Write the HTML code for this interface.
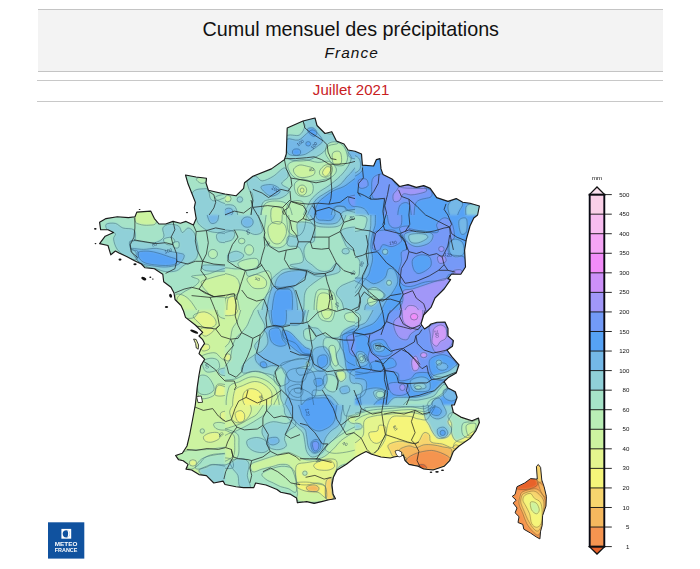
<!DOCTYPE html>
<html><head><meta charset="utf-8">
<style>
html,body{margin:0;padding:0;background:#fff;}
body{width:700px;height:569px;position:relative;overflow:hidden;font-family:"Liberation Sans",sans-serif;}
.hdr{position:absolute;left:37.5px;top:9px;width:625.5px;height:63px;background:#f3f3f3;border-top:1px solid #c4c4c4;border-bottom:1px solid #c4c4c4;box-sizing:border-box;}
.t1{position:absolute;left:0.8px;width:700px;top:17.2px;text-align:center;font-size:19.75px;line-height:24px;color:#111;}
.t2{position:absolute;left:1.7px;width:700px;top:43.1px;text-align:center;letter-spacing:1.05px;font-size:15.4px;line-height:20px;color:#111;font-style:italic;}
.ln{position:absolute;left:37px;width:626px;height:1px;background:#c8c8c8;}
.t3{position:absolute;left:1.1px;width:700px;top:79.8px;text-align:center;letter-spacing:0.05px;font-size:15px;line-height:20px;color:#c8201e;}
svg{position:absolute;left:0;top:0;}
</style></head><body>
<div class="hdr"></div>
<div class="t1">Cumul mensuel des précipitations</div>
<div class="t2">France</div>
<div class="ln" style="top:80px"></div>
<div class="ln" style="top:101px"></div>
<div class="t3">Juillet 2021</div>
<svg width="700" height="569" viewBox="0 0 700 569">
<defs>
<path id="fr" d="M303,121 L315,118 L317,125.5 L325,133.5 L331.8,131.7 L336.4,141 L344,144 L348,150 L355,151.2 L361.5,154 L362.4,165.1 L373.6,166 L376.4,159.6 L380,158.6 L381,168.9 L383,174.4 L392,179 L399.6,186.5 L408,184.6 L416.3,187.4 L423.7,185.6 L430.2,188.4 L436.7,197.6 L448,201.4 L456.2,198.6 L462.7,202.3 L470,203.2 L479.4,206 L477.6,215 L473.8,218 L470,226 L466.4,239 L464.6,250.3 L465.5,267 L460.8,274.2 L451.6,274 L447.9,278.6 L450.6,279.6 L444.1,289 L435,298 L431,307.4 L423.7,315 L421,324 L424.5,329 L429,326 L431,324 L437,322.3 L445,322 L448,328.6 L448,336 L453.4,340.6 L452.5,346.2 L447,350 L451.6,356.4 L459,364.8 L456.2,373.1 L448,377.8 L444.1,381.5 L448,388 L455.3,391.7 L457.1,397.3 L454.3,405 L451.6,405 L453.4,412.4 L460.8,417.1 L472,420.8 L478.5,418 L479.4,422.6 L475.7,431 L470.1,438.4 L459,446 L453.4,451.4 L449.7,460.7 L444.1,466.3 L433,470 L423.7,469 L418.1,466.3 L409,464.4 L405.1,460.7 L403.3,455.1 L394,457 L390.3,458 L381,457 L371.7,454.2 L366.1,451.4 L360.6,454.2 L355,457.5 L346.4,464.3 L337.1,469.9 L333.4,477.3 L332,485 L333,494 L335.5,498.8 L329,499.7 L321.6,501.6 L314.1,503.4 L306.7,501.6 L297.4,502.8 L296.5,497.9 L290,494.1 L280.7,492.3 L277,489.5 L266,485 L255.6,483 L253.8,487.6 L243.6,487.6 L236,486.7 L225,484.5 L223.1,481.1 L213.8,483 L206.4,475.6 L199,474.6 L191.6,470 L186,469.1 L188,464.4 L183.2,460.7 L178.6,459.8 L175.6,455.5 L182.3,453.3 L187,446 L189.7,434.7 L192.5,420 L195.3,405 L196.2,397.3 L197.1,388 L199,375 L200.8,365.7 L204.6,359.2 L199,353.6 L200.8,349 L204.6,343.4 L202.7,339.7 L199,336 L202.7,332.3 L195.3,325 L185.5,317.4 L183.5,311 L181,305.5 L175,299.5 L174,293 L171,287.3 L163.7,281.7 L162.8,274.3 L154.4,268.7 L145,267.8 L141.4,264 L134,260.4 L126.6,256.6 L119,253 L115.4,251 L110.8,254.8 L108,245.5 L99.6,243.6 L105.2,236.2 L113.6,232.5 L108,229.7 L100.6,229.7 L99.6,222.3 L106,218.6 L117.3,216.7 L128.4,217.6 L135,216.7 L136.8,212.1 L150.7,211.1 L154.4,218.6 L159,224 L165.6,224 L173,221.4 L180.4,223.2 L186,221.4 L193.4,225 L196.2,218.6 L194.3,207.4 L195.4,202.4 L191.7,193 L188,183.8 L185.5,175 L196,177 L206.5,178.2 L206,183 L208.4,190.3 L215.8,192 L225,194 L236,195.8 L243.6,188.4 L244.5,182.8 L252.9,176.3 L271.4,168.9 L284.4,159.6 L286.3,154 L287.2,128 Z"/>
<path id="co" d="M538.3,464.5 L536.4,466.4 L537.3,479 L535.4,479 L530.6,478.6 L524.8,482.9 L517,486.7 L515.1,494.4 L512.2,496.4 L516.1,500.2 L513.2,503.1 L517,508 L515.1,512.8 L519,516.7 L518,522.5 L522.8,524.4 L523.8,529.2 L530.6,533.1 L536.4,537 L539.9,538.9 L540.6,531.2 L542.2,525.4 L542.6,515.7 L546,506 L546.4,496.4 L544.1,486.7 L541.8,480 L540.6,467.4 Z"/>
<clipPath id="cfr"><path d="M303,121 L315,118 L317,125.5 L325,133.5 L331.8,131.7 L336.4,141 L344,144 L348,150 L355,151.2 L361.5,154 L362.4,165.1 L373.6,166 L376.4,159.6 L380,158.6 L381,168.9 L383,174.4 L392,179 L399.6,186.5 L408,184.6 L416.3,187.4 L423.7,185.6 L430.2,188.4 L436.7,197.6 L448,201.4 L456.2,198.6 L462.7,202.3 L470,203.2 L479.4,206 L477.6,215 L473.8,218 L470,226 L466.4,239 L464.6,250.3 L465.5,267 L460.8,274.2 L451.6,274 L447.9,278.6 L450.6,279.6 L444.1,289 L435,298 L431,307.4 L423.7,315 L421,324 L424.5,329 L429,326 L431,324 L437,322.3 L445,322 L448,328.6 L448,336 L453.4,340.6 L452.5,346.2 L447,350 L451.6,356.4 L459,364.8 L456.2,373.1 L448,377.8 L444.1,381.5 L448,388 L455.3,391.7 L457.1,397.3 L454.3,405 L451.6,405 L453.4,412.4 L460.8,417.1 L472,420.8 L478.5,418 L479.4,422.6 L475.7,431 L470.1,438.4 L459,446 L453.4,451.4 L449.7,460.7 L444.1,466.3 L433,470 L423.7,469 L418.1,466.3 L409,464.4 L405.1,460.7 L403.3,455.1 L394,457 L390.3,458 L381,457 L371.7,454.2 L366.1,451.4 L360.6,454.2 L355,457.5 L346.4,464.3 L337.1,469.9 L333.4,477.3 L332,485 L333,494 L335.5,498.8 L329,499.7 L321.6,501.6 L314.1,503.4 L306.7,501.6 L297.4,502.8 L296.5,497.9 L290,494.1 L280.7,492.3 L277,489.5 L266,485 L255.6,483 L253.8,487.6 L243.6,487.6 L236,486.7 L225,484.5 L223.1,481.1 L213.8,483 L206.4,475.6 L199,474.6 L191.6,470 L186,469.1 L188,464.4 L183.2,460.7 L178.6,459.8 L175.6,455.5 L182.3,453.3 L187,446 L189.7,434.7 L192.5,420 L195.3,405 L196.2,397.3 L197.1,388 L199,375 L200.8,365.7 L204.6,359.2 L199,353.6 L200.8,349 L204.6,343.4 L202.7,339.7 L199,336 L202.7,332.3 L195.3,325 L185.5,317.4 L183.5,311 L181,305.5 L175,299.5 L174,293 L171,287.3 L163.7,281.7 L162.8,274.3 L154.4,268.7 L145,267.8 L141.4,264 L134,260.4 L126.6,256.6 L119,253 L115.4,251 L110.8,254.8 L108,245.5 L99.6,243.6 L105.2,236.2 L113.6,232.5 L108,229.7 L100.6,229.7 L99.6,222.3 L106,218.6 L117.3,216.7 L128.4,217.6 L135,216.7 L136.8,212.1 L150.7,211.1 L154.4,218.6 L159,224 L165.6,224 L173,221.4 L180.4,223.2 L186,221.4 L193.4,225 L196.2,218.6 L194.3,207.4 L195.4,202.4 L191.7,193 L188,183.8 L185.5,175 L196,177 L206.5,178.2 L206,183 L208.4,190.3 L215.8,192 L225,194 L236,195.8 L243.6,188.4 L244.5,182.8 L252.9,176.3 L271.4,168.9 L284.4,159.6 L286.3,154 L287.2,128 Z"/></clipPath>
<clipPath id="cco"><path d="M538.3,464.5 L536.4,466.4 L537.3,479 L535.4,479 L530.6,478.6 L524.8,482.9 L517,486.7 L515.1,494.4 L512.2,496.4 L516.1,500.2 L513.2,503.1 L517,508 L515.1,512.8 L519,516.7 L518,522.5 L522.8,524.4 L523.8,529.2 L530.6,533.1 L536.4,537 L539.9,538.9 L540.6,531.2 L542.2,525.4 L542.6,515.7 L546,506 L546.4,496.4 L544.1,486.7 L541.8,480 L540.6,467.4 Z"/></clipPath>
<filter id="bl" x="-5%" y="-5%" width="110%" height="110%"><feGaussianBlur stdDeviation="1.1"/></filter>
</defs>
<!-- MAP -->
<g clip-path="url(#cfr)">
<g id="field" filter="url(#bl)">
<rect x="90" y="110" width="400" height="400" fill="#a6e3c8"/>
<clipPath id="t0"><rect x="95" y="115" width="130" height="100"/></clipPath>
<g clip-path="url(#t0)"><rect x="95" y="115" width="130" height="100" fill="#a6e3c8"/>
<path d="M196.2,179.1 C196.3,178.0 200.1,177.0 201.8,176.8 C203.5,176.6 205.7,177.2 206.4,178.1 C207.1,178.9 207.0,181.0 206.1,181.9 C205.2,182.8 202.6,183.8 200.9,183.3 C199.2,182.8 196.0,180.2 196.2,179.1Z" fill="#b9eeb5"/>
<path d="M191.9,193.9 C193.7,188.1 202.1,189.1 204.9,188.7 C207.7,188.3 207.8,189.8 208.7,191.5 C209.6,193.2 209.3,197.0 210.5,198.6 C211.7,200.2 211.9,201.0 215.7,200.8 C219.5,200.6 230.4,193.8 233.4,197.6 C236.4,201.4 239.9,219.1 233.4,223.4 C226.9,227.7 201.3,228.3 194.4,223.4 C187.5,218.5 190.2,199.7 191.9,193.9Z" fill="#90d0d8"/>
<path d="M215.7,196.7 C217.7,195.3 230.4,192.7 233.4,193.9 C236.4,195.1 235.4,202.7 233.4,204.1 C231.4,205.5 224.2,203.5 221.3,202.3 C218.4,201.1 213.7,198.1 215.7,196.7Z" fill="#a6e3c8"/>
<path d="M134.0,211.6 C137.4,209.4 151.0,208.1 154.4,210.1 C157.8,212.1 157.8,221.2 154.4,223.4 C151.0,225.6 137.4,225.4 134.0,223.4 C130.6,221.4 130.6,213.8 134.0,211.6Z" fill="#ccf3a0"/>
</g>
<clipPath id="t1"><rect x="225" y="115" width="130" height="100"/></clipPath>
<g clip-path="url(#t1)"><rect x="225" y="115" width="130" height="100" fill="#a6e3c8"/>
<path d="M286.3,136.4 C288.6,133.1 296.2,136.8 299.3,135.1 C302.4,133.4 304.3,128.7 304.9,126.1 C305.5,123.5 301.0,121.1 303.0,119.6 C305.0,118.1 314.3,115.8 316.9,116.9 C319.5,118.0 317.1,123.3 318.8,126.1 C320.5,128.9 324.2,132.2 327.1,133.6 C330.0,135.0 334.5,132.9 336.4,134.5 C338.3,136.1 339.5,141.1 338.3,142.9 C337.1,144.8 331.5,144.1 329.0,145.6 C326.5,147.1 325.6,150.2 323.4,152.1 C321.2,154.0 318.8,155.4 316.0,156.8 C313.2,158.2 310.4,159.9 306.7,160.5 C303.0,161.1 297.2,161.4 293.7,160.5 C290.1,159.6 286.6,158.9 285.4,154.9 C284.2,150.9 284.0,139.7 286.3,136.4Z" fill="#90d0d8"/>
<path d="M287.2,139.1 C289.2,137.7 295.1,141.0 298.4,140.1 C301.6,139.2 304.4,135.3 306.7,133.6 C309.0,131.9 310.4,129.9 312.3,129.9 C314.2,129.9 316.2,131.8 317.9,133.6 C319.6,135.4 322.7,138.8 322.5,141.0 C322.3,143.2 318.9,144.9 316.9,146.6 C314.9,148.3 312.7,149.8 310.4,151.2 C308.1,152.6 306.4,154.3 303.0,154.9 C299.6,155.5 292.8,156.0 290.0,154.9 C287.2,153.8 286.8,151.0 286.3,148.4 C285.8,145.8 285.2,140.5 287.2,139.1Z" fill="#74b8e7"/>
<ellipse cx="296.5" cy="152.1" rx="4.1" ry="3.2" transform="rotate(0.0 296.5 152.1)" fill="#56a2f5"/>
<ellipse cx="308.2" cy="143.8" rx="2.4" ry="2.2" transform="rotate(0.0 308.2 143.8)" fill="#56a2f5"/>
<path d="M307.6,128.9 C308.2,128.0 311.6,127.4 313.2,128.0 C314.8,128.6 316.8,131.2 316.9,132.6 C317.0,134.0 315.3,136.2 314.1,136.4 C312.9,136.6 310.6,134.8 309.5,133.6 C308.4,132.3 307.0,129.8 307.6,128.9Z" fill="#56a2f5"/>
<path d="M247.3,179.1 C248.4,176.9 253.1,176.0 255.6,176.3 C258.1,176.6 259.2,180.9 262.1,180.9 C265.1,180.9 269.6,178.5 273.3,176.3 C277.0,174.1 281.9,167.9 284.4,167.9 C286.9,167.9 288.6,173.7 288.1,176.3 C287.6,178.9 281.4,181.5 281.6,183.7 C281.8,185.9 288.3,187.4 289.1,189.3 C289.9,191.2 288.0,193.4 286.3,194.9 C284.6,196.4 281.7,197.8 278.9,198.6 C276.1,199.4 272.4,198.6 269.6,199.5 C266.8,200.4 263.7,200.1 262.1,204.1 C260.6,208.1 262.2,220.2 260.3,223.4 C258.4,226.6 252.2,227.9 251.0,223.4 C249.8,218.9 253.2,202.4 252.9,196.7 C252.6,191.0 250.0,192.2 249.1,189.3 C248.2,186.4 246.2,181.3 247.3,179.1Z" fill="#90d0d8"/>
<path d="M261.2,186.5 C262.3,185.2 268.4,184.3 271.4,184.6 C274.4,184.9 277.9,187.0 279.2,188.4 C280.5,189.8 280.5,191.7 279.2,193.0 C277.9,194.3 273.8,196.3 271.4,196.2 C269.0,196.1 266.6,194.0 264.9,192.4 C263.2,190.8 260.1,187.8 261.2,186.5Z" fill="#74b8e7"/>
<path d="M289.1,163.3 C291.4,161.5 298.2,159.8 303.0,159.6 C307.8,159.4 313.6,162.1 317.9,162.4 C322.2,162.7 325.9,160.3 329.0,161.4 C332.1,162.5 335.8,166.4 336.4,168.9 C337.0,171.4 335.2,174.5 332.7,176.3 C330.2,178.2 325.6,179.2 321.6,180.0 C317.6,180.8 312.9,181.2 308.6,180.9 C304.3,180.6 298.9,179.8 295.6,178.1 C292.4,176.4 290.2,173.2 289.1,170.7 C288.0,168.2 286.8,165.2 289.1,163.3Z" fill="#b9eeb5"/>
<path d="M293.7,168.9 C294.5,167.5 297.1,165.6 299.3,165.1 C301.5,164.6 304.2,165.5 306.7,166.1 C309.2,166.7 312.9,167.5 314.1,168.9 C315.3,170.3 315.3,173.0 314.1,174.4 C312.9,175.8 309.2,176.7 306.7,177.2 C304.2,177.7 301.3,177.8 299.3,177.2 C297.3,176.6 295.5,174.9 294.6,173.5 C293.7,172.1 292.9,170.3 293.7,168.9Z" fill="#ccf3a0"/>
<path d="M319.7,170.7 C320.5,169.0 323.3,165.9 325.3,165.1 C327.3,164.3 330.7,164.8 331.8,166.1 C332.9,167.3 332.7,170.8 331.8,172.6 C330.9,174.4 328.1,176.7 326.2,177.2 C324.3,177.7 321.7,176.5 320.6,175.4 C319.5,174.3 318.9,172.4 319.7,170.7Z" fill="#ccf3a0"/>
<path d="M322.5,172.6 C322.6,171.0 324.8,167.8 326.2,167.0 C327.6,166.2 330.4,166.8 330.9,167.9 C331.4,169.0 329.9,172.1 329.0,173.5 C328.1,174.9 326.4,176.5 325.3,176.3 C324.2,176.2 322.4,174.2 322.5,172.6Z" fill="#e4f58e"/>
<path d="M328.1,143.8 C330.0,142.1 333.8,141.4 336.4,141.9 C339.0,142.4 342.0,144.0 343.9,146.6 C345.8,149.2 347.6,154.6 347.6,157.7 C347.6,160.8 346.1,163.9 343.9,165.1 C341.7,166.3 337.1,166.0 334.6,165.1 C332.1,164.2 330.6,161.8 329.0,159.6 C327.4,157.4 325.4,154.7 325.3,152.1 C325.2,149.5 326.2,145.5 328.1,143.8Z" fill="#b9eeb5"/>
<path d="M332.7,153.1 C333.8,151.1 338.7,150.4 340.1,152.1 C341.5,153.8 342.2,161.3 341.1,163.3 C340.0,165.3 335.0,165.9 333.6,164.2 C332.2,162.5 331.6,155.1 332.7,153.1Z" fill="#ccf3a0"/>
<path d="M294.6,183.7 C295.7,181.2 300.1,179.1 303.0,179.1 C305.9,179.1 310.8,181.4 312.3,183.7 C313.9,186.0 313.5,190.8 312.3,193.0 C311.1,195.2 307.5,196.5 304.9,196.7 C302.3,196.8 298.2,196.1 296.5,193.9 C294.8,191.7 293.5,186.2 294.6,183.7Z" fill="#b9eeb5"/>
<ellipse cx="302.1" cy="190.2" rx="4.6" ry="5.2" transform="rotate(0.0 302.1 190.2)" fill="#ccf3a0"/>
<ellipse cx="302.1" cy="190.2" rx="1.9" ry="2.2" transform="rotate(0.0 302.1 190.2)" fill="#e4f58e"/>
<path d="M347.6,149.4 C349.6,148.2 360.8,138.0 363.4,150.3 C366.0,162.6 372.8,211.2 363.4,223.4 C353.9,235.6 315.8,226.6 306.7,223.4 C297.6,220.2 306.7,209.2 308.6,204.1 C310.5,199.0 314.5,196.1 317.9,193.0 C321.3,189.9 325.3,188.4 329.0,185.6 C332.7,182.8 337.0,179.4 340.1,176.3 C343.2,173.2 345.7,170.1 347.6,167.0 C349.5,163.9 351.3,160.6 351.3,157.7 C351.3,154.8 345.6,150.6 347.6,149.4Z" fill="#90d0d8"/>
<path d="M363.4,165.1 C365.7,173.3 372.2,213.7 363.4,223.4 C354.6,233.1 318.6,226.9 310.4,223.4 C302.2,219.9 311.3,207.5 314.1,202.3 C316.9,197.1 322.8,195.1 327.1,192.1 C331.4,189.1 336.4,187.5 340.1,184.6 C343.8,181.7 345.5,177.7 349.4,174.4 C353.3,171.2 361.1,156.9 363.4,165.1Z" fill="#74b8e7"/>
<path d="M363.4,176.3 C360.1,172.4 348.6,184.2 343.9,186.5 C339.1,188.8 337.7,188.6 334.9,190.0 C332.1,191.4 330.0,192.5 327.0,195.0 C324.0,197.5 318.8,200.4 316.9,205.1 C315.0,209.8 312.7,220.3 315.6,223.4 C318.6,226.5 331.4,226.0 334.6,223.4 C337.8,220.8 333.3,210.7 334.9,207.9 C336.4,205.2 341.8,206.5 343.9,206.9 C346.0,207.3 344.4,210.1 347.6,210.6 C350.9,211.1 360.8,215.4 363.4,209.7 C366.0,204.0 366.6,180.2 363.4,176.3Z" fill="#56a2f5"/>
<path d="M333.6,207.9 C335.3,205.1 341.4,206.0 343.9,206.4 C346.4,206.8 345.2,209.6 348.5,210.1 C351.8,210.6 360.9,207.1 363.4,209.3 C365.9,211.5 368.4,221.1 363.4,223.4 C358.4,225.8 338.6,226.0 333.6,223.4 C328.6,220.8 331.9,210.7 333.6,207.9Z" fill="#74b8e7"/>
<path d="M342.9,211.9 C346.5,209.8 360.0,208.7 363.4,210.6 C366.8,212.5 367.0,221.3 363.4,223.4 C359.8,225.5 345.4,225.3 342.0,223.4 C338.6,221.5 339.3,214.0 342.9,211.9Z" fill="#90d0d8"/>
<path d="M349.4,196.7 C351.4,195.1 361.1,194.2 363.4,195.8 C365.7,197.4 365.4,204.4 363.4,206.0 C361.4,207.6 353.6,207.2 351.3,205.6 C349.0,204.0 347.4,198.3 349.4,196.7Z" fill="#7699f7"/>
<path d="M349.4,151.2 C351.6,150.1 361.1,150.0 363.4,151.2 C365.7,152.4 365.6,157.5 363.4,158.6 C361.2,159.7 352.7,158.9 350.4,157.7 C348.1,156.5 347.2,152.3 349.4,151.2Z" fill="#74b8e7"/>
<path d="M264.9,204.1 C268.0,200.4 276.5,200.8 280.7,201.4 C284.9,202.0 288.4,204.2 290.0,207.9 C291.6,211.6 294.6,220.8 290.0,223.4 C285.4,226.0 266.3,226.6 262.1,223.4 C257.9,220.2 261.8,207.8 264.9,204.1Z" fill="#b9eeb5"/>
<path d="M271.4,208.8 C272.5,206.1 277.0,206.4 278.9,206.9 C280.8,207.4 282.3,208.8 282.6,211.6 C282.9,214.3 282.4,221.4 280.7,223.4 C279.0,225.4 273.9,225.8 272.4,223.4 C270.8,221.0 270.3,211.6 271.4,208.8Z" fill="#ccf3a0"/>
<ellipse cx="227.8" cy="198.6" rx="3.3" ry="3.3" transform="rotate(0.0 227.8 198.6)" fill="#ccf3a0"/>
<ellipse cx="239.9" cy="199.5" rx="2.8" ry="2.8" transform="rotate(0.0 239.9 199.5)" fill="#90d0d8"/>
<path d="M216.6,207.9 C219.6,205.0 231.1,203.4 234.3,206.0 C237.6,208.6 239.1,220.5 236.1,223.4 C233.1,226.3 219.8,226.0 216.6,223.4 C213.3,220.8 213.6,210.8 216.6,207.9Z" fill="#90d0d8"/>
<ellipse cx="228.7" cy="211.9" rx="4.1" ry="3.7" transform="rotate(0.0 228.7 211.9)" fill="#74b8e7"/>
<path d="M288.1,204.1 C290.6,200.6 300.2,199.1 303.0,202.3 C305.8,205.5 307.4,219.9 304.9,223.4 C302.4,226.9 290.9,226.6 288.1,223.4 C285.3,220.2 285.6,207.6 288.1,204.1Z" fill="#b9eeb5"/>
</g>
<clipPath id="t2"><rect x="355" y="115" width="130" height="100"/></clipPath>
<g clip-path="url(#t2)"><rect x="355" y="115" width="130" height="100" fill="#56a2f5"/>
<path d="M373.6,177.2 C376.2,174.7 383.3,172.5 387.5,174.1 C391.7,175.7 393.8,184.1 398.6,186.5 C403.4,188.9 411.2,187.9 416.3,188.4 C421.4,188.9 426.8,187.9 429.3,189.3 C431.8,190.7 433.3,194.5 431.1,196.7 C428.9,198.9 419.7,197.9 416.3,202.3 C412.9,206.8 416.0,219.9 410.7,223.4 C405.4,226.9 389.0,227.2 384.7,223.4 C380.4,219.6 386.5,204.5 384.7,200.4 C382.9,196.3 375.8,200.4 373.6,198.6 C371.4,196.8 371.7,192.9 371.7,189.3 C371.7,185.7 371.0,179.7 373.6,177.2Z" fill="#7699f7"/>
<path d="M399.6,206.0 C401.3,202.8 407.0,201.2 408.9,204.1 C410.8,207.0 412.4,220.2 410.7,223.4 C409.0,226.6 400.5,226.3 398.6,223.4 C396.8,220.5 397.9,209.2 399.6,206.0Z" fill="#56a2f5"/>
<path d="M399.6,186.5 C401.6,185.7 406.1,185.0 408.9,185.2 C411.7,185.4 413.8,187.6 416.3,187.8 C418.8,188.0 422.0,185.9 423.7,186.5 C425.4,187.1 427.4,189.9 426.5,191.1 C425.6,192.3 420.7,193.3 418.1,193.9 C415.5,194.5 413.2,194.9 410.7,194.9 C408.2,194.9 405.1,193.0 403.3,193.9 C401.5,194.8 401.2,199.2 399.6,200.4 C398.1,201.7 395.1,202.3 394.0,201.4 C392.9,200.5 392.6,196.8 393.1,194.9 C393.6,193.0 395.7,191.6 396.8,190.2 C397.9,188.8 397.6,187.3 399.6,186.5Z" fill="#a197f8"/>
<path d="M358.7,180.0 C359.9,178.8 364.6,178.2 366.1,179.1 C367.7,180.0 368.6,184.0 368.0,185.6 C367.4,187.2 363.9,188.2 362.4,188.4 C360.8,188.6 359.3,187.9 358.7,186.5 C358.1,185.1 357.5,181.2 358.7,180.0Z" fill="#7699f7"/>
<path d="M346.6,149.4 C348.9,145.3 357.9,149.8 360.6,152.1 C363.3,154.4 362.8,159.9 362.8,163.3 C362.8,166.7 363.3,170.4 360.6,172.6 C357.9,174.8 348.9,180.6 346.6,176.7 C344.3,172.8 344.3,153.5 346.6,149.4Z" fill="#74b8e7"/>
<path d="M346.6,154.9 C348.6,152.2 356.6,155.6 358.7,158.1 C360.8,160.6 361.5,167.1 359.5,169.8 C357.5,172.5 348.8,176.6 346.6,174.1 C344.5,171.6 344.6,157.6 346.6,154.9Z" fill="#90d0d8"/>
<path d="M346.6,207.9 C349.6,205.5 360.6,206.2 364.3,208.8 C368.0,211.4 371.8,221.0 368.9,223.4 C365.9,225.8 350.3,226.0 346.6,223.4 C342.9,220.8 343.7,210.3 346.6,207.9Z" fill="#74b8e7"/>
<path d="M451.6,200.4 C453.5,198.8 457.1,198.0 459.0,198.6 C460.9,199.2 462.7,201.9 462.7,204.1 C462.7,206.3 460.6,208.4 459.0,211.6 C457.4,214.8 455.2,224.0 453.4,223.4 C451.5,222.8 448.2,211.7 447.9,207.9 C447.6,204.1 449.8,202.0 451.6,200.4Z" fill="#74b8e7"/>
<path d="M466.4,206.0 C468.2,203.1 477.5,203.1 479.4,206.0 C481.3,208.9 479.5,220.5 477.6,223.4 C475.8,226.3 470.2,226.3 468.3,223.4 C466.4,220.5 464.5,208.9 466.4,206.0Z" fill="#90d0d8"/>
</g>
<clipPath id="t3"><rect x="95" y="215" width="130" height="95"/></clipPath>
<g clip-path="url(#t3)"><rect x="95" y="215" width="130" height="95" fill="#a6e3c8"/>
<path d="M134.9,206.6 C138.2,204.3 150.8,204.0 154.4,206.6 C158.0,209.2 157.2,219.3 156.3,222.4 C155.4,225.5 151.7,224.9 148.9,225.2 C146.1,225.5 141.9,225.1 139.6,224.3 C137.3,223.5 135.7,223.6 134.9,220.6 C134.1,217.6 131.7,208.9 134.9,206.6Z" fill="#ccf3a0"/>
<path d="M106.1,224.3 C107.3,223.1 112.6,222.8 115.4,223.4 C118.2,224.0 119.8,226.9 122.9,228.0 C126.0,229.1 132.0,227.9 134.0,229.9 C136.0,231.9 135.5,238.1 134.9,240.1 C134.3,242.1 130.9,240.3 130.3,241.9 C129.7,243.5 130.0,247.9 131.2,249.4 C132.4,250.9 136.8,249.5 137.7,251.2 C138.6,252.9 138.7,258.7 136.8,259.6 C135.0,260.5 129.8,258.5 126.6,256.8 C123.3,255.1 119.5,252.4 117.3,249.4 C115.1,246.4 113.9,241.7 113.6,239.1 C113.3,236.5 116.3,235.0 115.4,233.6 C114.5,232.2 109.5,232.4 108.0,230.8 C106.5,229.2 104.9,225.5 106.1,224.3Z" fill="#90d0d8"/>
<path d="M130.3,241.0 C132.3,239.6 139.3,241.6 143.3,241.9 C147.3,242.2 151.0,243.7 154.4,242.9 C157.8,242.1 162.3,239.8 163.7,237.3 C165.1,234.8 161.9,230.2 162.8,228.0 C163.7,225.8 166.7,224.6 169.3,224.3 C171.9,224.0 176.4,224.7 178.6,226.1 C180.8,227.5 180.8,232.3 182.3,232.6 C183.9,232.9 186.1,228.2 187.9,228.0 C189.8,227.8 192.0,229.8 193.4,231.7 C194.8,233.5 195.4,236.0 196.2,239.1 C197.0,242.2 198.2,246.9 198.1,250.3 C197.9,253.7 197.6,257.1 195.3,259.6 C193.0,262.1 187.2,263.2 184.1,265.1 C181.0,267.0 179.8,269.6 176.7,270.7 C173.6,271.8 169.0,271.9 165.6,271.6 C162.2,271.3 159.7,269.8 156.3,268.9 C152.9,268.0 148.2,267.5 145.1,266.1 C142.0,264.7 140.0,263.1 137.7,260.5 C135.4,257.9 132.4,253.6 131.2,250.3 C130.0,247.1 128.3,242.4 130.3,241.0Z" fill="#90d0d8"/>
<path d="M163.7,239.1 C164.6,238.0 169.2,237.0 171.1,237.3 C173.0,237.6 174.9,239.8 174.9,241.0 C174.9,242.2 172.7,244.2 171.1,244.7 C169.5,245.2 166.8,244.7 165.6,243.8 C164.4,242.9 162.8,240.2 163.7,239.1Z" fill="#a6e3c8"/>
<path d="M173.0,242.9 C173.8,242.0 177.7,241.1 178.6,241.9 C179.5,242.7 179.4,246.6 178.6,247.5 C177.8,248.4 174.8,248.3 173.9,247.5 C173.0,246.7 172.2,243.8 173.0,242.9Z" fill="#a6e3c8"/>
<path d="M131.2,248.4 C132.4,248.0 139.1,249.4 143.3,249.4 C147.5,249.4 152.0,248.1 156.3,248.4 C160.6,248.7 165.6,250.4 169.3,251.2 C173.0,252.0 176.1,252.5 178.6,253.1 C181.1,253.7 183.5,253.7 184.1,254.9 C184.7,256.1 183.5,258.8 182.3,260.5 C181.1,262.2 179.5,264.0 176.7,265.1 C173.9,266.2 169.3,266.8 165.6,267.0 C161.9,267.2 158.1,266.6 154.4,266.1 C150.7,265.6 146.2,265.3 143.3,264.2 C140.4,263.1 138.0,261.6 136.8,259.6 C135.6,257.6 136.8,254.0 135.9,252.1 C135.0,250.2 130.0,248.8 131.2,248.4Z" fill="#74b8e7"/>
<path d="M138.6,252.1 C140.2,250.9 145.7,251.0 148.9,251.2 C152.2,251.4 154.7,252.2 158.1,253.1 C161.5,254.0 166.2,255.7 169.3,256.8 C172.4,257.9 175.8,258.4 176.7,259.6 C177.6,260.8 176.8,263.2 174.9,264.2 C173.1,265.2 169.0,265.4 165.6,265.5 C162.2,265.6 157.8,265.2 154.4,264.8 C151.0,264.4 147.6,263.9 145.1,262.9 C142.6,261.9 140.7,260.4 139.6,258.6 C138.5,256.8 137.0,253.3 138.6,252.1Z" fill="#56a2f5"/>
<path d="M195.3,206.6 C201.4,204.3 227.1,202.4 233.4,206.6 C239.8,210.8 236.0,227.4 233.4,231.7 C230.8,236.0 221.8,232.8 217.6,232.6 C213.4,232.4 211.1,231.9 208.3,230.8 C205.5,229.7 202.8,227.8 200.9,226.1 C199.0,224.4 198.0,223.8 197.1,220.6 C196.2,217.3 189.2,208.9 195.3,206.6Z" fill="#90d0d8"/>
<path d="M206.4,206.6 C207.7,204.0 215.7,204.3 217.6,206.6 C219.5,208.9 218.8,218.0 217.6,220.6 C216.3,223.2 212.0,224.7 210.1,222.4 C208.2,220.1 205.2,209.2 206.4,206.6Z" fill="#74b8e7"/>
<path d="M217.6,233.6 C219.9,231.9 230.8,230.5 233.4,231.7 C236.0,232.9 235.7,239.3 233.4,241.0 C231.1,242.7 222.0,243.1 219.4,241.9 C216.8,240.7 215.3,235.3 217.6,233.6Z" fill="#90d0d8"/>
<ellipse cx="212.9" cy="254.0" rx="4.6" ry="4.6" transform="rotate(0.0 212.9 254.0)" fill="#b9eeb5"/>
<path d="M191.6,276.3 C192.8,275.4 199.4,275.3 206.4,274.4 C213.4,273.5 228.9,263.4 233.4,270.7 C237.9,278.0 242.5,310.4 233.4,318.4 C224.3,326.3 188.1,321.4 178.6,318.4 C169.1,315.4 176.1,304.6 176.7,300.4 C177.3,296.2 179.2,295.5 182.3,293.0 C185.4,290.5 192.5,287.8 195.3,285.6 C198.1,283.4 199.6,281.6 199.0,280.0 C198.4,278.4 190.4,277.2 191.6,276.3Z" fill="#b9eeb5"/>
<path d="M204.6,280.0 C209.9,278.3 228.6,271.9 233.4,274.4 C238.2,276.9 236.7,291.2 233.4,294.9 C230.2,298.6 218.4,297.3 213.9,296.7 C209.4,296.1 208.4,293.1 206.4,291.1 C204.4,289.1 202.1,286.5 201.8,284.6 C201.5,282.8 199.3,281.7 204.6,280.0Z" fill="#ccf3a0"/>
<path d="M174.9,296.7 C175.2,292.8 179.5,294.0 182.3,294.9 C185.1,295.8 188.8,298.4 191.6,302.3 C194.4,306.2 200.9,315.7 199.0,318.4 C197.1,321.1 184.4,322.0 180.4,318.4 C176.4,314.8 174.6,300.6 174.9,296.7Z" fill="#ccf3a0"/>
<path d="M204.6,265.1 C209.1,264.5 228.6,266.1 233.4,267.0 C238.2,267.9 237.9,270.1 233.4,270.7 C228.9,271.3 211.2,271.6 206.4,270.7 C201.6,269.8 200.1,265.7 204.6,265.1Z" fill="#90d0d8"/>
</g>
<clipPath id="t4"><rect x="225" y="215" width="130" height="95"/></clipPath>
<g clip-path="url(#t4)"><rect x="225" y="215" width="130" height="95" fill="#a6e3c8"/>
<path d="M216.6,206.6 C220.8,202.4 235.3,206.6 241.7,206.6 C248.0,206.6 251.6,204.0 254.7,206.6 C257.8,209.2 259.1,218.2 260.3,222.4 C261.5,226.6 263.0,229.7 262.1,231.7 C261.2,233.7 257.5,234.7 254.7,234.5 C251.9,234.3 248.5,231.6 245.4,230.8 C242.3,230.0 240.9,229.8 236.1,229.9 C231.3,230.1 219.8,235.6 216.6,231.7 C213.3,227.8 212.4,210.8 216.6,206.6Z" fill="#90d0d8"/>
<ellipse cx="247.3" cy="222.1" rx="5.9" ry="5.2" transform="rotate(0.0 247.3 222.1)" fill="#74b8e7"/>
<path d="M264.9,224.3 C265.7,219.2 266.0,209.6 269.6,206.6 C273.2,203.6 283.1,201.8 286.3,206.6 C289.6,211.4 289.7,228.7 289.1,235.4 C288.5,242.1 285.6,244.7 282.6,246.6 C279.7,248.5 274.3,248.1 271.4,246.6 C268.4,245.1 266.0,241.0 264.9,237.3 C263.8,233.6 264.1,229.4 264.9,224.3Z" fill="#b9eeb5"/>
<path d="M271.4,206.6 C272.9,204.3 279.0,204.0 280.7,206.6 C282.4,209.2 282.5,219.6 281.6,222.4 C280.7,225.2 276.8,223.7 275.1,223.4 C273.4,223.1 272.0,223.4 271.4,220.6 C270.8,217.8 269.8,208.9 271.4,206.6Z" fill="#ccf3a0"/>
<path d="M288.1,206.6 C291.1,203.6 302.1,203.3 304.9,206.6 C307.7,209.8 305.8,221.3 304.9,226.1 C304.0,230.9 301.8,234.2 299.3,235.4 C296.8,236.7 292.0,235.4 290.0,233.6 C288.0,231.8 287.5,228.8 287.2,224.3 C286.9,219.8 285.2,209.6 288.1,206.6Z" fill="#b9eeb5"/>
<path d="M268.6,226.1 C269.9,223.8 273.5,221.8 276.1,221.5 C278.7,221.2 282.7,222.3 284.4,224.3 C286.1,226.3 286.9,230.5 286.3,233.6 C285.7,236.7 282.9,241.3 280.7,242.9 C278.5,244.5 275.3,244.2 273.3,242.9 C271.3,241.7 269.4,238.2 268.6,235.4 C267.8,232.6 267.4,228.4 268.6,226.1Z" fill="#ccf3a0"/>
<path d="M288.1,236.4 C289.7,234.9 295.8,238.6 297.4,236.4 C298.9,234.2 295.8,225.7 297.4,223.4 C298.9,221.1 303.9,222.0 306.7,222.4 C309.5,222.8 312.9,223.0 314.1,226.1 C315.3,229.2 315.2,238.2 314.1,241.0 C313.0,243.8 309.3,241.3 307.6,242.9 C305.9,244.5 304.2,247.5 303.9,250.3 C303.6,253.1 304.4,257.1 305.8,259.6 C307.2,262.1 310.0,263.2 312.3,265.1 C314.6,267.0 316.9,269.8 319.7,270.7 C322.5,271.6 326.2,271.9 329.0,270.7 C331.8,269.5 334.5,263.3 336.4,263.3 C338.2,263.3 340.7,268.9 340.1,270.7 C339.5,272.5 336.4,273.5 332.7,274.4 C329.0,275.3 321.9,276.6 317.9,276.3 C313.9,276.0 311.7,273.8 308.6,272.6 C305.5,271.4 302.4,270.1 299.3,268.9 C296.2,267.6 289.4,266.4 290.0,265.1 C290.6,263.9 301.4,264.3 303.0,261.4 C304.6,258.5 301.8,250.1 299.3,247.5 C296.8,244.9 290.0,247.4 288.1,245.6 C286.2,243.8 286.6,237.9 288.1,236.4Z" fill="#90d0d8"/>
<path d="M271.4,280.0 C272.6,277.2 276.4,274.5 278.9,272.6 C281.4,270.8 281.7,269.4 286.3,268.9 C290.9,268.4 302.1,269.2 306.7,269.8 C311.3,270.4 311.0,271.8 314.1,272.6 C317.2,273.4 324.7,273.2 325.3,274.4 C325.9,275.6 320.4,278.1 317.9,280.0 C315.4,281.9 312.6,283.4 310.4,285.6 C308.2,287.8 306.8,287.5 304.9,293.0 C303.0,298.5 306.1,314.2 299.3,318.4 C292.5,322.6 269.6,322.0 264.0,318.4 C258.4,314.8 264.7,301.5 265.9,296.7 C267.1,291.9 270.5,292.1 271.4,289.3 C272.3,286.5 270.1,282.8 271.4,280.0Z" fill="#90d0d8"/>
<path d="M278.9,276.3 C281.1,274.0 284.1,272.5 288.1,271.6 C292.1,270.7 299.9,270.2 303.0,270.7 C306.1,271.2 307.3,272.5 306.7,274.4 C306.1,276.3 301.8,279.7 299.3,281.9 C296.8,284.1 295.0,286.3 291.9,287.4 C288.8,288.5 283.5,288.7 280.7,288.4 C277.9,288.1 275.4,287.6 275.1,285.6 C274.8,283.6 276.7,278.6 278.9,276.3Z" fill="#74b8e7"/>
<path d="M271.4,289.3 C273.4,284.1 277.0,287.4 280.7,287.4 C284.4,287.4 291.2,284.1 293.7,289.3 C296.2,294.5 299.8,313.5 295.6,318.4 C291.4,323.2 272.6,323.2 268.6,318.4 C264.6,313.5 269.4,294.5 271.4,289.3Z" fill="#74b8e7"/>
<path d="M275.1,293.0 C277.0,288.1 281.6,289.3 284.4,289.3 C287.2,289.3 291.0,288.1 291.9,293.0 C292.8,297.9 293.1,314.2 290.0,318.4 C286.9,322.6 275.8,322.6 273.3,318.4 C270.8,314.2 273.2,297.9 275.1,293.0Z" fill="#56a2f5"/>
<path d="M306.7,206.6 C312.0,203.8 338.2,203.6 343.9,206.6 C349.6,209.6 344.2,220.9 341.1,224.3 C338.0,227.7 330.1,227.2 325.3,227.1 C320.5,226.9 315.4,226.8 312.3,223.4 C309.2,220.0 301.4,209.4 306.7,206.6Z" fill="#90d0d8"/>
<path d="M310.4,206.6 C314.9,204.3 336.5,204.1 341.1,206.6 C345.8,209.1 340.9,218.6 338.3,221.5 C335.7,224.4 329.3,224.1 325.3,223.9 C321.3,223.8 316.6,223.5 314.1,220.6 C311.6,217.7 305.9,208.9 310.4,206.6Z" fill="#74b8e7"/>
<path d="M316.0,206.6 C318.9,204.6 331.8,204.5 334.6,206.6 C337.4,208.7 334.6,216.8 332.7,219.1 C330.8,221.4 326.0,220.3 323.4,220.2 C320.8,220.1 318.1,220.6 316.9,218.3 C315.7,216.0 313.1,208.6 316.0,206.6Z" fill="#56a2f5"/>
<path d="M342.0,229.9 C345.1,227.6 359.8,225.3 363.4,228.9 C367.0,232.5 365.7,248.2 363.4,251.4 C361.1,254.7 352.5,249.8 349.4,248.4 C346.3,247.0 346.0,246.0 344.8,242.9 C343.6,239.8 338.9,232.2 342.0,229.9Z" fill="#90d0d8"/>
<ellipse cx="345.7" cy="251.2" rx="3.7" ry="2.8" transform="rotate(0.0 345.7 251.2)" fill="#90d0d8"/>
<path d="M336.4,293.0 C336.7,290.1 339.4,286.4 343.9,284.6 C348.4,282.8 360.1,276.6 363.4,282.2 C366.6,287.8 366.0,312.4 363.4,318.4 C360.8,324.4 351.2,321.1 347.6,318.4 C344.0,315.7 343.9,306.5 342.0,302.3 C340.1,298.1 336.1,295.9 336.4,293.0Z" fill="#90d0d8"/>
<path d="M216.6,272.6 C219.8,264.4 231.3,269.2 236.1,268.9 C240.9,268.6 243.2,269.5 245.4,270.7 C247.6,271.9 245.4,276.3 249.1,276.3 C252.8,276.3 264.0,270.1 267.7,270.7 C271.4,271.3 271.4,276.3 271.4,280.0 C271.4,283.7 269.2,289.6 267.7,293.0 C266.1,296.4 266.1,296.2 262.1,300.4 C258.1,304.6 251.2,315.4 243.6,318.4 C236.0,321.4 221.1,326.0 216.6,318.4 C212.1,310.8 213.3,280.9 216.6,272.6Z" fill="#b9eeb5"/>
<path d="M247.3,278.1 C248.6,276.6 253.5,274.1 256.6,274.4 C259.7,274.7 264.5,277.8 265.9,280.0 C267.3,282.2 266.8,286.0 264.9,287.4 C263.0,288.8 257.3,289.0 254.7,288.4 C252.1,287.8 250.3,285.4 249.1,283.7 C247.9,282.0 246.1,279.7 247.3,278.1Z" fill="#ccf3a0"/>
<path d="M216.6,274.8 C219.6,271.3 230.5,274.5 234.3,276.3 C238.2,278.1 239.4,282.5 239.7,285.6 C240.0,288.7 239.9,293.0 236.1,294.9 C232.2,296.8 219.8,300.5 216.6,297.1 C213.3,293.8 213.6,278.3 216.6,274.8Z" fill="#ccf3a0"/>
<path d="M225.9,297.6 C227.6,293.8 233.9,292.3 236.1,295.8 C238.3,299.3 240.6,314.6 238.9,318.4 C237.2,322.2 228.1,321.9 225.9,318.4 C223.7,314.9 224.2,301.4 225.9,297.6Z" fill="#ccf3a0"/>
<path d="M227.8,299.5 C229.0,296.0 233.2,294.5 234.7,297.6 C236.1,300.8 237.7,314.9 236.5,318.4 C235.3,321.9 229.2,321.5 227.8,318.4 C226.4,315.2 226.7,303.0 227.8,299.5Z" fill="#e4f58e"/>
<path d="M316.0,293.0 C317.6,288.1 322.2,289.0 325.3,289.3 C328.4,289.6 332.8,290.0 334.6,294.9 C336.5,299.8 339.5,314.5 336.4,318.4 C333.3,322.3 319.4,322.6 316.0,318.4 C312.6,314.2 314.4,297.9 316.0,293.0Z" fill="#b9eeb5"/>
<path d="M317.9,296.7 C319.1,292.5 323.1,292.7 325.3,293.0 C327.5,293.3 330.0,294.4 330.9,298.6 C331.8,302.8 333.1,315.1 330.9,318.4 C328.7,321.7 320.1,322.0 317.9,318.4 C315.7,314.8 316.7,300.9 317.9,296.7Z" fill="#ccf3a0"/>
<ellipse cx="241.7" cy="241.0" rx="3.3" ry="2.8" transform="rotate(0.0 241.7 241.0)" fill="#b9eeb5"/>
<ellipse cx="249.1" cy="249.9" rx="4.6" ry="5.2" transform="rotate(0.0 249.1 249.9)" fill="#b9eeb5"/>
<path d="M238.0,263.3 C238.6,261.8 242.3,260.4 245.4,259.6 C248.5,258.8 254.4,257.7 256.6,258.6 C258.8,259.5 259.3,263.2 258.4,265.1 C257.5,267.0 253.8,269.2 251.0,269.8 C248.2,270.4 243.9,270.0 241.7,268.9 C239.5,267.8 237.4,264.9 238.0,263.3Z" fill="#b9eeb5"/>
<path d="M227.8,254.9 C228.7,253.2 233.5,251.2 236.1,251.2 C238.7,251.2 243.0,253.5 243.6,254.9 C244.2,256.3 242.1,258.5 239.9,259.6 C237.7,260.7 232.6,262.2 230.6,261.4 C228.6,260.6 226.9,256.6 227.8,254.9Z" fill="#90d0d8"/>
<path d="M216.6,231.3 C219.4,229.6 230.9,229.8 233.4,231.3 C235.9,232.8 234.3,238.4 231.5,240.1 C228.7,241.8 219.1,242.9 216.6,241.4 C214.1,239.9 213.8,233.0 216.6,231.3Z" fill="#90d0d8"/>
</g>
<clipPath id="t5"><rect x="355" y="215" width="130" height="95"/></clipPath>
<g clip-path="url(#t5)"><rect x="355" y="215" width="130" height="95" fill="#56a2f5"/>
<path d="M375.4,231.7 C378.5,230.2 388.4,229.6 392.1,229.9 C395.8,230.2 396.1,231.8 397.7,233.6 C399.2,235.4 402.3,238.8 401.4,241.0 C400.5,243.2 395.2,246.0 392.1,246.6 C389.0,247.2 385.1,244.1 382.9,244.7 C380.7,245.3 380.8,249.7 379.1,250.3 C377.4,250.9 373.5,250.3 372.6,248.4 C371.7,246.5 373.1,241.9 373.6,239.1 C374.1,236.3 372.3,233.2 375.4,231.7Z" fill="#7699f7"/>
<path d="M388.4,206.6 C390.3,204.0 397.4,203.6 399.6,206.6 C401.8,209.6 402.3,220.7 401.4,224.3 C400.5,227.9 396.2,228.3 394.0,228.0 C391.8,227.7 389.3,226.0 388.4,222.4 C387.5,218.8 386.5,209.2 388.4,206.6Z" fill="#7699f7"/>
<path d="M399.6,228.0 C400.5,226.1 407.0,225.9 408.9,226.1 C410.8,226.2 406.1,227.8 410.7,228.9 C415.3,230.0 432.4,233.4 436.7,232.6 C441.0,231.8 435.5,226.8 436.7,224.3 C437.9,221.8 441.6,218.1 444.1,217.8 C446.6,217.5 449.9,219.2 451.6,222.4 C453.3,225.7 454.9,233.9 454.4,237.3 C453.9,240.7 449.6,240.1 448.8,242.9 C448.0,245.7 447.1,251.5 449.7,254.0 C452.3,256.5 462.0,254.3 464.6,257.7 C467.2,261.1 468.0,271.6 465.5,274.4 C463.0,277.2 453.3,273.5 449.7,274.4 C446.1,275.3 448.1,278.8 444.1,280.0 C440.1,281.2 431.2,280.8 425.6,281.9 C420.0,283.0 414.7,286.2 410.7,286.5 C406.7,286.8 403.4,286.0 401.4,283.7 C399.4,281.4 398.6,276.3 398.6,272.6 C398.6,268.9 400.9,264.8 401.4,261.4 C401.9,258.0 400.5,254.3 401.4,252.1 C402.3,249.9 406.7,250.9 407.0,248.4 C407.3,245.9 404.5,240.7 403.3,237.3 C402.1,233.9 398.7,229.9 399.6,228.0Z" fill="#7699f7"/>
<path d="M405.1,233.6 C407.0,232.2 412.6,231.1 416.3,230.8 C420.0,230.5 424.6,230.9 427.4,231.7 C430.2,232.5 432.7,233.5 433.0,235.4 C433.3,237.3 431.8,241.0 429.3,242.9 C426.8,244.8 421.2,246.3 418.1,246.6 C415.0,246.9 412.9,245.9 410.7,244.7 C408.5,243.4 406.0,240.9 405.1,239.1 C404.2,237.2 403.2,235.0 405.1,233.6Z" fill="#74b8e7"/>
<path d="M408.9,235.4 C409.8,234.0 413.5,233.8 416.3,233.6 C419.1,233.4 423.8,233.7 425.6,234.5 C427.5,235.3 428.6,236.8 427.4,238.2 C426.1,239.6 420.9,242.3 418.1,242.9 C415.3,243.5 412.2,243.2 410.7,241.9 C409.2,240.7 408.0,236.8 408.9,235.4Z" fill="#90d0d8"/>
<path d="M412.6,259.6 C413.7,257.3 417.2,255.4 420.0,254.9 C422.8,254.4 427.4,255.1 429.3,256.8 C431.2,258.5 431.7,262.8 431.1,265.1 C430.5,267.4 427.8,269.3 425.6,270.7 C423.4,272.1 420.1,273.8 418.1,273.5 C416.1,273.2 414.4,271.2 413.5,268.9 C412.6,266.6 411.5,261.9 412.6,259.6Z" fill="#56a2f5"/>
<path d="M449.7,242.9 C450.6,240.7 453.1,239.1 455.3,239.1 C457.5,239.1 461.3,240.4 462.7,242.9 C464.1,245.4 464.8,251.7 463.6,254.0 C462.4,256.3 457.6,257.1 455.3,256.8 C453.0,256.5 450.6,254.4 449.7,252.1 C448.8,249.8 448.8,245.1 449.7,242.9Z" fill="#74b8e7"/>
<path d="M459.0,220.6 C459.9,218.1 465.2,216.8 466.4,218.7 C467.6,220.5 467.3,229.2 466.4,231.7 C465.5,234.2 462.1,235.4 460.9,233.6 C459.7,231.8 458.1,223.1 459.0,220.6Z" fill="#74b8e7"/>
<path d="M403.3,290.8 C404.9,288.9 408.3,290.1 412.6,288.9 C416.9,287.6 424.1,285.0 429.3,283.3 C434.6,281.6 440.6,279.4 444.1,278.7 C447.7,278.0 450.9,277.1 450.6,279.1 C450.3,281.1 444.9,287.3 442.3,290.8 C439.7,294.3 436.8,295.5 434.9,300.1 C433.0,304.7 437.8,315.3 431.1,318.4 C424.4,321.4 400.1,319.9 394.9,318.4 C389.6,316.9 398.3,312.4 399.6,309.3 C400.9,306.2 402.3,303.2 402.9,300.1 C403.5,297.0 401.7,292.7 403.3,290.8Z" fill="#a197f8"/>
<path d="M403.7,318.4 C401.4,316.6 404.9,310.1 406.1,307.9 C407.3,305.7 408.9,305.4 410.7,305.4 C412.5,305.4 415.6,305.7 417.2,307.9 C418.8,310.1 422.2,316.6 420.0,318.4 C417.8,320.1 406.0,320.1 403.7,318.4Z" fill="#d09cf8"/>
<ellipse cx="441.4" cy="249.0" rx="2.8" ry="2.6" transform="rotate(0.0 441.4 249.0)" fill="#a197f8"/>
<path d="M437.6,256.8 C438.4,255.6 442.7,255.1 444.1,255.9 C445.5,256.7 446.8,260.2 446.0,261.4 C445.2,262.6 440.9,264.1 439.5,263.3 C438.1,262.5 436.8,258.0 437.6,256.8Z" fill="#a197f8"/>
<path d="M453.4,270.7 C454.5,269.9 459.5,269.2 460.9,269.8 C462.3,270.4 462.9,273.6 461.8,274.4 C460.7,275.2 455.8,275.4 454.4,274.8 C453.0,274.2 452.3,271.5 453.4,270.7Z" fill="#a197f8"/>
<path d="M346.6,206.6 C350.8,192.2 366.9,204.0 371.7,206.6 C376.5,209.2 375.2,217.9 375.4,222.4 C375.5,226.9 373.4,229.6 372.6,233.6 C371.8,237.6 370.8,242.6 370.8,246.6 C370.8,250.6 372.6,254.3 372.6,257.7 C372.6,261.1 371.9,263.6 370.8,267.0 C369.7,270.4 370.1,273.8 366.1,278.1 C362.1,282.4 349.9,304.9 346.6,293.0 C343.4,281.1 342.4,221.0 346.6,206.6Z" fill="#74b8e7"/>
<path d="M346.6,206.6 C350.2,192.8 364.0,204.0 368.0,206.6 C372.0,209.2 370.6,217.9 370.8,222.4 C371.1,226.9 370.0,229.9 369.5,233.6 C369.0,237.3 368.2,241.0 368.0,244.7 C367.8,248.4 368.7,251.9 368.4,255.9 C368.1,259.9 367.4,264.9 366.1,268.9 C364.8,272.9 363.9,276.6 360.6,280.0 C357.4,283.4 348.9,301.5 346.6,289.3 C344.3,277.1 343.0,220.4 346.6,206.6Z" fill="#90d0d8"/>
<path d="M346.6,215.9 C349.7,213.5 361.9,215.1 365.2,216.5 C368.4,217.9 366.6,222.1 366.1,224.3 C365.6,226.5 365.6,228.8 362.4,229.9 C359.1,231.0 349.2,233.1 346.6,230.8 C344.0,228.5 343.5,218.3 346.6,215.9Z" fill="#a6e3c8"/>
<path d="M346.6,251.4 C348.7,248.2 356.8,256.5 358.9,259.4 C361.0,262.3 359.7,265.8 359.5,268.7 C359.3,271.6 359.9,275.1 357.8,276.7 C355.7,278.3 348.5,282.5 346.6,278.3 C344.7,274.1 344.6,254.6 346.6,251.4Z" fill="#a6e3c8"/>
<path d="M346.6,283.7 C349.2,277.0 357.9,278.1 362.4,278.1 C366.9,278.1 369.9,283.7 373.6,283.7 C377.3,283.7 382.2,280.6 384.7,278.1 C387.2,275.6 386.7,270.1 388.4,268.9 C390.1,267.7 393.3,268.5 394.9,270.7 C396.4,272.9 398.2,278.2 397.7,281.9 C397.2,285.6 394.0,289.9 392.1,293.0 C390.2,296.1 389.7,296.2 386.6,300.4 C383.5,304.6 380.3,315.4 373.6,318.4 C366.9,321.4 351.1,324.2 346.6,318.4 C342.1,312.6 344.0,290.4 346.6,283.7Z" fill="#74b8e7"/>
<path d="M346.6,282.2 C348.5,276.2 354.2,281.0 357.8,282.2 C361.4,283.4 364.4,287.8 368.0,289.1 C371.6,290.4 376.4,289.2 379.3,290.2 C382.2,291.2 384.7,293.3 385.1,294.9 C385.5,296.4 383.6,298.4 381.7,299.5 C379.8,300.6 376.4,300.8 373.8,301.7 C371.2,302.6 367.7,302.3 365.8,305.1 C363.9,307.9 365.6,316.2 362.4,318.4 C359.2,320.6 349.2,324.4 346.6,318.4 C344.0,312.4 344.7,288.2 346.6,282.2Z" fill="#90d0d8"/>
<path d="M368.0,290.2 C368.6,288.6 372.6,287.2 374.9,287.4 C377.2,287.6 380.2,289.9 381.7,291.3 C383.2,292.7 384.4,294.6 384.0,296.0 C383.6,297.4 381.4,299.3 379.3,299.5 C377.2,299.7 373.2,298.7 371.3,297.1 C369.4,295.6 367.4,291.8 368.0,290.2Z" fill="#a6e3c8"/>
<path d="M368.0,298.6 C368.9,297.4 372.1,296.2 373.6,296.7 C375.2,297.2 377.6,299.8 377.3,301.4 C377.0,302.9 373.2,305.6 371.7,306.0 C370.1,306.4 368.6,305.3 368.0,304.1 C367.4,302.9 367.1,299.8 368.0,298.6Z" fill="#b9eeb5"/>
<ellipse cx="389.0" cy="282.8" rx="2.6" ry="2.6" transform="rotate(0.0 389.0 282.8)" fill="#a6e3c8"/>
<ellipse cx="385.1" cy="251.8" rx="2.8" ry="2.8" transform="rotate(0.0 385.1 251.8)" fill="#90d0d8"/>
</g>
<clipPath id="t6"><rect x="95" y="310" width="130" height="95"/></clipPath>
<g clip-path="url(#t6)"><rect x="95" y="310" width="130" height="95" fill="#ccf3a0"/>
<path d="M193.4,315.6 C194.3,313.8 201.2,311.6 204.6,311.9 C208.0,312.2 212.1,315.2 213.9,317.4 C215.8,319.6 216.9,323.0 215.7,324.9 C214.4,326.8 209.2,328.9 206.4,328.6 C203.6,328.3 201.2,325.2 199.0,323.0 C196.8,320.8 192.5,317.5 193.4,315.6Z" fill="#e4f58e"/>
<path d="M179.5,301.6 C182.3,299.4 196.2,299.3 199.0,301.6 C201.8,303.9 198.0,312.8 196.2,315.6 C194.3,318.4 190.2,318.6 187.9,318.4 C185.6,318.2 183.7,317.4 182.3,314.6 C180.9,311.8 176.7,303.8 179.5,301.6Z" fill="#b9eeb5"/>
<path d="M217.6,301.6 C219.9,299.1 230.8,299.0 233.4,301.6 C236.0,304.2 235.7,314.9 233.4,317.4 C231.1,319.9 222.0,319.1 219.4,316.5 C216.8,313.9 215.3,304.1 217.6,301.6Z" fill="#b9eeb5"/>
<path d="M200.9,328.6 C202.3,327.5 207.9,327.3 210.1,327.6 C212.3,327.9 214.5,329.0 213.9,330.4 C213.3,331.8 208.4,335.4 206.4,336.0 C204.4,336.6 202.7,335.3 201.8,334.1 C200.9,332.9 199.5,329.7 200.9,328.6Z" fill="#e4f58e"/>
<path d="M200.9,345.3 C201.8,344.2 206.9,343.8 208.3,344.4 C209.7,345.0 210.1,347.9 209.2,349.0 C208.3,350.1 204.1,351.5 202.7,350.9 C201.3,350.3 200.0,346.4 200.9,345.3Z" fill="#e4f58e"/>
<path d="M199.0,358.3 C201.6,354.6 210.2,352.7 213.9,352.7 C217.6,352.7 218.1,355.8 221.3,358.3 C224.6,360.8 231.4,363.3 233.4,367.6 C235.4,371.9 236.0,381.5 233.4,384.3 C230.8,387.1 220.8,382.5 217.6,384.3 C214.3,386.1 217.0,393.2 213.9,395.4 C210.8,397.6 201.6,400.7 199.0,397.3 C196.4,393.9 198.1,381.5 198.1,375.0 C198.1,368.5 196.4,362.0 199.0,358.3Z" fill="#b9eeb5"/>
<path d="M202.7,362.0 C203.5,359.8 207.6,358.6 210.1,358.3 C212.6,358.0 216.0,358.6 217.6,360.1 C219.2,361.7 220.0,365.7 219.4,367.6 C218.8,369.5 216.2,370.7 213.9,371.3 C211.6,371.9 207.4,372.9 205.5,371.3 C203.6,369.8 201.9,364.2 202.7,362.0Z" fill="#a6e3c8"/>
<path d="M199.0,376.9 C200.4,374.3 204.2,375.0 206.4,375.9 C208.6,376.8 210.8,380.1 212.0,382.4 C213.2,384.7 214.8,387.9 213.9,389.9 C213.0,391.9 209.0,394.2 206.4,394.5 C203.8,394.8 199.3,394.6 198.1,391.7 C196.9,388.8 197.6,379.5 199.0,376.9Z" fill="#a6e3c8"/>
<path d="M214.8,391.7 C215.4,390.0 216.3,385.2 219.4,385.2 C222.5,385.2 232.8,389.9 233.4,391.7 C234.0,393.5 226.1,395.2 223.1,395.8 C220.1,396.4 217.1,396.1 215.7,395.4 C214.3,394.7 214.2,393.4 214.8,391.7Z" fill="#e4f58e"/>
<path d="M219.4,369.4 C221.4,368.2 231.1,366.7 233.4,367.6 C235.7,368.5 235.4,373.8 233.4,375.0 C231.4,376.2 223.6,375.9 221.3,375.0 C219.0,374.1 217.4,370.6 219.4,369.4Z" fill="#90d0d8"/>
</g>
<clipPath id="t7"><rect x="225" y="310" width="130" height="95"/></clipPath>
<g clip-path="url(#t7)"><rect x="225" y="310" width="130" height="95" fill="#a6e3c8"/>
<path d="M216.6,301.6 C222.7,290.9 247.5,298.4 252.9,301.6 C258.3,304.9 250.7,316.3 249.1,321.1 C247.5,325.9 245.8,327.6 243.6,330.4 C241.4,333.2 238.0,335.1 236.1,337.9 C234.2,340.7 233.6,343.1 232.4,347.1 C231.2,351.1 231.3,358.9 228.7,362.0 C226.1,365.1 218.6,375.8 216.6,365.7 C214.6,355.6 210.5,312.3 216.6,301.6Z" fill="#b9eeb5"/>
<path d="M216.6,301.6 C220.5,294.0 236.3,298.7 239.9,301.6 C243.5,304.6 239.2,314.8 238.0,319.3 C236.8,323.8 234.0,324.6 232.4,328.6 C230.8,332.6 231.3,340.3 228.7,343.4 C226.1,346.5 218.6,354.1 216.6,347.1 C214.6,340.1 212.7,309.2 216.6,301.6Z" fill="#ccf3a0"/>
<path d="M216.6,301.6 C219.8,299.6 233.0,299.5 236.1,301.6 C239.2,303.8 238.4,312.5 235.2,314.5 C231.9,316.5 219.7,315.8 216.6,313.7 C213.5,311.6 213.3,303.6 216.6,301.6Z" fill="#e4f58e"/>
<ellipse cx="227.8" cy="357.4" rx="3.3" ry="3.7" transform="rotate(0.0 227.8 357.4)" fill="#e4f58e"/>
<path d="M264.9,301.6 C281.3,297.4 347.0,283.0 363.4,301.6 C379.8,320.2 377.5,394.8 363.4,413.4 C349.3,432.0 292.7,417.3 278.9,413.4 C265.1,409.5 281.3,396.0 280.7,389.9 C280.1,383.8 277.9,379.7 275.1,376.9 C272.3,374.1 267.7,374.0 264.0,373.1 C260.3,372.2 256.3,371.3 252.9,371.3 C249.5,371.3 245.5,373.7 243.6,373.1 C241.7,372.5 241.1,369.8 241.7,367.6 C242.3,365.4 244.8,362.6 247.3,360.1 C249.8,357.6 255.4,355.2 256.6,352.7 C257.8,350.2 253.8,348.1 254.7,345.3 C255.6,342.5 260.4,339.1 262.1,336.0 C263.8,332.9 264.4,332.4 264.9,326.7 C265.4,321.0 248.5,305.8 264.9,301.6Z" fill="#90d0d8"/>
<path d="M306.7,317.4 C307.9,313.2 308.4,304.2 317.9,301.6 C327.3,299.0 355.8,297.4 363.4,301.6 C371.0,305.8 366.6,321.3 363.4,326.7 C360.1,332.1 348.4,332.2 343.9,334.1 C339.4,336.0 339.5,337.6 336.4,337.9 C333.3,338.2 328.4,337.6 325.3,336.0 C322.2,334.4 320.4,330.2 317.9,328.6 C315.4,327.1 312.3,328.6 310.4,326.7 C308.5,324.8 305.4,321.6 306.7,317.4Z" fill="#a6e3c8"/>
<path d="M317.9,301.6 C320.5,299.1 332.1,298.7 334.6,301.6 C337.1,304.6 334.2,316.1 332.7,319.3 C331.1,322.6 327.6,321.6 325.3,321.1 C323.0,320.6 320.0,319.8 318.8,316.5 C317.6,313.2 315.3,304.1 317.9,301.6Z" fill="#b9eeb5"/>
<path d="M345.7,313.7 C348.3,312.2 360.4,310.7 363.4,311.9 C366.3,313.1 366.0,319.6 363.4,321.1 C360.8,322.6 350.6,322.3 347.6,321.1 C344.7,319.9 343.1,315.2 345.7,313.7Z" fill="#b9eeb5"/>
<path d="M321.6,310.9 C322.8,309.6 330.4,309.8 331.8,310.9 C333.2,312.0 331.1,316.1 329.9,317.4 C328.7,318.6 325.8,319.5 324.4,318.4 C323.0,317.3 320.4,312.1 321.6,310.9Z" fill="#ccf3a0"/>
<path d="M303.9,330.4 C304.8,328.7 308.4,327.7 310.4,328.6 C312.4,329.5 315.7,334.0 316.0,336.0 C316.3,338.0 314.2,340.1 312.3,340.6 C310.4,341.1 306.3,340.5 304.9,338.8 C303.5,337.1 303.0,332.1 303.9,330.4Z" fill="#a6e3c8"/>
<path d="M325.3,337.9 C327.5,336.7 333.9,338.2 336.4,339.7 C338.9,341.2 340.1,344.6 340.1,347.1 C340.1,349.6 336.7,351.8 336.4,354.6 C336.1,357.4 337.1,361.4 338.3,363.9 C339.6,366.4 344.2,368.2 343.9,369.4 C343.6,370.6 338.6,371.9 336.4,371.3 C334.2,370.7 332.1,368.2 330.9,365.7 C329.7,363.2 330.2,359.5 329.0,356.4 C327.8,353.3 324.0,350.2 323.4,347.1 C322.8,344.0 323.1,339.1 325.3,337.9Z" fill="#a6e3c8"/>
<path d="M329.0,347.1 C329.6,345.1 333.4,344.6 334.6,346.2 C335.8,347.8 335.8,353.4 336.4,356.4 C337.0,359.3 338.6,362.3 338.3,363.9 C338.0,365.4 335.8,366.6 334.6,365.7 C333.4,364.8 331.8,361.4 330.9,358.3 C330.0,355.2 328.4,349.1 329.0,347.1Z" fill="#b9eeb5"/>
<path d="M336.4,372.2 C337.0,370.5 342.3,370.4 343.9,371.3 C345.4,372.2 346.3,376.1 345.7,377.8 C345.1,379.5 341.7,382.4 340.1,381.5 C338.6,380.6 335.8,373.9 336.4,372.2Z" fill="#ccf3a0"/>
<path d="M325.3,375.0 C327.2,373.9 332.4,374.3 334.6,375.9 C336.8,377.4 338.3,381.7 338.3,384.3 C338.3,386.9 336.5,390.8 334.6,391.7 C332.7,392.6 329.0,391.4 327.1,389.9 C325.2,388.3 323.7,384.9 323.4,382.4 C323.1,379.9 323.4,376.1 325.3,375.0Z" fill="#a6e3c8"/>
<path d="M271.4,301.6 C276.7,297.9 298.1,298.0 303.0,301.6 C307.9,305.2 303.9,319.1 301.1,323.0 C298.3,326.9 289.7,324.4 286.3,324.9 C282.9,325.4 283.2,326.0 280.7,325.8 C278.2,325.6 272.9,327.9 271.4,323.9 C269.8,319.9 266.1,305.3 271.4,301.6Z" fill="#74b8e7"/>
<path d="M264.9,328.6 C267.2,327.4 277.4,325.1 280.7,326.7 C283.9,328.2 281.9,335.1 284.4,337.9 C286.9,340.7 292.5,340.9 295.6,343.4 C298.7,345.9 300.2,350.8 303.0,352.7 C305.8,354.6 311.1,353.4 312.3,354.6 C313.5,355.8 312.6,359.5 310.4,360.1 C308.2,360.7 303.0,358.0 299.3,358.3 C295.6,358.6 291.2,360.8 288.1,362.0 C285.0,363.2 283.5,365.1 280.7,365.7 C277.9,366.3 274.2,365.4 271.4,365.7 C268.6,366.0 266.5,368.2 264.0,367.6 C261.5,367.0 258.0,364.2 256.6,362.0 C255.2,359.8 254.7,356.5 255.6,354.6 C256.5,352.8 260.1,352.8 262.1,350.9 C264.1,349.0 266.9,346.2 267.7,343.4 C268.5,340.6 267.3,336.6 266.8,334.1 C266.3,331.6 262.6,329.8 264.9,328.6Z" fill="#74b8e7"/>
<path d="M280.7,364.8 C281.1,363.1 284.4,362.1 288.1,361.1 C291.8,360.1 299.0,359.5 303.0,358.7 C307.0,357.9 310.8,355.2 312.3,356.4 C313.9,357.6 313.1,362.9 312.3,365.7 C311.5,368.5 309.2,370.5 307.6,373.1 C306.1,375.7 305.9,380.3 303.0,381.5 C300.1,382.7 292.9,381.9 290.0,380.2 C287.1,378.5 286.9,373.9 285.4,371.3 C283.8,368.7 280.2,366.5 280.7,364.8Z" fill="#74b8e7"/>
<path d="M296.5,369.1 C297.7,367.7 305.0,365.9 306.7,366.6 C308.4,367.3 307.9,371.7 306.7,373.1 C305.5,374.5 301.0,375.7 299.3,375.0 C297.6,374.3 295.3,370.5 296.5,369.1Z" fill="#a6e3c8"/>
<ellipse cx="308.0" cy="363.9" rx="1.9" ry="2.8" transform="rotate(0.0 308.0 363.9)" fill="#a6e3c8"/>
<path d="M274.2,374.1 C275.1,371.6 279.0,367.8 280.7,367.6 C282.4,367.4 283.0,370.8 284.4,373.1 C285.8,375.4 289.7,379.3 289.1,381.5 C288.5,383.7 283.0,386.0 280.7,386.1 C278.4,386.2 276.2,384.4 275.1,382.4 C274.0,380.4 273.3,376.6 274.2,374.1Z" fill="#a6e3c8"/>
<path d="M314.1,349.0 C316.3,347.1 322.5,345.9 325.3,347.1 C328.1,348.3 330.3,353.3 330.9,356.4 C331.5,359.5 330.6,363.2 329.0,365.7 C327.4,368.2 324.1,371.0 321.6,371.3 C319.1,371.6 315.7,369.8 314.1,367.6 C312.6,365.4 312.3,361.4 312.3,358.3 C312.3,355.2 311.9,350.9 314.1,349.0Z" fill="#74b8e7"/>
<path d="M318.8,356.4 C320.2,355.0 324.8,354.2 326.2,355.5 C327.6,356.8 327.9,361.9 327.1,363.9 C326.3,365.9 323.1,367.6 321.6,367.6 C320.1,367.6 318.4,365.8 317.9,363.9 C317.4,362.0 317.4,357.8 318.8,356.4Z" fill="#56a2f5"/>
<path d="M343.9,330.4 C347.8,327.6 360.1,321.1 363.4,326.7 C366.6,332.3 366.0,358.0 363.4,363.9 C360.8,369.8 350.9,363.9 347.6,362.0 C344.4,360.1 345.1,355.8 343.9,352.7 C342.6,349.6 340.1,347.1 340.1,343.4 C340.1,339.7 340.0,333.2 343.9,330.4Z" fill="#74b8e7"/>
<path d="M343.9,334.1 C347.3,331.7 360.1,324.1 363.4,330.8 C366.6,337.5 365.9,367.2 363.4,374.1 C360.9,381.0 351.6,374.8 348.5,372.2 C345.4,369.6 345.7,362.8 344.8,358.3 C343.9,353.8 343.0,349.3 342.9,345.3 C342.8,341.3 340.5,336.5 343.9,334.1Z" fill="#56a2f5"/>
<path d="M347.6,336.0 C350.1,334.2 360.8,331.1 363.4,334.5 C366.0,337.9 365.4,353.0 363.4,356.4 C361.4,359.8 353.8,356.5 351.3,354.6 C348.8,352.8 349.1,348.4 348.5,345.3 C347.9,342.2 345.1,337.8 347.6,336.0Z" fill="#7699f7"/>
<path d="M304.9,375.0 C308.6,371.9 319.7,370.4 323.4,371.3 C327.1,372.2 327.4,377.5 327.1,380.6 C326.8,383.7 324.1,388.0 321.6,389.9 C319.1,391.8 313.6,387.8 312.3,391.7 C311.1,395.6 315.7,409.8 314.1,413.4 C312.6,417.0 305.2,417.3 303.0,413.4 C300.8,409.5 300.8,396.3 301.1,389.9 C301.4,383.5 301.2,378.1 304.9,375.0Z" fill="#74b8e7"/>
<path d="M314.1,379.6 C315.0,378.4 320.2,377.9 321.6,378.7 C323.0,379.5 323.4,383.1 322.5,384.3 C321.6,385.5 317.4,386.9 316.0,386.1 C314.6,385.3 313.2,380.8 314.1,379.6Z" fill="#56a2f5"/>
<path d="M288.1,388.0 C289.3,386.1 296.8,383.7 299.3,384.3 C301.8,384.9 303.0,389.5 303.0,391.7 C303.0,393.9 301.2,396.7 299.3,397.3 C297.4,397.9 293.8,396.9 291.9,395.4 C290.0,393.8 286.9,389.9 288.1,388.0Z" fill="#74b8e7"/>
<path d="M294.6,388.9 C295.5,388.1 300.0,387.4 301.1,388.0 C302.2,388.6 302.0,391.8 301.1,392.6 C300.2,393.4 296.7,393.2 295.6,392.6 C294.5,392.0 293.7,389.7 294.6,388.9Z" fill="#56a2f5"/>
<path d="M288.1,371.3 C292.1,367.0 308.0,367.0 312.3,371.3 C316.6,375.6 318.1,393.0 314.1,397.3 C310.1,401.6 292.4,401.6 288.1,397.3 C283.8,393.0 284.1,375.6 288.1,371.3Z" fill="#74b8e7"/>
<path d="M288.1,413.4 C280.2,409.8 288.1,396.3 290.0,392.1 C291.9,387.9 296.2,388.4 299.3,388.4 C302.4,388.4 306.1,390.9 308.6,392.1 C311.1,393.3 310.4,395.1 314.1,395.8 C317.8,396.5 327.0,393.5 330.9,396.4 C334.8,399.3 344.5,410.6 337.4,413.4 C330.3,416.2 296.0,416.9 288.1,413.4Z" fill="#74b8e7"/>
<path d="M300.2,413.4 C295.5,411.1 303.8,402.1 306.7,399.5 C309.6,396.9 314.2,398.0 317.9,398.0 C321.6,398.0 326.2,396.9 329.0,399.5 C331.8,402.1 339.4,411.1 334.6,413.4 C329.8,415.7 304.9,415.7 300.2,413.4Z" fill="#56a2f5"/>
<path d="M340.1,388.0 C341.0,386.8 346.1,385.5 347.6,386.1 C349.2,386.7 350.3,390.4 349.4,391.7 C348.5,392.9 343.6,394.2 342.0,393.6 C340.4,393.0 339.2,389.2 340.1,388.0Z" fill="#74b8e7"/>
<path d="M351.3,371.3 C353.3,369.5 361.4,369.5 363.4,371.3 C365.4,373.1 365.4,380.5 363.4,382.4 C361.4,384.2 353.3,384.2 351.3,382.4 C349.3,380.5 349.3,373.1 351.3,371.3Z" fill="#74b8e7"/>
<path d="M272.4,301.6 C274.2,297.7 282.2,297.9 284.4,301.6 C286.6,305.3 287.2,320.0 285.4,323.9 C283.5,327.8 275.5,328.6 273.3,324.9 C271.1,321.2 270.5,305.5 272.4,301.6Z" fill="#56a2f5"/>
<path d="M269.6,330.4 C270.9,328.2 276.7,327.1 278.9,328.6 C281.1,330.2 281.4,337.1 282.6,339.7 C283.8,342.3 286.9,343.3 286.3,344.4 C285.7,345.5 281.4,346.7 278.9,346.2 C276.4,345.7 272.9,344.2 271.4,341.6 C269.8,339.0 268.4,332.6 269.6,330.4Z" fill="#56a2f5"/>
<path d="M282.6,330.4 C283.7,329.5 287.5,330.8 290.0,332.3 C292.5,333.9 294.9,337.2 297.4,339.7 C299.9,342.2 302.7,345.4 304.9,347.1 C307.1,348.8 309.5,348.5 310.4,349.9 C311.3,351.3 311.6,354.7 310.4,355.5 C309.2,356.3 305.5,355.5 303.0,354.6 C300.5,353.7 298.1,351.8 295.6,349.9 C293.1,348.0 290.1,345.4 288.1,343.4 C286.1,341.4 284.4,340.1 283.5,337.9 C282.6,335.7 281.5,331.3 282.6,330.4Z" fill="#56a2f5"/>
<path d="M260.3,362.9 C260.8,362.0 263.8,361.4 264.9,362.0 C266.0,362.6 267.3,365.7 266.8,366.6 C266.3,367.5 263.2,368.2 262.1,367.6 C261.0,367.0 259.8,363.8 260.3,362.9Z" fill="#56a2f5"/>
<path d="M216.6,384.3 C219.8,378.5 231.0,380.6 236.1,378.7 C241.2,376.8 243.6,374.3 247.3,373.1 C251.0,371.9 254.7,370.7 258.4,371.3 C262.1,371.9 266.2,374.4 269.6,376.9 C273.0,379.4 277.0,382.7 278.9,386.1 C280.8,389.5 280.7,392.8 280.7,397.3 C280.7,401.9 289.6,410.7 278.9,413.4 C268.2,416.1 227.0,418.2 216.6,413.4 C206.2,408.5 213.3,390.1 216.6,384.3Z" fill="#b9eeb5"/>
<path d="M228.7,388.0 C230.2,382.7 236.2,383.4 239.9,381.5 C243.6,379.6 247.3,377.4 251.0,376.9 C254.7,376.4 258.7,377.5 262.1,378.7 C265.5,379.9 268.9,381.8 271.4,384.3 C273.9,386.8 276.4,388.8 277.0,393.6 C277.6,398.5 282.8,410.1 275.1,413.4 C267.4,416.7 238.3,417.6 230.6,413.4 C222.9,409.2 227.1,393.3 228.7,388.0Z" fill="#ccf3a0"/>
<path d="M234.3,391.7 C235.6,387.0 240.2,386.9 243.6,385.2 C247.0,383.5 251.3,381.6 254.7,381.5 C258.1,381.4 261.2,382.6 264.0,384.3 C266.8,386.0 270.2,388.9 271.4,391.7 C272.6,394.5 272.0,397.4 271.4,401.0 C270.8,404.6 273.6,411.3 267.7,413.4 C261.8,415.5 241.7,417.0 236.1,413.4 C230.5,409.8 233.1,396.4 234.3,391.7Z" fill="#e4f58e"/>
<path d="M243.6,393.6 C244.5,391.3 246.9,389.5 249.1,388.9 C251.3,388.3 254.4,388.8 256.6,389.9 C258.8,391.0 261.5,393.2 262.1,395.4 C262.7,397.6 261.8,399.9 260.3,402.9 C258.8,405.9 255.7,413.4 252.9,413.4 C250.1,413.4 245.2,406.2 243.6,402.9 C242.0,399.6 242.7,395.9 243.6,393.6Z" fill="#f5f57a"/>
</g>
<clipPath id="t8"><rect x="355" y="310" width="130" height="95"/></clipPath>
<g clip-path="url(#t8)"><rect x="355" y="310" width="130" height="95" fill="#729af7"/>
<path d="M346.6,301.6 C353.6,296.2 381.7,298.7 388.4,301.6 C395.1,304.6 387.8,314.8 386.6,319.3 C385.4,323.8 384.4,326.1 381.0,328.6 C377.6,331.1 371.8,333.2 366.1,334.1 C360.4,335.0 349.9,339.5 346.6,334.1 C343.4,328.7 339.6,307.0 346.6,301.6Z" fill="#56a2f5"/>
<path d="M346.6,301.6 C352.7,296.8 377.8,298.7 382.9,301.6 C388.0,304.6 380.1,315.1 377.3,319.3 C374.5,323.5 371.2,324.9 366.1,326.7 C361.0,328.5 349.9,334.6 346.6,330.4 C343.4,326.2 340.6,306.4 346.6,301.6Z" fill="#74b8e7"/>
<path d="M346.6,301.6 C351.1,297.4 370.0,298.7 373.6,301.6 C377.2,304.6 370.2,315.4 368.0,319.3 C365.8,323.2 364.2,323.7 360.6,324.9 C357.0,326.1 348.9,330.6 346.6,326.7 C344.3,322.8 342.1,305.8 346.6,301.6Z" fill="#90d0d8"/>
<path d="M346.6,311.9 C348.6,310.0 356.5,312.2 358.7,313.7 C360.9,315.2 361.6,319.2 359.6,321.1 C357.6,323.0 348.8,326.4 346.6,324.9 C344.4,323.4 344.6,313.8 346.6,311.9Z" fill="#a6e3c8"/>
<path d="M394.0,321.1 C395.1,318.3 400.5,316.9 401.4,313.7 C402.3,310.4 395.6,303.6 399.6,301.6 C403.6,299.6 421.6,298.4 425.6,301.6 C429.6,304.9 424.9,316.6 423.7,321.1 C422.4,325.6 420.3,326.4 418.1,328.6 C415.9,330.8 412.6,332.2 410.7,334.1 C408.8,336.0 408.9,339.1 407.0,339.7 C405.1,340.3 401.6,339.4 399.6,337.9 C397.6,336.3 395.8,333.2 394.9,330.4 C394.0,327.6 392.9,323.9 394.0,321.1Z" fill="#a197f8"/>
<path d="M403.7,301.6 C406.6,299.1 416.8,299.4 420.0,301.6 C423.2,303.8 422.8,311.1 422.8,314.8 C422.8,318.6 421.7,321.9 420.0,324.1 C418.3,326.3 415.1,327.8 412.6,327.8 C410.1,327.8 406.8,326.0 405.1,324.1 C403.4,322.2 402.6,320.4 402.4,316.7 C402.2,312.9 400.8,304.1 403.7,301.6Z" fill="#d09cf8"/>
<ellipse cx="414.1" cy="316.7" rx="3.7" ry="3.3" transform="rotate(0.0 414.1 316.7)" fill="#f28cf8"/>
<path d="M429.3,326.7 C430.4,324.8 434.1,323.6 436.7,323.0 C439.3,322.4 443.2,321.1 445.1,323.0 C447.0,324.9 446.7,331.2 447.9,334.1 C449.1,337.0 452.2,338.4 452.5,340.6 C452.8,342.8 451.4,345.1 449.7,347.1 C448.0,349.1 444.8,351.9 442.3,352.7 C439.8,353.5 436.8,353.4 434.9,351.8 C433.0,350.2 431.9,346.3 431.1,343.4 C430.3,340.4 430.5,336.9 430.2,334.1 C429.9,331.3 428.2,328.6 429.3,326.7Z" fill="#a197f8"/>
<path d="M433.9,328.6 C435.1,327.1 438.4,324.9 440.4,324.9 C442.4,324.9 445.1,326.4 446.0,328.6 C446.9,330.8 446.9,335.7 446.0,337.9 C445.1,340.1 441.9,340.2 440.4,341.6 C438.8,343.0 438.1,346.1 436.7,346.2 C435.3,346.3 432.7,344.5 432.1,342.5 C431.5,340.5 432.7,336.4 433.0,334.1 C433.3,331.8 432.7,330.1 433.9,328.6Z" fill="#d09cf8"/>
<path d="M412.6,358.3 C413.4,357.1 415.2,355.5 416.3,356.4 C417.4,357.3 418.8,361.7 419.1,363.9 C419.4,366.1 419.0,368.3 418.1,369.4 C417.2,370.5 414.6,371.3 413.5,370.4 C412.4,369.5 411.8,365.9 411.6,363.9 C411.5,361.9 411.8,359.6 412.6,358.3Z" fill="#d09cf8"/>
<ellipse cx="423.7" cy="355.1" rx="3.3" ry="2.6" transform="rotate(0.0 423.7 355.1)" fill="#d09cf8"/>
<path d="M431.1,358.3 C433.3,356.5 438.9,354.6 442.3,354.6 C445.7,354.6 449.1,356.5 451.6,358.3 C454.1,360.1 456.5,363.2 457.1,365.7 C457.7,368.2 457.5,371.2 455.3,373.1 C453.1,375.0 447.8,376.6 444.1,376.9 C440.4,377.2 435.5,376.9 433.0,375.0 C430.5,373.1 429.6,368.5 429.3,365.7 C429.0,362.9 428.9,360.1 431.1,358.3Z" fill="#56a2f5"/>
<ellipse cx="442.3" cy="366.6" rx="5.6" ry="3.7" transform="rotate(0.0 442.3 366.6)" fill="#74b8e7"/>
<ellipse cx="438.9" cy="362.6" rx="2.8" ry="2.6" transform="rotate(0.0 438.9 362.6)" fill="#90d0d8"/>
<path d="M447.9,371.3 C452.2,369.3 457.1,363.6 459.0,363.9 C460.9,364.2 460.9,370.6 459.0,373.1 C457.1,375.6 451.6,377.6 447.9,378.7 C444.2,379.8 439.2,380.1 436.7,379.6 C434.2,379.1 431.1,377.3 433.0,375.9 C434.9,374.5 443.6,373.3 447.9,371.3Z" fill="#90d0d8"/>
<path d="M346.6,336.0 C349.9,330.1 362.2,334.1 366.1,336.0 C370.0,337.9 369.6,343.4 369.9,347.1 C370.2,350.8 367.7,354.9 368.0,358.3 C368.3,361.7 372.0,365.1 371.7,367.6 C371.4,370.1 370.3,372.5 366.1,373.1 C361.9,373.7 349.9,377.5 346.6,371.3 C343.4,365.1 343.4,341.9 346.6,336.0Z" fill="#56a2f5"/>
<path d="M356.5,353.1 C357.4,350.9 360.6,351.2 362.4,351.8 C364.2,352.4 366.4,354.9 367.3,356.8 C368.2,358.8 368.8,361.9 368.0,363.5 C367.2,365.1 364.2,366.2 362.4,366.5 C360.5,366.8 357.9,367.2 356.9,365.0 C355.9,362.8 355.6,355.3 356.5,353.1Z" fill="#74b8e7"/>
<path d="M358.3,354.9 C358.9,353.7 361.2,353.6 362.4,354.2 C363.6,354.8 365.1,357.3 365.4,358.7 C365.6,360.1 364.9,361.9 363.9,362.4 C362.8,362.9 360.0,362.9 359.1,361.6 C358.2,360.4 357.8,356.1 358.3,354.9Z" fill="#90d0d8"/>
<ellipse cx="361.5" cy="358.7" rx="1.9" ry="2.2" transform="rotate(0.0 361.5 358.7)" fill="#a6e3c8"/>
<path d="M371.7,341.6 C373.6,340.1 380.1,338.8 382.9,339.7 C385.7,340.6 386.9,344.9 388.4,347.1 C389.9,349.3 392.7,351.1 392.1,352.7 C391.5,354.2 387.5,356.1 384.7,356.4 C381.9,356.7 377.6,355.8 375.4,354.6 C373.2,353.4 372.3,351.2 371.7,349.0 C371.1,346.8 369.8,343.2 371.7,341.6Z" fill="#56a2f5"/>
<path d="M373.6,344.4 C374.7,343.3 379.1,342.6 381.0,343.4 C382.9,344.2 385.0,347.6 384.7,349.0 C384.4,350.4 380.8,351.7 379.1,351.8 C377.4,351.9 375.4,351.1 374.5,349.9 C373.6,348.7 372.5,345.5 373.6,344.4Z" fill="#74b8e7"/>
<ellipse cx="378.2" cy="347.1" rx="2.8" ry="2.2" transform="rotate(0.0 378.2 347.1)" fill="#90d0d8"/>
<path d="M369.9,363.9 C370.8,362.0 375.4,361.0 379.1,360.1 C382.8,359.2 389.3,357.4 392.1,358.3 C394.9,359.2 397.1,363.9 395.9,365.7 C394.7,367.5 388.4,368.5 384.7,369.4 C381.0,370.3 376.1,372.2 373.6,371.3 C371.1,370.4 369.0,365.8 369.9,363.9Z" fill="#56a2f5"/>
<path d="M346.6,375.0 C349.9,368.3 359.8,373.7 366.1,373.1 C372.5,372.5 379.4,371.3 384.7,371.3 C390.0,371.3 395.2,371.6 397.7,373.1 C400.2,374.7 397.4,379.7 399.6,380.6 C401.8,381.5 407.9,379.9 410.7,378.7 C413.5,377.4 413.2,374.0 416.3,373.1 C419.4,372.2 426.5,372.2 429.3,373.1 C432.1,374.0 430.5,377.3 433.0,378.7 C435.5,380.1 441.0,379.6 444.1,381.5 C447.2,383.4 449.4,387.3 451.6,389.9 C453.8,392.5 456.5,393.4 457.1,397.3 C457.7,401.2 473.7,410.7 455.3,413.4 C436.9,416.1 364.7,419.8 346.6,413.4 C328.5,407.0 343.4,381.7 346.6,375.0Z" fill="#56a2f5"/>
<path d="M388.4,384.3 C389.3,382.4 394.6,382.4 397.7,382.4 C400.8,382.4 405.1,382.8 407.0,384.3 C408.9,385.9 409.8,389.9 408.9,391.7 C408.0,393.5 404.2,395.1 401.4,395.4 C398.6,395.7 394.3,395.5 392.1,393.6 C389.9,391.8 387.5,386.2 388.4,384.3Z" fill="#7699f7"/>
<ellipse cx="402.4" cy="387.4" rx="2.8" ry="3.2" transform="rotate(0.0 402.4 387.4)" fill="#a197f8"/>
<path d="M346.6,380.6 C349.6,377.4 361.1,378.1 364.3,379.6 C367.6,381.2 366.7,386.9 366.1,389.9 C365.5,392.8 363.9,395.8 360.6,397.3 C357.4,398.8 348.9,401.9 346.6,399.1 C344.3,396.3 343.7,383.9 346.6,380.6Z" fill="#74b8e7"/>
<path d="M346.6,384.3 C348.9,382.5 358.3,382.8 360.6,384.3 C362.9,385.9 362.9,391.8 360.6,393.6 C358.3,395.5 348.9,396.9 346.6,395.4 C344.3,393.8 344.3,386.1 346.6,384.3Z" fill="#90d0d8"/>
<path d="M362.4,391.7 C364.6,389.5 369.9,388.3 373.6,388.0 C377.3,387.7 382.5,388.3 384.7,389.9 C386.9,391.4 387.8,395.4 386.6,397.3 C385.4,399.2 380.7,398.3 377.3,401.0 C373.9,403.7 368.9,413.4 366.1,413.4 C363.3,413.4 361.2,404.6 360.6,401.0 C360.0,397.4 360.2,393.9 362.4,391.7Z" fill="#74b8e7"/>
<path d="M373.6,391.7 C374.5,390.2 381.0,389.3 382.9,389.9 C384.8,390.5 385.6,393.9 384.7,395.4 C383.8,396.9 379.1,399.7 377.3,399.1 C375.5,398.5 372.7,393.2 373.6,391.7Z" fill="#90d0d8"/>
<ellipse cx="380.1" cy="394.5" rx="4.1" ry="3.2" transform="rotate(0.0 380.1 394.5)" fill="#a6e3c8"/>
<path d="M410.7,380.6 C412.2,378.4 418.8,376.9 421.9,376.9 C425.0,376.9 428.1,378.4 429.3,380.6 C430.5,382.8 430.9,388.0 429.3,389.9 C427.8,391.8 422.8,391.7 420.0,391.7 C417.2,391.7 414.2,391.8 412.6,389.9 C411.1,388.0 409.1,382.8 410.7,380.6Z" fill="#74b8e7"/>
<path d="M414.4,384.3 C415.6,383.4 421.8,382.8 423.7,383.4 C425.6,384.0 426.8,387.1 425.6,388.0 C424.4,388.9 418.2,389.5 416.3,388.9 C414.4,388.3 413.2,385.2 414.4,384.3Z" fill="#90d0d8"/>
<ellipse cx="418.1" cy="387.6" rx="3.3" ry="1.9" transform="rotate(0.0 418.1 387.6)" fill="#a6e3c8"/>
<path d="M386.6,413.4 C382.0,411.0 389.3,401.8 392.1,399.1 C394.9,396.4 399.3,397.6 403.3,397.3 C407.3,397.0 412.0,397.9 416.3,397.3 C420.6,396.7 425.9,395.2 429.3,393.6 C432.7,392.1 434.5,389.9 436.7,388.0 C438.9,386.1 440.4,383.0 442.3,382.4 C444.2,381.8 447.6,382.8 447.9,384.3 C448.2,385.9 446.0,389.5 444.1,391.7 C442.2,393.9 439.2,395.8 436.7,397.3 C434.2,398.9 432.1,398.3 429.3,401.0 C426.5,403.7 427.1,411.3 420.0,413.4 C412.9,415.5 391.2,415.8 386.6,413.4Z" fill="#90d0d8"/>
<path d="M401.4,413.4 C398.3,411.3 404.2,403.2 407.0,401.0 C409.8,398.8 413.8,400.9 418.1,400.1 C422.4,399.3 429.6,398.1 433.0,396.4 C436.4,394.7 436.8,391.9 438.6,389.9 C440.5,387.9 442.6,384.6 444.1,384.3 C445.7,384.0 448.2,386.1 447.9,388.0 C447.6,389.9 444.8,393.2 442.3,395.4 C439.8,397.6 435.8,398.0 433.0,401.0 C430.2,404.0 430.9,411.3 425.6,413.4 C420.3,415.5 404.5,415.5 401.4,413.4Z" fill="#a6e3c8"/>
<path d="M444.1,389.9 C445.7,388.7 451.2,388.7 453.4,389.9 C455.6,391.1 457.4,395.4 457.1,397.3 C456.8,399.2 453.8,401.0 451.6,401.0 C449.4,401.0 445.4,399.2 444.1,397.3 C442.9,395.4 442.6,391.1 444.1,389.9Z" fill="#74b8e7"/>
<path d="M433.0,401.0 C434.2,398.6 438.5,397.0 440.4,399.1 C442.2,401.2 445.3,411.0 444.1,413.4 C442.9,415.8 434.9,415.5 433.0,413.4 C431.1,411.3 431.8,403.4 433.0,401.0Z" fill="#74b8e7"/>
</g>
<clipPath id="t9"><rect x="95" y="405" width="130" height="100"/></clipPath>
<g clip-path="url(#t9)"><rect x="95" y="405" width="130" height="100" fill="#ccf3a0"/>
<path d="M203.6,436.6 C204.4,435.2 207.6,433.5 210.1,432.9 C212.6,432.3 216.9,432.0 218.5,432.9 C220.1,433.8 220.5,436.9 219.4,438.4 C218.3,439.9 214.3,441.6 212.0,442.1 C209.7,442.6 206.9,442.1 205.5,441.2 C204.1,440.3 202.8,438.0 203.6,436.6Z" fill="#e4f58e"/>
<path d="M213.9,423.6 C214.8,422.7 218.1,422.0 221.3,422.6 C224.6,423.2 233.1,426.1 233.4,427.3 C233.7,428.6 226.1,430.0 223.1,430.1 C220.1,430.2 217.2,429.3 215.7,428.2 C214.2,427.1 213.0,424.5 213.9,423.6Z" fill="#b9eeb5"/>
<ellipse cx="202.3" cy="431.0" rx="2.2" ry="2.2" transform="rotate(0.0 202.3 431.0)" fill="#b9eeb5"/>
<path d="M176.7,456.1 C177.6,454.4 182.9,451.6 187.9,450.5 C192.9,449.4 198.8,450.2 206.4,449.6 C214.0,449.0 228.9,446.2 233.4,446.8 C237.9,447.4 236.7,452.1 233.4,453.3 C230.2,454.5 218.7,453.4 213.9,454.2 C209.1,455.0 207.1,456.2 204.6,457.9 C202.1,459.6 201.2,462.5 199.0,464.4 C196.8,466.3 193.8,468.8 191.6,469.1 C189.4,469.4 187.6,467.7 186.0,466.3 C184.4,464.9 183.9,462.4 182.3,460.7 C180.8,459.0 175.8,457.8 176.7,456.1Z" fill="#b9eeb5"/>
<path d="M201.8,458.9 C204.9,456.9 208.6,456.0 213.9,455.1 C219.2,454.2 230.2,451.8 233.4,453.7 C236.7,455.6 236.7,464.5 233.4,466.3 C230.2,468.1 218.4,464.4 213.9,464.4 C209.4,464.4 208.9,465.5 206.4,466.3 C203.9,467.1 200.8,469.0 199.0,469.1 C197.2,469.2 194.8,468.9 195.3,467.2 C195.8,465.5 198.7,460.9 201.8,458.9Z" fill="#a6e3c8"/>
<path d="M199.0,470.0 C199.8,468.8 203.9,468.1 206.4,467.2 C208.9,466.3 209.4,464.8 213.9,464.8 C218.4,464.8 230.2,464.2 233.4,467.2 C236.7,470.2 236.7,480.4 233.4,483.0 C230.2,485.6 218.4,484.1 213.9,483.0 C209.4,481.9 208.4,477.9 206.4,476.5 C204.4,475.1 203.0,475.7 201.8,474.6 C200.6,473.5 198.2,471.2 199.0,470.0Z" fill="#90d0d8"/>
<ellipse cx="192.9" cy="462.9" rx="3.7" ry="3.2" transform="rotate(0.0 192.9 462.9)" fill="#e4f58e"/>
<path d="M221.3,412.4 C223.2,411.0 231.4,410.1 233.4,411.5 C235.4,412.9 235.3,419.4 233.4,420.8 C231.5,422.2 224.2,421.3 222.2,419.9 C220.2,418.5 219.4,413.8 221.3,412.4Z" fill="#e4f58e"/>
</g>
<clipPath id="t10"><rect x="225" y="405" width="130" height="100"/></clipPath>
<g clip-path="url(#t10)"><rect x="225" y="405" width="130" height="100" fill="#a6e3c8"/>
<path d="M216.6,396.6 C225.4,390.2 261.4,394.0 269.6,396.6 C277.8,399.2 268.1,408.5 265.9,412.4 C263.7,416.3 260.3,417.4 256.6,419.9 C252.9,422.4 247.9,425.1 243.6,427.3 C239.3,429.5 235.1,431.7 230.6,432.9 C226.1,434.1 218.9,440.8 216.6,434.7 C214.3,428.6 207.8,403.0 216.6,396.6Z" fill="#b9eeb5"/>
<path d="M216.6,396.6 C224.2,391.5 255.1,394.0 262.1,396.6 C269.1,399.2 260.6,408.7 258.4,412.4 C256.2,416.1 252.8,416.7 249.1,418.9 C245.4,421.1 241.5,424.0 236.1,425.4 C230.7,426.8 219.8,432.1 216.6,427.3 C213.3,422.5 209.0,401.7 216.6,396.6Z" fill="#ccf3a0"/>
<path d="M230.6,408.7 C232.4,405.4 238.3,396.9 241.7,396.6 C245.1,396.3 249.8,403.6 251.0,406.9 C252.2,410.1 250.7,413.5 249.1,416.1 C247.5,418.7 244.2,421.7 241.7,422.6 C239.2,423.5 236.2,422.8 234.3,421.7 C232.5,420.6 231.2,418.3 230.6,416.1 C230.0,413.9 228.8,411.9 230.6,408.7Z" fill="#e4f58e"/>
<path d="M235.2,413.4 C235.7,411.5 239.2,410.5 240.8,410.6 C242.4,410.8 244.0,412.6 244.5,414.3 C245.0,416.0 244.7,419.6 243.6,420.8 C242.5,422.0 239.4,422.9 238.0,421.7 C236.6,420.5 234.7,415.2 235.2,413.4Z" fill="#f5f57a"/>
<path d="M264.0,425.4 C265.9,423.5 269.6,422.0 273.3,421.7 C277.0,421.4 282.9,423.9 286.3,423.6 C289.7,423.3 292.1,419.6 293.7,419.9 C295.2,420.2 296.5,423.5 295.6,425.4 C294.7,427.2 290.0,428.8 288.1,431.0 C286.2,433.2 284.7,435.9 284.4,438.4 C284.1,440.9 287.2,444.0 286.3,445.9 C285.4,447.8 281.7,449.3 278.9,449.6 C276.1,449.9 271.8,449.2 269.6,447.7 C267.4,446.1 267.1,442.8 265.9,440.3 C264.6,437.8 262.4,435.4 262.1,432.9 C261.8,430.4 262.1,427.3 264.0,425.4Z" fill="#90d0d8"/>
<path d="M268.6,438.4 C270.0,437.5 275.3,436.9 277.0,437.5 C278.7,438.1 279.5,440.9 278.9,442.1 C278.3,443.3 275.0,444.7 273.3,444.9 C271.6,445.1 269.4,444.2 268.6,443.1 C267.8,442.0 267.2,439.3 268.6,438.4Z" fill="#74b8e7"/>
<path d="M247.3,440.3 C248.7,438.8 253.7,437.5 256.6,437.5 C259.5,437.5 262.7,438.6 264.9,440.3 C267.1,442.0 269.8,445.7 269.6,447.7 C269.5,449.7 266.5,451.8 264.0,452.4 C261.5,453.0 257.3,452.3 254.7,451.4 C252.1,450.5 249.4,448.6 248.2,446.8 C247.0,445.0 245.9,441.9 247.3,440.3Z" fill="#90d0d8"/>
<path d="M286.3,416.1 C284.1,413.0 284.4,411.9 284.4,408.7 C284.4,405.4 276.1,398.6 286.3,396.6 C296.5,394.6 335.6,393.4 345.7,396.6 C355.8,399.9 346.9,411.0 346.6,416.1 C346.3,421.2 345.6,423.9 343.9,427.3 C342.2,430.7 339.2,433.5 336.4,436.6 C333.6,439.7 329.6,443.1 327.1,445.9 C324.6,448.7 324.1,451.4 321.6,453.3 C319.1,455.2 314.8,457.3 312.3,457.0 C309.8,456.7 307.9,453.9 306.7,451.4 C305.5,448.9 305.5,445.2 304.9,442.1 C304.3,439.0 304.2,435.4 303.0,432.9 C301.8,430.4 300.2,430.1 297.4,427.3 C294.6,424.5 288.5,419.2 286.3,416.1Z" fill="#90d0d8"/>
<path d="M297.4,423.6 C294.9,420.8 291.6,416.9 290.0,412.4 C288.4,407.9 280.1,399.2 288.1,396.6 C296.2,394.0 329.5,393.4 338.3,396.6 C347.1,399.9 341.1,411.3 341.1,416.1 C341.1,420.9 340.0,422.9 338.3,425.4 C336.6,427.9 333.1,428.8 330.9,431.0 C328.7,433.2 326.9,435.3 325.3,438.4 C323.8,441.5 323.5,447.1 321.6,449.6 C319.7,452.1 316.3,453.6 314.1,453.3 C311.9,453.0 309.8,450.5 308.6,447.7 C307.4,444.9 307.3,439.7 306.7,436.6 C306.1,433.5 306.4,431.3 304.9,429.1 C303.3,426.9 299.9,426.4 297.4,423.6Z" fill="#74b8e7"/>
<path d="M300.2,396.6 C305.6,394.0 327.7,393.7 333.6,396.6 C339.5,399.6 335.6,409.8 335.5,414.3 C335.4,418.8 334.4,421.1 332.7,423.6 C331.0,426.1 327.8,427.9 325.3,429.1 C322.8,430.3 320.4,431.3 317.9,431.0 C315.4,430.7 312.6,429.2 310.4,427.3 C308.2,425.4 306.4,422.4 304.9,419.9 C303.3,417.4 301.9,416.3 301.1,412.4 C300.3,408.5 294.8,399.2 300.2,396.6Z" fill="#56a2f5"/>
<path d="M311.4,442.1 C312.2,440.7 314.5,439.4 316.0,439.4 C317.5,439.4 320.0,440.4 320.6,442.1 C321.2,443.8 320.8,447.9 319.7,449.6 C318.6,451.3 315.5,452.7 314.1,452.4 C312.7,452.1 311.8,449.4 311.4,447.7 C310.9,446.0 310.6,443.5 311.4,442.1Z" fill="#56a2f5"/>
<path d="M312.3,443.1 C312.6,441.6 314.9,441.1 316.0,441.2 C317.1,441.3 318.5,442.6 318.8,444.0 C319.1,445.4 318.7,448.5 317.9,449.6 C317.1,450.7 315.0,451.6 314.1,450.5 C313.2,449.4 312.0,444.7 312.3,443.1Z" fill="#7699f7"/>
<path d="M343.9,396.6 C347.1,394.0 360.1,393.7 363.4,396.6 C366.6,399.6 366.0,411.1 363.4,414.3 C360.8,417.6 350.9,416.4 347.6,416.1 C344.4,415.8 344.5,415.6 343.9,412.4 C343.3,409.1 340.6,399.2 343.9,396.6Z" fill="#90d0d8"/>
<path d="M325.3,447.7 C326.6,444.3 337.5,436.6 343.9,432.9 C350.2,429.2 360.1,423.2 363.4,425.4 C366.6,427.6 367.9,441.2 363.4,445.9 C358.9,450.5 342.8,453.0 336.4,453.3 C330.0,453.6 324.1,451.1 325.3,447.7Z" fill="#b9eeb5"/>
<path d="M251.0,464.4 C252.5,462.4 257.8,461.4 262.1,459.8 C266.4,458.2 272.7,456.3 277.0,455.1 C281.3,453.9 284.7,452.2 288.1,452.4 C291.5,452.6 294.3,454.9 297.4,456.1 C300.5,457.3 302.7,459.5 306.7,459.8 C310.7,460.1 317.3,459.6 321.6,457.9 C325.9,456.2 329.0,452.9 332.7,449.6 C336.4,446.4 338.8,441.5 343.9,438.4 C349.0,435.3 360.1,427.4 363.4,431.0 C366.6,434.6 366.6,454.2 363.4,459.8 C360.1,465.4 348.4,462.7 343.9,464.4 C339.4,466.1 338.4,466.9 336.4,470.0 C334.4,473.1 332.3,478.4 331.8,483.0 C331.3,487.6 334.7,494.8 333.6,497.9 C332.5,501.0 331.0,501.0 325.3,501.6 C319.6,502.2 304.0,503.2 299.3,501.6 C294.6,500.1 298.0,496.0 297.4,492.3 C296.8,488.6 296.8,483.6 295.6,479.3 C294.4,475.0 292.5,468.8 290.0,466.3 C287.5,463.8 283.5,464.4 280.7,464.4 C277.9,464.4 276.4,465.5 273.3,466.3 C270.2,467.1 265.5,468.2 262.1,469.1 C258.7,470.0 254.8,472.7 252.9,471.9 C251.1,471.1 249.5,466.4 251.0,464.4Z" fill="#ccf3a0"/>
<path d="M297.4,464.4 C299.2,462.8 303.3,463.2 306.7,462.6 C310.1,462.0 314.2,461.3 317.9,460.7 C321.6,460.1 325.9,458.9 329.0,458.9 C332.1,458.9 335.2,458.8 336.4,460.7 C337.6,462.6 337.2,466.3 336.4,470.0 C335.6,473.7 332.3,478.4 331.8,483.0 C331.3,487.6 334.5,495.3 333.6,497.9 C332.7,500.5 327.6,500.7 326.2,498.8 C324.8,496.9 326.7,489.3 325.3,486.7 C323.9,484.1 321.0,483.3 317.9,483.0 C314.8,482.7 310.1,484.9 306.7,484.9 C303.3,484.9 299.2,485.2 297.4,483.0 C295.5,480.8 295.6,475.0 295.6,471.9 C295.6,468.8 295.5,465.9 297.4,464.4Z" fill="#e4f58e"/>
<path d="M314.1,464.4 C315.2,463.2 318.8,461.3 321.6,460.7 C324.4,460.1 328.7,459.8 330.9,460.7 C333.1,461.6 334.9,464.8 334.6,466.3 C334.3,467.9 331.5,469.4 329.0,470.0 C326.5,470.6 322.0,470.3 319.7,470.0 C317.4,469.7 316.0,469.0 315.1,468.1 C314.2,467.2 313.0,465.6 314.1,464.4Z" fill="#f5f57a"/>
<path d="M295.6,483.0 C297.2,482.1 303.0,482.0 306.7,482.1 C310.4,482.2 314.8,483.1 317.9,483.9 C321.0,484.7 323.9,484.4 325.3,486.7 C326.7,489.0 327.4,497.0 326.2,497.9 C325.0,498.8 321.1,493.4 317.9,492.3 C314.6,491.2 310.1,492.2 306.7,491.4 C303.3,490.6 299.2,489.0 297.4,487.6 C295.5,486.2 294.1,483.9 295.6,483.0Z" fill="#f5f57a"/>
<path d="M326.2,481.1 C327.1,477.9 330.8,477.1 331.8,479.3 C332.8,481.5 331.7,490.9 332.3,494.1 C332.9,497.4 336.5,498.0 335.5,498.8 C334.5,499.6 327.8,501.8 326.2,498.8 C324.6,495.9 325.3,484.4 326.2,481.1Z" fill="#f7d56e"/>
<path d="M306.7,486.7 C307.6,485.7 312.1,484.8 314.1,484.9 C316.1,485.0 318.3,486.5 318.8,487.6 C319.3,488.7 318.6,490.9 316.9,491.4 C315.2,491.9 310.3,491.6 308.6,490.8 C306.9,490.0 305.8,487.7 306.7,486.7Z" fill="#f5b85e"/>
<ellipse cx="304.9" cy="473.2" rx="2.2" ry="2.2" transform="rotate(0.0 304.9 473.2)" fill="#a6e3c8"/>
<path d="M262.1,473.7 C263.3,471.8 269.6,469.3 273.3,468.1 C277.0,466.9 281.0,466.0 284.4,466.3 C287.8,466.6 291.7,467.2 293.7,470.0 C295.7,472.8 296.2,479.3 296.5,483.0 C296.8,486.7 297.0,491.4 295.6,492.3 C294.2,493.2 290.6,489.5 288.1,488.6 C285.6,487.7 283.2,487.6 280.7,486.7 C278.2,485.8 275.8,484.2 273.3,483.0 C270.8,481.8 267.8,480.9 265.9,479.3 C264.0,477.8 260.9,475.6 262.1,473.7Z" fill="#b9eeb5"/>
<path d="M230.6,460.7 C232.5,459.2 240.5,458.3 243.6,458.9 C246.7,459.5 248.5,461.6 249.1,464.4 C249.7,467.2 247.1,471.7 247.3,475.6 C247.5,479.5 251.3,485.8 250.1,487.6 C248.9,489.5 241.9,488.7 239.9,486.7 C237.9,484.7 239.2,478.7 238.0,475.6 C236.8,472.5 233.6,470.6 232.4,468.1 C231.2,465.6 228.7,462.2 230.6,460.7Z" fill="#90d0d8"/>
<path d="M216.6,458.9 C218.9,457.7 228.0,457.4 230.6,458.9 C233.2,460.4 234.7,466.9 232.4,468.1 C230.1,469.3 219.2,467.8 216.6,466.3 C214.0,464.8 214.3,460.1 216.6,458.9Z" fill="#90d0d8"/>
<path d="M216.6,431.0 C219.8,425.8 232.4,430.7 236.1,432.9 C239.8,435.1 238.9,439.7 238.9,444.0 C238.9,448.3 239.8,455.5 236.1,458.9 C232.4,462.3 219.8,469.0 216.6,464.4 C213.3,459.8 213.3,436.2 216.6,431.0Z" fill="#b9eeb5"/>
<path d="M216.6,431.0 C219.2,426.5 229.4,431.6 232.4,433.8 C235.4,436.0 234.7,440.1 234.7,444.0 C234.7,447.9 235.4,454.2 232.4,457.0 C229.4,459.8 219.2,465.0 216.6,460.7 C214.0,456.4 214.0,435.5 216.6,431.0Z" fill="#ccf3a0"/>
<path d="M349.4,416.1 C351.6,414.9 361.1,413.9 363.4,415.2 C365.7,416.4 365.6,422.4 363.4,423.6 C361.2,424.8 352.7,423.9 350.4,422.6 C348.1,421.4 347.2,417.3 349.4,416.1Z" fill="#ccf3a0"/>
</g>
<clipPath id="t11"><rect x="355" y="405" width="130" height="100"/></clipPath>
<g clip-path="url(#t11)"><rect x="355" y="405" width="130" height="100" fill="#f5f57a"/>
<path d="M346.6,396.6 C360.4,386.2 415.7,393.0 429.3,396.6 C442.9,400.2 430.3,414.3 428.4,418.0 C426.5,421.7 421.1,419.1 418.1,418.9 C415.2,418.6 413.5,417.0 410.7,416.5 C407.9,416.0 404.5,416.0 401.4,416.1 C398.3,416.2 394.4,415.3 392.1,416.9 C389.8,418.4 388.7,421.5 387.5,425.4 C386.3,429.3 386.7,435.8 384.7,440.3 C382.7,444.8 378.5,450.2 375.4,452.4 C372.3,454.6 370.9,452.6 366.1,453.7 C361.3,454.8 349.9,468.4 346.6,458.9 C343.4,449.4 332.8,407.0 346.6,396.6Z" fill="#e4f58e"/>
<path d="M368.9,432.9 C369.8,431.2 375.6,432.2 377.3,431.0 C379.0,429.8 377.7,426.1 379.1,425.4 C380.5,424.7 384.7,425.0 385.6,426.9 C386.5,428.8 385.9,433.9 384.7,436.6 C383.5,439.3 380.4,442.3 378.2,443.1 C376.0,443.9 373.2,442.9 371.7,441.2 C370.1,439.5 368.0,434.6 368.9,432.9Z" fill="#f5f57a"/>
<path d="M346.6,396.6 C360.4,389.0 415.8,393.7 429.3,396.6 C442.8,399.5 430.5,411.3 427.4,413.9 C424.3,416.5 416.6,412.4 410.7,412.4 C404.8,412.4 398.3,413.3 392.1,413.9 C385.9,414.5 378.2,415.0 373.6,416.1 C369.0,417.2 366.2,417.4 364.3,420.8 C362.4,424.2 365.3,433.1 362.4,436.6 C359.4,440.2 349.2,448.8 346.6,442.1 C344.0,435.4 332.8,404.2 346.6,396.6Z" fill="#ccf3a0"/>
<path d="M346.6,396.6 C360.4,392.1 416.0,394.2 429.3,396.6 C442.6,399.0 429.6,408.8 426.5,410.9 C423.4,413.0 416.4,409.5 410.7,409.5 C405.0,409.5 398.3,410.3 392.1,410.9 C385.9,411.4 378.6,411.9 373.6,412.8 C368.7,413.7 366.9,414.3 362.4,416.1 C357.9,417.9 349.2,426.9 346.6,423.6 C344.0,420.4 332.8,401.1 346.6,396.6Z" fill="#b9eeb5"/>
<path d="M346.6,396.6 C360.4,393.3 416.1,394.7 429.3,396.6 C442.5,398.6 428.7,406.6 425.6,408.3 C422.5,410.0 416.3,406.9 410.7,406.9 C405.1,406.9 398.3,407.8 392.1,408.3 C385.9,408.8 378.6,409.1 373.6,409.8 C368.7,410.5 366.9,411.3 362.4,412.4 C357.9,413.5 349.2,419.1 346.6,416.5 C344.0,413.9 332.8,399.9 346.6,396.6Z" fill="#a6e3c8"/>
<path d="M346.6,396.6 C360.4,393.8 416.1,395.0 429.3,396.6 C442.5,398.2 431.8,404.5 425.6,406.1 C419.4,407.7 402.0,406.1 392.1,406.3 C382.2,406.6 370.7,406.9 366.1,407.6 C361.5,408.3 367.6,409.6 364.3,410.6 C361.1,411.6 349.6,415.7 346.6,413.4 C343.7,411.1 332.8,399.4 346.6,396.6Z" fill="#90d0d8"/>
<path d="M346.6,423.6 C348.9,422.7 357.9,423.0 360.2,423.9 C362.5,424.8 362.9,427.9 360.6,428.8 C358.3,429.7 348.9,430.4 346.6,429.5 C344.3,428.6 344.3,424.5 346.6,423.6Z" fill="#90d0d8"/>
<path d="M425.6,396.6 C430.1,393.4 447.1,394.0 451.6,396.6 C456.1,399.2 453.1,408.2 452.5,412.4 C451.9,416.6 448.0,418.9 447.9,421.7 C447.8,424.5 451.6,426.6 451.6,429.1 C451.6,431.6 450.1,435.1 447.9,436.6 C445.7,438.2 441.1,439.0 438.6,438.4 C436.1,437.8 434.6,435.1 433.0,432.9 C431.4,430.7 430.7,428.2 429.3,425.4 C427.9,422.6 425.2,420.9 424.6,416.1 C424.0,411.3 421.1,399.9 425.6,396.6Z" fill="#90d0d8"/>
<path d="M428.4,406.9 C429.3,403.6 434.1,396.6 436.7,396.6 C439.3,396.6 442.6,403.9 444.1,406.9 C445.7,409.8 446.9,412.3 446.0,414.3 C445.1,416.3 441.1,418.6 438.6,418.9 C436.1,419.2 432.8,418.1 431.1,416.1 C429.4,414.1 427.5,410.1 428.4,406.9Z" fill="#74b8e7"/>
<path d="M430.2,408.7 C431.0,407.5 434.8,406.6 436.7,406.9 C438.6,407.2 441.1,409.2 441.4,410.6 C441.7,412.0 440.2,414.6 438.6,415.2 C437.1,415.8 433.5,415.4 432.1,414.3 C430.7,413.2 429.4,409.9 430.2,408.7Z" fill="#56a2f5"/>
<path d="M437.6,429.1 C438.5,427.7 442.4,426.7 444.1,427.3 C445.8,427.9 447.9,431.2 447.9,432.9 C447.9,434.6 445.7,437.1 444.1,437.5 C442.6,437.9 439.7,437.0 438.6,435.6 C437.5,434.2 436.7,430.5 437.6,429.1Z" fill="#74b8e7"/>
<ellipse cx="442.7" cy="432.9" rx="2.6" ry="2.6" transform="rotate(0.0 442.7 432.9)" fill="#56a2f5"/>
<path d="M447.9,416.1 C448.2,414.2 451.2,412.2 453.4,412.4 C455.6,412.6 457.8,415.7 460.9,417.1 C464.0,418.5 469.1,420.7 472.0,420.8 C474.9,420.9 477.3,417.7 478.5,418.0 C479.7,418.3 479.9,420.4 479.4,422.6 C478.9,424.8 477.2,428.4 475.7,431.0 C474.1,433.6 472.3,436.5 470.1,438.4 C467.9,440.2 465.2,441.8 462.7,442.1 C460.2,442.4 457.1,441.8 455.3,440.3 C453.5,438.8 452.2,435.7 451.6,432.9 C451.0,430.1 452.2,426.4 451.6,423.6 C451.0,420.8 447.6,418.0 447.9,416.1Z" fill="#a6e3c8"/>
<path d="M462.7,423.6 C464.2,421.4 469.4,422.3 472.0,421.7 C474.6,421.1 477.6,418.7 478.5,419.9 C479.4,421.1 479.0,426.2 477.6,429.1 C476.2,432.0 472.6,436.6 470.1,437.5 C467.6,438.4 463.9,437.0 462.7,434.7 C461.5,432.4 461.1,425.8 462.7,423.6Z" fill="#b9eeb5"/>
<path d="M466.4,425.4 C467.6,423.4 474.4,422.4 475.7,423.6 C476.9,424.9 475.1,430.9 473.9,432.9 C472.7,434.9 469.6,436.9 468.3,435.6 C467.1,434.4 465.2,427.4 466.4,425.4Z" fill="#ccf3a0"/>
<path d="M455.3,442.1 C457.2,440.2 461.5,439.4 464.6,437.5 C467.7,435.6 472.0,431.8 473.9,431.0 C475.8,430.2 476.3,431.5 475.7,432.9 C475.1,434.3 472.9,437.1 470.1,439.4 C467.3,441.7 461.8,445.3 459.0,446.8 C456.2,448.3 454.0,449.4 453.4,448.6 C452.8,447.8 453.4,444.0 455.3,442.1Z" fill="#f5f57a"/>
<path d="M388.4,444.9 C389.9,443.2 395.9,441.5 399.6,441.2 C403.3,440.9 407.6,443.0 410.7,443.1 C413.8,443.2 415.9,443.8 418.1,442.1 C420.3,440.4 421.8,434.1 423.7,432.9 C425.6,431.7 428.1,433.2 429.3,434.7 C430.5,436.2 428.9,440.6 431.1,442.1 C433.3,443.7 438.9,443.1 442.3,444.0 C445.7,444.9 449.4,447.6 451.6,447.7 C453.8,447.8 454.1,445.0 455.3,444.9 C456.5,444.8 459.3,445.7 459.0,446.8 C458.7,447.9 454.9,449.1 453.4,451.4 C451.8,453.7 451.2,458.2 449.7,460.7 C448.1,463.2 446.9,464.8 444.1,466.3 C441.3,467.9 436.4,469.5 433.0,470.0 C429.6,470.5 426.2,469.7 423.7,469.1 C421.2,468.5 420.6,467.1 418.1,466.3 C415.6,465.5 411.1,465.3 408.9,464.4 C406.7,463.5 406.0,462.2 405.1,460.7 C404.2,459.1 405.2,455.7 403.3,455.1 C401.4,454.5 396.2,457.6 394.0,457.0 C391.8,456.4 391.2,453.4 390.3,451.4 C389.4,449.4 386.8,446.6 388.4,444.9Z" fill="#f7d56e"/>
<path d="M399.6,449.6 C400.5,448.2 406.1,446.2 408.9,445.9 C411.7,445.6 413.8,447.9 416.3,447.7 C418.8,447.5 420.9,445.4 423.7,444.9 C426.5,444.4 429.9,444.6 433.0,444.9 C436.1,445.2 439.2,446.0 442.3,446.8 C445.4,447.6 450.4,447.3 451.6,449.6 C452.8,451.9 450.9,457.9 449.7,460.7 C448.4,463.5 446.9,464.8 444.1,466.3 C441.3,467.9 436.4,469.5 433.0,470.0 C429.6,470.5 426.2,469.7 423.7,469.1 C421.2,468.5 420.6,467.1 418.1,466.3 C415.6,465.5 411.1,465.3 408.9,464.4 C406.7,463.5 406.0,462.4 405.1,460.7 C404.2,459.0 404.6,456.0 403.7,454.2 C402.8,452.4 398.7,451.0 399.6,449.6Z" fill="#f5b85e"/>
<path d="M407.0,458.9 C408.2,457.0 412.6,454.7 416.3,453.3 C420.0,451.9 425.9,450.8 429.3,450.5 C432.7,450.2 434.2,450.8 436.7,451.4 C439.2,452.0 441.9,453.1 444.1,454.2 C446.3,455.3 448.9,456.7 449.7,457.9 C450.5,459.1 449.7,460.2 448.8,461.6 C447.9,463.0 446.7,464.9 444.1,466.3 C441.5,467.7 436.4,469.5 433.0,470.0 C429.6,470.5 426.2,469.7 423.7,469.1 C421.2,468.5 420.6,467.1 418.1,466.3 C415.6,465.5 410.8,465.6 408.9,464.4 C407.0,463.2 405.8,460.8 407.0,458.9Z" fill="#f59450"/>
<path d="M418.1,465.4 C418.7,464.7 422.3,464.4 423.7,464.8 C425.1,465.2 427.1,467.4 426.5,468.1 C425.9,468.8 421.4,469.6 420.0,469.1 C418.6,468.7 417.5,466.1 418.1,465.4Z" fill="#e8622a"/>
</g>
</g>
<g fill="none" stroke="#234a63" stroke-width="0.55" opacity="0.75">
<g clip-path="url(#t0)"><path d="M196.2,179.1 C196.3,178.0 200.1,177.0 201.8,176.8 C203.5,176.6 205.7,177.2 206.4,178.1 C207.1,178.9 207.0,181.0 206.1,181.9 C205.2,182.8 202.6,183.8 200.9,183.3 C199.2,182.8 196.0,180.2 196.2,179.1Z"/>
<path d="M191.9,193.9 C193.7,188.1 202.1,189.1 204.9,188.7 C207.7,188.3 207.8,189.8 208.7,191.5 C209.6,193.2 209.3,197.0 210.5,198.6 C211.7,200.2 211.9,201.0 215.7,200.8 C219.5,200.6 230.4,193.8 233.4,197.6 C236.4,201.4 239.9,219.1 233.4,223.4 C226.9,227.7 201.3,228.3 194.4,223.4 C187.5,218.5 190.2,199.7 191.9,193.9Z"/>
<path d="M215.7,196.7 C217.7,195.3 230.4,192.7 233.4,193.9 C236.4,195.1 235.4,202.7 233.4,204.1 C231.4,205.5 224.2,203.5 221.3,202.3 C218.4,201.1 213.7,198.1 215.7,196.7Z"/>
<path d="M134.0,211.6 C137.4,209.4 151.0,208.1 154.4,210.1 C157.8,212.1 157.8,221.2 154.4,223.4 C151.0,225.6 137.4,225.4 134.0,223.4 C130.6,221.4 130.6,213.8 134.0,211.6Z"/></g>
<g clip-path="url(#t1)"><path d="M286.3,136.4 C288.6,133.1 296.2,136.8 299.3,135.1 C302.4,133.4 304.3,128.7 304.9,126.1 C305.5,123.5 301.0,121.1 303.0,119.6 C305.0,118.1 314.3,115.8 316.9,116.9 C319.5,118.0 317.1,123.3 318.8,126.1 C320.5,128.9 324.2,132.2 327.1,133.6 C330.0,135.0 334.5,132.9 336.4,134.5 C338.3,136.1 339.5,141.1 338.3,142.9 C337.1,144.8 331.5,144.1 329.0,145.6 C326.5,147.1 325.6,150.2 323.4,152.1 C321.2,154.0 318.8,155.4 316.0,156.8 C313.2,158.2 310.4,159.9 306.7,160.5 C303.0,161.1 297.2,161.4 293.7,160.5 C290.1,159.6 286.6,158.9 285.4,154.9 C284.2,150.9 284.0,139.7 286.3,136.4Z"/>
<path d="M287.2,139.1 C289.2,137.7 295.1,141.0 298.4,140.1 C301.6,139.2 304.4,135.3 306.7,133.6 C309.0,131.9 310.4,129.9 312.3,129.9 C314.2,129.9 316.2,131.8 317.9,133.6 C319.6,135.4 322.7,138.8 322.5,141.0 C322.3,143.2 318.9,144.9 316.9,146.6 C314.9,148.3 312.7,149.8 310.4,151.2 C308.1,152.6 306.4,154.3 303.0,154.9 C299.6,155.5 292.8,156.0 290.0,154.9 C287.2,153.8 286.8,151.0 286.3,148.4 C285.8,145.8 285.2,140.5 287.2,139.1Z"/>
<ellipse cx="296.5" cy="152.1" rx="4.1" ry="3.2" transform="rotate(0.0 296.5 152.1)"/>
<ellipse cx="308.2" cy="143.8" rx="2.4" ry="2.2" transform="rotate(0.0 308.2 143.8)"/>
<path d="M307.6,128.9 C308.2,128.0 311.6,127.4 313.2,128.0 C314.8,128.6 316.8,131.2 316.9,132.6 C317.0,134.0 315.3,136.2 314.1,136.4 C312.9,136.6 310.6,134.8 309.5,133.6 C308.4,132.3 307.0,129.8 307.6,128.9Z"/>
<path d="M247.3,179.1 C248.4,176.9 253.1,176.0 255.6,176.3 C258.1,176.6 259.2,180.9 262.1,180.9 C265.1,180.9 269.6,178.5 273.3,176.3 C277.0,174.1 281.9,167.9 284.4,167.9 C286.9,167.9 288.6,173.7 288.1,176.3 C287.6,178.9 281.4,181.5 281.6,183.7 C281.8,185.9 288.3,187.4 289.1,189.3 C289.9,191.2 288.0,193.4 286.3,194.9 C284.6,196.4 281.7,197.8 278.9,198.6 C276.1,199.4 272.4,198.6 269.6,199.5 C266.8,200.4 263.7,200.1 262.1,204.1 C260.6,208.1 262.2,220.2 260.3,223.4 C258.4,226.6 252.2,227.9 251.0,223.4 C249.8,218.9 253.2,202.4 252.9,196.7 C252.6,191.0 250.0,192.2 249.1,189.3 C248.2,186.4 246.2,181.3 247.3,179.1Z"/>
<path d="M261.2,186.5 C262.3,185.2 268.4,184.3 271.4,184.6 C274.4,184.9 277.9,187.0 279.2,188.4 C280.5,189.8 280.5,191.7 279.2,193.0 C277.9,194.3 273.8,196.3 271.4,196.2 C269.0,196.1 266.6,194.0 264.9,192.4 C263.2,190.8 260.1,187.8 261.2,186.5Z"/>
<path d="M289.1,163.3 C291.4,161.5 298.2,159.8 303.0,159.6 C307.8,159.4 313.6,162.1 317.9,162.4 C322.2,162.7 325.9,160.3 329.0,161.4 C332.1,162.5 335.8,166.4 336.4,168.9 C337.0,171.4 335.2,174.5 332.7,176.3 C330.2,178.2 325.6,179.2 321.6,180.0 C317.6,180.8 312.9,181.2 308.6,180.9 C304.3,180.6 298.9,179.8 295.6,178.1 C292.4,176.4 290.2,173.2 289.1,170.7 C288.0,168.2 286.8,165.2 289.1,163.3Z"/>
<path d="M293.7,168.9 C294.5,167.5 297.1,165.6 299.3,165.1 C301.5,164.6 304.2,165.5 306.7,166.1 C309.2,166.7 312.9,167.5 314.1,168.9 C315.3,170.3 315.3,173.0 314.1,174.4 C312.9,175.8 309.2,176.7 306.7,177.2 C304.2,177.7 301.3,177.8 299.3,177.2 C297.3,176.6 295.5,174.9 294.6,173.5 C293.7,172.1 292.9,170.3 293.7,168.9Z"/>
<path d="M319.7,170.7 C320.5,169.0 323.3,165.9 325.3,165.1 C327.3,164.3 330.7,164.8 331.8,166.1 C332.9,167.3 332.7,170.8 331.8,172.6 C330.9,174.4 328.1,176.7 326.2,177.2 C324.3,177.7 321.7,176.5 320.6,175.4 C319.5,174.3 318.9,172.4 319.7,170.7Z"/>
<path d="M322.5,172.6 C322.6,171.0 324.8,167.8 326.2,167.0 C327.6,166.2 330.4,166.8 330.9,167.9 C331.4,169.0 329.9,172.1 329.0,173.5 C328.1,174.9 326.4,176.5 325.3,176.3 C324.2,176.2 322.4,174.2 322.5,172.6Z"/>
<path d="M328.1,143.8 C330.0,142.1 333.8,141.4 336.4,141.9 C339.0,142.4 342.0,144.0 343.9,146.6 C345.8,149.2 347.6,154.6 347.6,157.7 C347.6,160.8 346.1,163.9 343.9,165.1 C341.7,166.3 337.1,166.0 334.6,165.1 C332.1,164.2 330.6,161.8 329.0,159.6 C327.4,157.4 325.4,154.7 325.3,152.1 C325.2,149.5 326.2,145.5 328.1,143.8Z"/>
<path d="M332.7,153.1 C333.8,151.1 338.7,150.4 340.1,152.1 C341.5,153.8 342.2,161.3 341.1,163.3 C340.0,165.3 335.0,165.9 333.6,164.2 C332.2,162.5 331.6,155.1 332.7,153.1Z"/>
<path d="M294.6,183.7 C295.7,181.2 300.1,179.1 303.0,179.1 C305.9,179.1 310.8,181.4 312.3,183.7 C313.9,186.0 313.5,190.8 312.3,193.0 C311.1,195.2 307.5,196.5 304.9,196.7 C302.3,196.8 298.2,196.1 296.5,193.9 C294.8,191.7 293.5,186.2 294.6,183.7Z"/>
<ellipse cx="302.1" cy="190.2" rx="4.6" ry="5.2" transform="rotate(0.0 302.1 190.2)"/>
<ellipse cx="302.1" cy="190.2" rx="1.9" ry="2.2" transform="rotate(0.0 302.1 190.2)"/>
<path d="M347.6,149.4 C349.6,148.2 360.8,138.0 363.4,150.3 C366.0,162.6 372.8,211.2 363.4,223.4 C353.9,235.6 315.8,226.6 306.7,223.4 C297.6,220.2 306.7,209.2 308.6,204.1 C310.5,199.0 314.5,196.1 317.9,193.0 C321.3,189.9 325.3,188.4 329.0,185.6 C332.7,182.8 337.0,179.4 340.1,176.3 C343.2,173.2 345.7,170.1 347.6,167.0 C349.5,163.9 351.3,160.6 351.3,157.7 C351.3,154.8 345.6,150.6 347.6,149.4Z"/>
<path d="M363.4,165.1 C365.7,173.3 372.2,213.7 363.4,223.4 C354.6,233.1 318.6,226.9 310.4,223.4 C302.2,219.9 311.3,207.5 314.1,202.3 C316.9,197.1 322.8,195.1 327.1,192.1 C331.4,189.1 336.4,187.5 340.1,184.6 C343.8,181.7 345.5,177.7 349.4,174.4 C353.3,171.2 361.1,156.9 363.4,165.1Z"/>
<path d="M363.4,176.3 C360.1,172.4 348.6,184.2 343.9,186.5 C339.1,188.8 337.7,188.6 334.9,190.0 C332.1,191.4 330.0,192.5 327.0,195.0 C324.0,197.5 318.8,200.4 316.9,205.1 C315.0,209.8 312.7,220.3 315.6,223.4 C318.6,226.5 331.4,226.0 334.6,223.4 C337.8,220.8 333.3,210.7 334.9,207.9 C336.4,205.2 341.8,206.5 343.9,206.9 C346.0,207.3 344.4,210.1 347.6,210.6 C350.9,211.1 360.8,215.4 363.4,209.7 C366.0,204.0 366.6,180.2 363.4,176.3Z"/>
<path d="M333.6,207.9 C335.3,205.1 341.4,206.0 343.9,206.4 C346.4,206.8 345.2,209.6 348.5,210.1 C351.8,210.6 360.9,207.1 363.4,209.3 C365.9,211.5 368.4,221.1 363.4,223.4 C358.4,225.8 338.6,226.0 333.6,223.4 C328.6,220.8 331.9,210.7 333.6,207.9Z"/>
<path d="M342.9,211.9 C346.5,209.8 360.0,208.7 363.4,210.6 C366.8,212.5 367.0,221.3 363.4,223.4 C359.8,225.5 345.4,225.3 342.0,223.4 C338.6,221.5 339.3,214.0 342.9,211.9Z"/>
<path d="M349.4,196.7 C351.4,195.1 361.1,194.2 363.4,195.8 C365.7,197.4 365.4,204.4 363.4,206.0 C361.4,207.6 353.6,207.2 351.3,205.6 C349.0,204.0 347.4,198.3 349.4,196.7Z"/>
<path d="M349.4,151.2 C351.6,150.1 361.1,150.0 363.4,151.2 C365.7,152.4 365.6,157.5 363.4,158.6 C361.2,159.7 352.7,158.9 350.4,157.7 C348.1,156.5 347.2,152.3 349.4,151.2Z"/>
<path d="M264.9,204.1 C268.0,200.4 276.5,200.8 280.7,201.4 C284.9,202.0 288.4,204.2 290.0,207.9 C291.6,211.6 294.6,220.8 290.0,223.4 C285.4,226.0 266.3,226.6 262.1,223.4 C257.9,220.2 261.8,207.8 264.9,204.1Z"/>
<path d="M271.4,208.8 C272.5,206.1 277.0,206.4 278.9,206.9 C280.8,207.4 282.3,208.8 282.6,211.6 C282.9,214.3 282.4,221.4 280.7,223.4 C279.0,225.4 273.9,225.8 272.4,223.4 C270.8,221.0 270.3,211.6 271.4,208.8Z"/>
<ellipse cx="227.8" cy="198.6" rx="3.3" ry="3.3" transform="rotate(0.0 227.8 198.6)"/>
<ellipse cx="239.9" cy="199.5" rx="2.8" ry="2.8" transform="rotate(0.0 239.9 199.5)"/>
<path d="M216.6,207.9 C219.6,205.0 231.1,203.4 234.3,206.0 C237.6,208.6 239.1,220.5 236.1,223.4 C233.1,226.3 219.8,226.0 216.6,223.4 C213.3,220.8 213.6,210.8 216.6,207.9Z"/>
<ellipse cx="228.7" cy="211.9" rx="4.1" ry="3.7" transform="rotate(0.0 228.7 211.9)"/>
<path d="M288.1,204.1 C290.6,200.6 300.2,199.1 303.0,202.3 C305.8,205.5 307.4,219.9 304.9,223.4 C302.4,226.9 290.9,226.6 288.1,223.4 C285.3,220.2 285.6,207.6 288.1,204.1Z"/></g>
<g clip-path="url(#t2)"><path d="M373.6,177.2 C376.2,174.7 383.3,172.5 387.5,174.1 C391.7,175.7 393.8,184.1 398.6,186.5 C403.4,188.9 411.2,187.9 416.3,188.4 C421.4,188.9 426.8,187.9 429.3,189.3 C431.8,190.7 433.3,194.5 431.1,196.7 C428.9,198.9 419.7,197.9 416.3,202.3 C412.9,206.8 416.0,219.9 410.7,223.4 C405.4,226.9 389.0,227.2 384.7,223.4 C380.4,219.6 386.5,204.5 384.7,200.4 C382.9,196.3 375.8,200.4 373.6,198.6 C371.4,196.8 371.7,192.9 371.7,189.3 C371.7,185.7 371.0,179.7 373.6,177.2Z"/>
<path d="M399.6,206.0 C401.3,202.8 407.0,201.2 408.9,204.1 C410.8,207.0 412.4,220.2 410.7,223.4 C409.0,226.6 400.5,226.3 398.6,223.4 C396.8,220.5 397.9,209.2 399.6,206.0Z"/>
<path d="M399.6,186.5 C401.6,185.7 406.1,185.0 408.9,185.2 C411.7,185.4 413.8,187.6 416.3,187.8 C418.8,188.0 422.0,185.9 423.7,186.5 C425.4,187.1 427.4,189.9 426.5,191.1 C425.6,192.3 420.7,193.3 418.1,193.9 C415.5,194.5 413.2,194.9 410.7,194.9 C408.2,194.9 405.1,193.0 403.3,193.9 C401.5,194.8 401.2,199.2 399.6,200.4 C398.1,201.7 395.1,202.3 394.0,201.4 C392.9,200.5 392.6,196.8 393.1,194.9 C393.6,193.0 395.7,191.6 396.8,190.2 C397.9,188.8 397.6,187.3 399.6,186.5Z"/>
<path d="M358.7,180.0 C359.9,178.8 364.6,178.2 366.1,179.1 C367.7,180.0 368.6,184.0 368.0,185.6 C367.4,187.2 363.9,188.2 362.4,188.4 C360.8,188.6 359.3,187.9 358.7,186.5 C358.1,185.1 357.5,181.2 358.7,180.0Z"/>
<path d="M346.6,149.4 C348.9,145.3 357.9,149.8 360.6,152.1 C363.3,154.4 362.8,159.9 362.8,163.3 C362.8,166.7 363.3,170.4 360.6,172.6 C357.9,174.8 348.9,180.6 346.6,176.7 C344.3,172.8 344.3,153.5 346.6,149.4Z"/>
<path d="M346.6,154.9 C348.6,152.2 356.6,155.6 358.7,158.1 C360.8,160.6 361.5,167.1 359.5,169.8 C357.5,172.5 348.8,176.6 346.6,174.1 C344.5,171.6 344.6,157.6 346.6,154.9Z"/>
<path d="M346.6,207.9 C349.6,205.5 360.6,206.2 364.3,208.8 C368.0,211.4 371.8,221.0 368.9,223.4 C365.9,225.8 350.3,226.0 346.6,223.4 C342.9,220.8 343.7,210.3 346.6,207.9Z"/>
<path d="M451.6,200.4 C453.5,198.8 457.1,198.0 459.0,198.6 C460.9,199.2 462.7,201.9 462.7,204.1 C462.7,206.3 460.6,208.4 459.0,211.6 C457.4,214.8 455.2,224.0 453.4,223.4 C451.5,222.8 448.2,211.7 447.9,207.9 C447.6,204.1 449.8,202.0 451.6,200.4Z"/>
<path d="M466.4,206.0 C468.2,203.1 477.5,203.1 479.4,206.0 C481.3,208.9 479.5,220.5 477.6,223.4 C475.8,226.3 470.2,226.3 468.3,223.4 C466.4,220.5 464.5,208.9 466.4,206.0Z"/></g>
<g clip-path="url(#t3)"><path d="M134.9,206.6 C138.2,204.3 150.8,204.0 154.4,206.6 C158.0,209.2 157.2,219.3 156.3,222.4 C155.4,225.5 151.7,224.9 148.9,225.2 C146.1,225.5 141.9,225.1 139.6,224.3 C137.3,223.5 135.7,223.6 134.9,220.6 C134.1,217.6 131.7,208.9 134.9,206.6Z"/>
<path d="M106.1,224.3 C107.3,223.1 112.6,222.8 115.4,223.4 C118.2,224.0 119.8,226.9 122.9,228.0 C126.0,229.1 132.0,227.9 134.0,229.9 C136.0,231.9 135.5,238.1 134.9,240.1 C134.3,242.1 130.9,240.3 130.3,241.9 C129.7,243.5 130.0,247.9 131.2,249.4 C132.4,250.9 136.8,249.5 137.7,251.2 C138.6,252.9 138.7,258.7 136.8,259.6 C135.0,260.5 129.8,258.5 126.6,256.8 C123.3,255.1 119.5,252.4 117.3,249.4 C115.1,246.4 113.9,241.7 113.6,239.1 C113.3,236.5 116.3,235.0 115.4,233.6 C114.5,232.2 109.5,232.4 108.0,230.8 C106.5,229.2 104.9,225.5 106.1,224.3Z"/>
<path d="M130.3,241.0 C132.3,239.6 139.3,241.6 143.3,241.9 C147.3,242.2 151.0,243.7 154.4,242.9 C157.8,242.1 162.3,239.8 163.7,237.3 C165.1,234.8 161.9,230.2 162.8,228.0 C163.7,225.8 166.7,224.6 169.3,224.3 C171.9,224.0 176.4,224.7 178.6,226.1 C180.8,227.5 180.8,232.3 182.3,232.6 C183.9,232.9 186.1,228.2 187.9,228.0 C189.8,227.8 192.0,229.8 193.4,231.7 C194.8,233.5 195.4,236.0 196.2,239.1 C197.0,242.2 198.2,246.9 198.1,250.3 C197.9,253.7 197.6,257.1 195.3,259.6 C193.0,262.1 187.2,263.2 184.1,265.1 C181.0,267.0 179.8,269.6 176.7,270.7 C173.6,271.8 169.0,271.9 165.6,271.6 C162.2,271.3 159.7,269.8 156.3,268.9 C152.9,268.0 148.2,267.5 145.1,266.1 C142.0,264.7 140.0,263.1 137.7,260.5 C135.4,257.9 132.4,253.6 131.2,250.3 C130.0,247.1 128.3,242.4 130.3,241.0Z"/>
<path d="M163.7,239.1 C164.6,238.0 169.2,237.0 171.1,237.3 C173.0,237.6 174.9,239.8 174.9,241.0 C174.9,242.2 172.7,244.2 171.1,244.7 C169.5,245.2 166.8,244.7 165.6,243.8 C164.4,242.9 162.8,240.2 163.7,239.1Z"/>
<path d="M173.0,242.9 C173.8,242.0 177.7,241.1 178.6,241.9 C179.5,242.7 179.4,246.6 178.6,247.5 C177.8,248.4 174.8,248.3 173.9,247.5 C173.0,246.7 172.2,243.8 173.0,242.9Z"/>
<path d="M131.2,248.4 C132.4,248.0 139.1,249.4 143.3,249.4 C147.5,249.4 152.0,248.1 156.3,248.4 C160.6,248.7 165.6,250.4 169.3,251.2 C173.0,252.0 176.1,252.5 178.6,253.1 C181.1,253.7 183.5,253.7 184.1,254.9 C184.7,256.1 183.5,258.8 182.3,260.5 C181.1,262.2 179.5,264.0 176.7,265.1 C173.9,266.2 169.3,266.8 165.6,267.0 C161.9,267.2 158.1,266.6 154.4,266.1 C150.7,265.6 146.2,265.3 143.3,264.2 C140.4,263.1 138.0,261.6 136.8,259.6 C135.6,257.6 136.8,254.0 135.9,252.1 C135.0,250.2 130.0,248.8 131.2,248.4Z"/>
<path d="M138.6,252.1 C140.2,250.9 145.7,251.0 148.9,251.2 C152.2,251.4 154.7,252.2 158.1,253.1 C161.5,254.0 166.2,255.7 169.3,256.8 C172.4,257.9 175.8,258.4 176.7,259.6 C177.6,260.8 176.8,263.2 174.9,264.2 C173.1,265.2 169.0,265.4 165.6,265.5 C162.2,265.6 157.8,265.2 154.4,264.8 C151.0,264.4 147.6,263.9 145.1,262.9 C142.6,261.9 140.7,260.4 139.6,258.6 C138.5,256.8 137.0,253.3 138.6,252.1Z"/>
<path d="M195.3,206.6 C201.4,204.3 227.1,202.4 233.4,206.6 C239.8,210.8 236.0,227.4 233.4,231.7 C230.8,236.0 221.8,232.8 217.6,232.6 C213.4,232.4 211.1,231.9 208.3,230.8 C205.5,229.7 202.8,227.8 200.9,226.1 C199.0,224.4 198.0,223.8 197.1,220.6 C196.2,217.3 189.2,208.9 195.3,206.6Z"/>
<path d="M206.4,206.6 C207.7,204.0 215.7,204.3 217.6,206.6 C219.5,208.9 218.8,218.0 217.6,220.6 C216.3,223.2 212.0,224.7 210.1,222.4 C208.2,220.1 205.2,209.2 206.4,206.6Z"/>
<path d="M217.6,233.6 C219.9,231.9 230.8,230.5 233.4,231.7 C236.0,232.9 235.7,239.3 233.4,241.0 C231.1,242.7 222.0,243.1 219.4,241.9 C216.8,240.7 215.3,235.3 217.6,233.6Z"/>
<ellipse cx="212.9" cy="254.0" rx="4.6" ry="4.6" transform="rotate(0.0 212.9 254.0)"/>
<path d="M191.6,276.3 C192.8,275.4 199.4,275.3 206.4,274.4 C213.4,273.5 228.9,263.4 233.4,270.7 C237.9,278.0 242.5,310.4 233.4,318.4 C224.3,326.3 188.1,321.4 178.6,318.4 C169.1,315.4 176.1,304.6 176.7,300.4 C177.3,296.2 179.2,295.5 182.3,293.0 C185.4,290.5 192.5,287.8 195.3,285.6 C198.1,283.4 199.6,281.6 199.0,280.0 C198.4,278.4 190.4,277.2 191.6,276.3Z"/>
<path d="M204.6,280.0 C209.9,278.3 228.6,271.9 233.4,274.4 C238.2,276.9 236.7,291.2 233.4,294.9 C230.2,298.6 218.4,297.3 213.9,296.7 C209.4,296.1 208.4,293.1 206.4,291.1 C204.4,289.1 202.1,286.5 201.8,284.6 C201.5,282.8 199.3,281.7 204.6,280.0Z"/>
<path d="M174.9,296.7 C175.2,292.8 179.5,294.0 182.3,294.9 C185.1,295.8 188.8,298.4 191.6,302.3 C194.4,306.2 200.9,315.7 199.0,318.4 C197.1,321.1 184.4,322.0 180.4,318.4 C176.4,314.8 174.6,300.6 174.9,296.7Z"/>
<path d="M204.6,265.1 C209.1,264.5 228.6,266.1 233.4,267.0 C238.2,267.9 237.9,270.1 233.4,270.7 C228.9,271.3 211.2,271.6 206.4,270.7 C201.6,269.8 200.1,265.7 204.6,265.1Z"/></g>
<g clip-path="url(#t4)"><path d="M216.6,206.6 C220.8,202.4 235.3,206.6 241.7,206.6 C248.0,206.6 251.6,204.0 254.7,206.6 C257.8,209.2 259.1,218.2 260.3,222.4 C261.5,226.6 263.0,229.7 262.1,231.7 C261.2,233.7 257.5,234.7 254.7,234.5 C251.9,234.3 248.5,231.6 245.4,230.8 C242.3,230.0 240.9,229.8 236.1,229.9 C231.3,230.1 219.8,235.6 216.6,231.7 C213.3,227.8 212.4,210.8 216.6,206.6Z"/>
<ellipse cx="247.3" cy="222.1" rx="5.9" ry="5.2" transform="rotate(0.0 247.3 222.1)"/>
<path d="M264.9,224.3 C265.7,219.2 266.0,209.6 269.6,206.6 C273.2,203.6 283.1,201.8 286.3,206.6 C289.6,211.4 289.7,228.7 289.1,235.4 C288.5,242.1 285.6,244.7 282.6,246.6 C279.7,248.5 274.3,248.1 271.4,246.6 C268.4,245.1 266.0,241.0 264.9,237.3 C263.8,233.6 264.1,229.4 264.9,224.3Z"/>
<path d="M271.4,206.6 C272.9,204.3 279.0,204.0 280.7,206.6 C282.4,209.2 282.5,219.6 281.6,222.4 C280.7,225.2 276.8,223.7 275.1,223.4 C273.4,223.1 272.0,223.4 271.4,220.6 C270.8,217.8 269.8,208.9 271.4,206.6Z"/>
<path d="M288.1,206.6 C291.1,203.6 302.1,203.3 304.9,206.6 C307.7,209.8 305.8,221.3 304.9,226.1 C304.0,230.9 301.8,234.2 299.3,235.4 C296.8,236.7 292.0,235.4 290.0,233.6 C288.0,231.8 287.5,228.8 287.2,224.3 C286.9,219.8 285.2,209.6 288.1,206.6Z"/>
<path d="M268.6,226.1 C269.9,223.8 273.5,221.8 276.1,221.5 C278.7,221.2 282.7,222.3 284.4,224.3 C286.1,226.3 286.9,230.5 286.3,233.6 C285.7,236.7 282.9,241.3 280.7,242.9 C278.5,244.5 275.3,244.2 273.3,242.9 C271.3,241.7 269.4,238.2 268.6,235.4 C267.8,232.6 267.4,228.4 268.6,226.1Z"/>
<path d="M288.1,236.4 C289.7,234.9 295.8,238.6 297.4,236.4 C298.9,234.2 295.8,225.7 297.4,223.4 C298.9,221.1 303.9,222.0 306.7,222.4 C309.5,222.8 312.9,223.0 314.1,226.1 C315.3,229.2 315.2,238.2 314.1,241.0 C313.0,243.8 309.3,241.3 307.6,242.9 C305.9,244.5 304.2,247.5 303.9,250.3 C303.6,253.1 304.4,257.1 305.8,259.6 C307.2,262.1 310.0,263.2 312.3,265.1 C314.6,267.0 316.9,269.8 319.7,270.7 C322.5,271.6 326.2,271.9 329.0,270.7 C331.8,269.5 334.5,263.3 336.4,263.3 C338.2,263.3 340.7,268.9 340.1,270.7 C339.5,272.5 336.4,273.5 332.7,274.4 C329.0,275.3 321.9,276.6 317.9,276.3 C313.9,276.0 311.7,273.8 308.6,272.6 C305.5,271.4 302.4,270.1 299.3,268.9 C296.2,267.6 289.4,266.4 290.0,265.1 C290.6,263.9 301.4,264.3 303.0,261.4 C304.6,258.5 301.8,250.1 299.3,247.5 C296.8,244.9 290.0,247.4 288.1,245.6 C286.2,243.8 286.6,237.9 288.1,236.4Z"/>
<path d="M271.4,280.0 C272.6,277.2 276.4,274.5 278.9,272.6 C281.4,270.8 281.7,269.4 286.3,268.9 C290.9,268.4 302.1,269.2 306.7,269.8 C311.3,270.4 311.0,271.8 314.1,272.6 C317.2,273.4 324.7,273.2 325.3,274.4 C325.9,275.6 320.4,278.1 317.9,280.0 C315.4,281.9 312.6,283.4 310.4,285.6 C308.2,287.8 306.8,287.5 304.9,293.0 C303.0,298.5 306.1,314.2 299.3,318.4 C292.5,322.6 269.6,322.0 264.0,318.4 C258.4,314.8 264.7,301.5 265.9,296.7 C267.1,291.9 270.5,292.1 271.4,289.3 C272.3,286.5 270.1,282.8 271.4,280.0Z"/>
<path d="M278.9,276.3 C281.1,274.0 284.1,272.5 288.1,271.6 C292.1,270.7 299.9,270.2 303.0,270.7 C306.1,271.2 307.3,272.5 306.7,274.4 C306.1,276.3 301.8,279.7 299.3,281.9 C296.8,284.1 295.0,286.3 291.9,287.4 C288.8,288.5 283.5,288.7 280.7,288.4 C277.9,288.1 275.4,287.6 275.1,285.6 C274.8,283.6 276.7,278.6 278.9,276.3Z"/>
<path d="M271.4,289.3 C273.4,284.1 277.0,287.4 280.7,287.4 C284.4,287.4 291.2,284.1 293.7,289.3 C296.2,294.5 299.8,313.5 295.6,318.4 C291.4,323.2 272.6,323.2 268.6,318.4 C264.6,313.5 269.4,294.5 271.4,289.3Z"/>
<path d="M275.1,293.0 C277.0,288.1 281.6,289.3 284.4,289.3 C287.2,289.3 291.0,288.1 291.9,293.0 C292.8,297.9 293.1,314.2 290.0,318.4 C286.9,322.6 275.8,322.6 273.3,318.4 C270.8,314.2 273.2,297.9 275.1,293.0Z"/>
<path d="M306.7,206.6 C312.0,203.8 338.2,203.6 343.9,206.6 C349.6,209.6 344.2,220.9 341.1,224.3 C338.0,227.7 330.1,227.2 325.3,227.1 C320.5,226.9 315.4,226.8 312.3,223.4 C309.2,220.0 301.4,209.4 306.7,206.6Z"/>
<path d="M310.4,206.6 C314.9,204.3 336.5,204.1 341.1,206.6 C345.8,209.1 340.9,218.6 338.3,221.5 C335.7,224.4 329.3,224.1 325.3,223.9 C321.3,223.8 316.6,223.5 314.1,220.6 C311.6,217.7 305.9,208.9 310.4,206.6Z"/>
<path d="M316.0,206.6 C318.9,204.6 331.8,204.5 334.6,206.6 C337.4,208.7 334.6,216.8 332.7,219.1 C330.8,221.4 326.0,220.3 323.4,220.2 C320.8,220.1 318.1,220.6 316.9,218.3 C315.7,216.0 313.1,208.6 316.0,206.6Z"/>
<path d="M342.0,229.9 C345.1,227.6 359.8,225.3 363.4,228.9 C367.0,232.5 365.7,248.2 363.4,251.4 C361.1,254.7 352.5,249.8 349.4,248.4 C346.3,247.0 346.0,246.0 344.8,242.9 C343.6,239.8 338.9,232.2 342.0,229.9Z"/>
<ellipse cx="345.7" cy="251.2" rx="3.7" ry="2.8" transform="rotate(0.0 345.7 251.2)"/>
<path d="M336.4,293.0 C336.7,290.1 339.4,286.4 343.9,284.6 C348.4,282.8 360.1,276.6 363.4,282.2 C366.6,287.8 366.0,312.4 363.4,318.4 C360.8,324.4 351.2,321.1 347.6,318.4 C344.0,315.7 343.9,306.5 342.0,302.3 C340.1,298.1 336.1,295.9 336.4,293.0Z"/>
<path d="M216.6,272.6 C219.8,264.4 231.3,269.2 236.1,268.9 C240.9,268.6 243.2,269.5 245.4,270.7 C247.6,271.9 245.4,276.3 249.1,276.3 C252.8,276.3 264.0,270.1 267.7,270.7 C271.4,271.3 271.4,276.3 271.4,280.0 C271.4,283.7 269.2,289.6 267.7,293.0 C266.1,296.4 266.1,296.2 262.1,300.4 C258.1,304.6 251.2,315.4 243.6,318.4 C236.0,321.4 221.1,326.0 216.6,318.4 C212.1,310.8 213.3,280.9 216.6,272.6Z"/>
<path d="M247.3,278.1 C248.6,276.6 253.5,274.1 256.6,274.4 C259.7,274.7 264.5,277.8 265.9,280.0 C267.3,282.2 266.8,286.0 264.9,287.4 C263.0,288.8 257.3,289.0 254.7,288.4 C252.1,287.8 250.3,285.4 249.1,283.7 C247.9,282.0 246.1,279.7 247.3,278.1Z"/>
<path d="M216.6,274.8 C219.6,271.3 230.5,274.5 234.3,276.3 C238.2,278.1 239.4,282.5 239.7,285.6 C240.0,288.7 239.9,293.0 236.1,294.9 C232.2,296.8 219.8,300.5 216.6,297.1 C213.3,293.8 213.6,278.3 216.6,274.8Z"/>
<path d="M225.9,297.6 C227.6,293.8 233.9,292.3 236.1,295.8 C238.3,299.3 240.6,314.6 238.9,318.4 C237.2,322.2 228.1,321.9 225.9,318.4 C223.7,314.9 224.2,301.4 225.9,297.6Z"/>
<path d="M227.8,299.5 C229.0,296.0 233.2,294.5 234.7,297.6 C236.1,300.8 237.7,314.9 236.5,318.4 C235.3,321.9 229.2,321.5 227.8,318.4 C226.4,315.2 226.7,303.0 227.8,299.5Z"/>
<path d="M316.0,293.0 C317.6,288.1 322.2,289.0 325.3,289.3 C328.4,289.6 332.8,290.0 334.6,294.9 C336.5,299.8 339.5,314.5 336.4,318.4 C333.3,322.3 319.4,322.6 316.0,318.4 C312.6,314.2 314.4,297.9 316.0,293.0Z"/>
<path d="M317.9,296.7 C319.1,292.5 323.1,292.7 325.3,293.0 C327.5,293.3 330.0,294.4 330.9,298.6 C331.8,302.8 333.1,315.1 330.9,318.4 C328.7,321.7 320.1,322.0 317.9,318.4 C315.7,314.8 316.7,300.9 317.9,296.7Z"/>
<ellipse cx="241.7" cy="241.0" rx="3.3" ry="2.8" transform="rotate(0.0 241.7 241.0)"/>
<ellipse cx="249.1" cy="249.9" rx="4.6" ry="5.2" transform="rotate(0.0 249.1 249.9)"/>
<path d="M238.0,263.3 C238.6,261.8 242.3,260.4 245.4,259.6 C248.5,258.8 254.4,257.7 256.6,258.6 C258.8,259.5 259.3,263.2 258.4,265.1 C257.5,267.0 253.8,269.2 251.0,269.8 C248.2,270.4 243.9,270.0 241.7,268.9 C239.5,267.8 237.4,264.9 238.0,263.3Z"/>
<path d="M227.8,254.9 C228.7,253.2 233.5,251.2 236.1,251.2 C238.7,251.2 243.0,253.5 243.6,254.9 C244.2,256.3 242.1,258.5 239.9,259.6 C237.7,260.7 232.6,262.2 230.6,261.4 C228.6,260.6 226.9,256.6 227.8,254.9Z"/>
<path d="M216.6,231.3 C219.4,229.6 230.9,229.8 233.4,231.3 C235.9,232.8 234.3,238.4 231.5,240.1 C228.7,241.8 219.1,242.9 216.6,241.4 C214.1,239.9 213.8,233.0 216.6,231.3Z"/></g>
<g clip-path="url(#t5)"><path d="M375.4,231.7 C378.5,230.2 388.4,229.6 392.1,229.9 C395.8,230.2 396.1,231.8 397.7,233.6 C399.2,235.4 402.3,238.8 401.4,241.0 C400.5,243.2 395.2,246.0 392.1,246.6 C389.0,247.2 385.1,244.1 382.9,244.7 C380.7,245.3 380.8,249.7 379.1,250.3 C377.4,250.9 373.5,250.3 372.6,248.4 C371.7,246.5 373.1,241.9 373.6,239.1 C374.1,236.3 372.3,233.2 375.4,231.7Z"/>
<path d="M388.4,206.6 C390.3,204.0 397.4,203.6 399.6,206.6 C401.8,209.6 402.3,220.7 401.4,224.3 C400.5,227.9 396.2,228.3 394.0,228.0 C391.8,227.7 389.3,226.0 388.4,222.4 C387.5,218.8 386.5,209.2 388.4,206.6Z"/>
<path d="M399.6,228.0 C400.5,226.1 407.0,225.9 408.9,226.1 C410.8,226.2 406.1,227.8 410.7,228.9 C415.3,230.0 432.4,233.4 436.7,232.6 C441.0,231.8 435.5,226.8 436.7,224.3 C437.9,221.8 441.6,218.1 444.1,217.8 C446.6,217.5 449.9,219.2 451.6,222.4 C453.3,225.7 454.9,233.9 454.4,237.3 C453.9,240.7 449.6,240.1 448.8,242.9 C448.0,245.7 447.1,251.5 449.7,254.0 C452.3,256.5 462.0,254.3 464.6,257.7 C467.2,261.1 468.0,271.6 465.5,274.4 C463.0,277.2 453.3,273.5 449.7,274.4 C446.1,275.3 448.1,278.8 444.1,280.0 C440.1,281.2 431.2,280.8 425.6,281.9 C420.0,283.0 414.7,286.2 410.7,286.5 C406.7,286.8 403.4,286.0 401.4,283.7 C399.4,281.4 398.6,276.3 398.6,272.6 C398.6,268.9 400.9,264.8 401.4,261.4 C401.9,258.0 400.5,254.3 401.4,252.1 C402.3,249.9 406.7,250.9 407.0,248.4 C407.3,245.9 404.5,240.7 403.3,237.3 C402.1,233.9 398.7,229.9 399.6,228.0Z"/>
<path d="M405.1,233.6 C407.0,232.2 412.6,231.1 416.3,230.8 C420.0,230.5 424.6,230.9 427.4,231.7 C430.2,232.5 432.7,233.5 433.0,235.4 C433.3,237.3 431.8,241.0 429.3,242.9 C426.8,244.8 421.2,246.3 418.1,246.6 C415.0,246.9 412.9,245.9 410.7,244.7 C408.5,243.4 406.0,240.9 405.1,239.1 C404.2,237.2 403.2,235.0 405.1,233.6Z"/>
<path d="M408.9,235.4 C409.8,234.0 413.5,233.8 416.3,233.6 C419.1,233.4 423.8,233.7 425.6,234.5 C427.5,235.3 428.6,236.8 427.4,238.2 C426.1,239.6 420.9,242.3 418.1,242.9 C415.3,243.5 412.2,243.2 410.7,241.9 C409.2,240.7 408.0,236.8 408.9,235.4Z"/>
<path d="M412.6,259.6 C413.7,257.3 417.2,255.4 420.0,254.9 C422.8,254.4 427.4,255.1 429.3,256.8 C431.2,258.5 431.7,262.8 431.1,265.1 C430.5,267.4 427.8,269.3 425.6,270.7 C423.4,272.1 420.1,273.8 418.1,273.5 C416.1,273.2 414.4,271.2 413.5,268.9 C412.6,266.6 411.5,261.9 412.6,259.6Z"/>
<path d="M449.7,242.9 C450.6,240.7 453.1,239.1 455.3,239.1 C457.5,239.1 461.3,240.4 462.7,242.9 C464.1,245.4 464.8,251.7 463.6,254.0 C462.4,256.3 457.6,257.1 455.3,256.8 C453.0,256.5 450.6,254.4 449.7,252.1 C448.8,249.8 448.8,245.1 449.7,242.9Z"/>
<path d="M459.0,220.6 C459.9,218.1 465.2,216.8 466.4,218.7 C467.6,220.5 467.3,229.2 466.4,231.7 C465.5,234.2 462.1,235.4 460.9,233.6 C459.7,231.8 458.1,223.1 459.0,220.6Z"/>
<path d="M403.3,290.8 C404.9,288.9 408.3,290.1 412.6,288.9 C416.9,287.6 424.1,285.0 429.3,283.3 C434.6,281.6 440.6,279.4 444.1,278.7 C447.7,278.0 450.9,277.1 450.6,279.1 C450.3,281.1 444.9,287.3 442.3,290.8 C439.7,294.3 436.8,295.5 434.9,300.1 C433.0,304.7 437.8,315.3 431.1,318.4 C424.4,321.4 400.1,319.9 394.9,318.4 C389.6,316.9 398.3,312.4 399.6,309.3 C400.9,306.2 402.3,303.2 402.9,300.1 C403.5,297.0 401.7,292.7 403.3,290.8Z"/>
<path d="M403.7,318.4 C401.4,316.6 404.9,310.1 406.1,307.9 C407.3,305.7 408.9,305.4 410.7,305.4 C412.5,305.4 415.6,305.7 417.2,307.9 C418.8,310.1 422.2,316.6 420.0,318.4 C417.8,320.1 406.0,320.1 403.7,318.4Z"/>
<ellipse cx="441.4" cy="249.0" rx="2.8" ry="2.6" transform="rotate(0.0 441.4 249.0)"/>
<path d="M437.6,256.8 C438.4,255.6 442.7,255.1 444.1,255.9 C445.5,256.7 446.8,260.2 446.0,261.4 C445.2,262.6 440.9,264.1 439.5,263.3 C438.1,262.5 436.8,258.0 437.6,256.8Z"/>
<path d="M453.4,270.7 C454.5,269.9 459.5,269.2 460.9,269.8 C462.3,270.4 462.9,273.6 461.8,274.4 C460.7,275.2 455.8,275.4 454.4,274.8 C453.0,274.2 452.3,271.5 453.4,270.7Z"/>
<path d="M346.6,206.6 C350.8,192.2 366.9,204.0 371.7,206.6 C376.5,209.2 375.2,217.9 375.4,222.4 C375.5,226.9 373.4,229.6 372.6,233.6 C371.8,237.6 370.8,242.6 370.8,246.6 C370.8,250.6 372.6,254.3 372.6,257.7 C372.6,261.1 371.9,263.6 370.8,267.0 C369.7,270.4 370.1,273.8 366.1,278.1 C362.1,282.4 349.9,304.9 346.6,293.0 C343.4,281.1 342.4,221.0 346.6,206.6Z"/>
<path d="M346.6,206.6 C350.2,192.8 364.0,204.0 368.0,206.6 C372.0,209.2 370.6,217.9 370.8,222.4 C371.1,226.9 370.0,229.9 369.5,233.6 C369.0,237.3 368.2,241.0 368.0,244.7 C367.8,248.4 368.7,251.9 368.4,255.9 C368.1,259.9 367.4,264.9 366.1,268.9 C364.8,272.9 363.9,276.6 360.6,280.0 C357.4,283.4 348.9,301.5 346.6,289.3 C344.3,277.1 343.0,220.4 346.6,206.6Z"/>
<path d="M346.6,215.9 C349.7,213.5 361.9,215.1 365.2,216.5 C368.4,217.9 366.6,222.1 366.1,224.3 C365.6,226.5 365.6,228.8 362.4,229.9 C359.1,231.0 349.2,233.1 346.6,230.8 C344.0,228.5 343.5,218.3 346.6,215.9Z"/>
<path d="M346.6,251.4 C348.7,248.2 356.8,256.5 358.9,259.4 C361.0,262.3 359.7,265.8 359.5,268.7 C359.3,271.6 359.9,275.1 357.8,276.7 C355.7,278.3 348.5,282.5 346.6,278.3 C344.7,274.1 344.6,254.6 346.6,251.4Z"/>
<path d="M346.6,283.7 C349.2,277.0 357.9,278.1 362.4,278.1 C366.9,278.1 369.9,283.7 373.6,283.7 C377.3,283.7 382.2,280.6 384.7,278.1 C387.2,275.6 386.7,270.1 388.4,268.9 C390.1,267.7 393.3,268.5 394.9,270.7 C396.4,272.9 398.2,278.2 397.7,281.9 C397.2,285.6 394.0,289.9 392.1,293.0 C390.2,296.1 389.7,296.2 386.6,300.4 C383.5,304.6 380.3,315.4 373.6,318.4 C366.9,321.4 351.1,324.2 346.6,318.4 C342.1,312.6 344.0,290.4 346.6,283.7Z"/>
<path d="M346.6,282.2 C348.5,276.2 354.2,281.0 357.8,282.2 C361.4,283.4 364.4,287.8 368.0,289.1 C371.6,290.4 376.4,289.2 379.3,290.2 C382.2,291.2 384.7,293.3 385.1,294.9 C385.5,296.4 383.6,298.4 381.7,299.5 C379.8,300.6 376.4,300.8 373.8,301.7 C371.2,302.6 367.7,302.3 365.8,305.1 C363.9,307.9 365.6,316.2 362.4,318.4 C359.2,320.6 349.2,324.4 346.6,318.4 C344.0,312.4 344.7,288.2 346.6,282.2Z"/>
<path d="M368.0,290.2 C368.6,288.6 372.6,287.2 374.9,287.4 C377.2,287.6 380.2,289.9 381.7,291.3 C383.2,292.7 384.4,294.6 384.0,296.0 C383.6,297.4 381.4,299.3 379.3,299.5 C377.2,299.7 373.2,298.7 371.3,297.1 C369.4,295.6 367.4,291.8 368.0,290.2Z"/>
<path d="M368.0,298.6 C368.9,297.4 372.1,296.2 373.6,296.7 C375.2,297.2 377.6,299.8 377.3,301.4 C377.0,302.9 373.2,305.6 371.7,306.0 C370.1,306.4 368.6,305.3 368.0,304.1 C367.4,302.9 367.1,299.8 368.0,298.6Z"/>
<ellipse cx="389.0" cy="282.8" rx="2.6" ry="2.6" transform="rotate(0.0 389.0 282.8)"/>
<ellipse cx="385.1" cy="251.8" rx="2.8" ry="2.8" transform="rotate(0.0 385.1 251.8)"/></g>
<g clip-path="url(#t6)"><path d="M193.4,315.6 C194.3,313.8 201.2,311.6 204.6,311.9 C208.0,312.2 212.1,315.2 213.9,317.4 C215.8,319.6 216.9,323.0 215.7,324.9 C214.4,326.8 209.2,328.9 206.4,328.6 C203.6,328.3 201.2,325.2 199.0,323.0 C196.8,320.8 192.5,317.5 193.4,315.6Z"/>
<path d="M179.5,301.6 C182.3,299.4 196.2,299.3 199.0,301.6 C201.8,303.9 198.0,312.8 196.2,315.6 C194.3,318.4 190.2,318.6 187.9,318.4 C185.6,318.2 183.7,317.4 182.3,314.6 C180.9,311.8 176.7,303.8 179.5,301.6Z"/>
<path d="M217.6,301.6 C219.9,299.1 230.8,299.0 233.4,301.6 C236.0,304.2 235.7,314.9 233.4,317.4 C231.1,319.9 222.0,319.1 219.4,316.5 C216.8,313.9 215.3,304.1 217.6,301.6Z"/>
<path d="M200.9,328.6 C202.3,327.5 207.9,327.3 210.1,327.6 C212.3,327.9 214.5,329.0 213.9,330.4 C213.3,331.8 208.4,335.4 206.4,336.0 C204.4,336.6 202.7,335.3 201.8,334.1 C200.9,332.9 199.5,329.7 200.9,328.6Z"/>
<path d="M200.9,345.3 C201.8,344.2 206.9,343.8 208.3,344.4 C209.7,345.0 210.1,347.9 209.2,349.0 C208.3,350.1 204.1,351.5 202.7,350.9 C201.3,350.3 200.0,346.4 200.9,345.3Z"/>
<path d="M199.0,358.3 C201.6,354.6 210.2,352.7 213.9,352.7 C217.6,352.7 218.1,355.8 221.3,358.3 C224.6,360.8 231.4,363.3 233.4,367.6 C235.4,371.9 236.0,381.5 233.4,384.3 C230.8,387.1 220.8,382.5 217.6,384.3 C214.3,386.1 217.0,393.2 213.9,395.4 C210.8,397.6 201.6,400.7 199.0,397.3 C196.4,393.9 198.1,381.5 198.1,375.0 C198.1,368.5 196.4,362.0 199.0,358.3Z"/>
<path d="M202.7,362.0 C203.5,359.8 207.6,358.6 210.1,358.3 C212.6,358.0 216.0,358.6 217.6,360.1 C219.2,361.7 220.0,365.7 219.4,367.6 C218.8,369.5 216.2,370.7 213.9,371.3 C211.6,371.9 207.4,372.9 205.5,371.3 C203.6,369.8 201.9,364.2 202.7,362.0Z"/>
<path d="M199.0,376.9 C200.4,374.3 204.2,375.0 206.4,375.9 C208.6,376.8 210.8,380.1 212.0,382.4 C213.2,384.7 214.8,387.9 213.9,389.9 C213.0,391.9 209.0,394.2 206.4,394.5 C203.8,394.8 199.3,394.6 198.1,391.7 C196.9,388.8 197.6,379.5 199.0,376.9Z"/>
<path d="M214.8,391.7 C215.4,390.0 216.3,385.2 219.4,385.2 C222.5,385.2 232.8,389.9 233.4,391.7 C234.0,393.5 226.1,395.2 223.1,395.8 C220.1,396.4 217.1,396.1 215.7,395.4 C214.3,394.7 214.2,393.4 214.8,391.7Z"/>
<path d="M219.4,369.4 C221.4,368.2 231.1,366.7 233.4,367.6 C235.7,368.5 235.4,373.8 233.4,375.0 C231.4,376.2 223.6,375.9 221.3,375.0 C219.0,374.1 217.4,370.6 219.4,369.4Z"/></g>
<g clip-path="url(#t7)"><path d="M216.6,301.6 C222.7,290.9 247.5,298.4 252.9,301.6 C258.3,304.9 250.7,316.3 249.1,321.1 C247.5,325.9 245.8,327.6 243.6,330.4 C241.4,333.2 238.0,335.1 236.1,337.9 C234.2,340.7 233.6,343.1 232.4,347.1 C231.2,351.1 231.3,358.9 228.7,362.0 C226.1,365.1 218.6,375.8 216.6,365.7 C214.6,355.6 210.5,312.3 216.6,301.6Z"/>
<path d="M216.6,301.6 C220.5,294.0 236.3,298.7 239.9,301.6 C243.5,304.6 239.2,314.8 238.0,319.3 C236.8,323.8 234.0,324.6 232.4,328.6 C230.8,332.6 231.3,340.3 228.7,343.4 C226.1,346.5 218.6,354.1 216.6,347.1 C214.6,340.1 212.7,309.2 216.6,301.6Z"/>
<path d="M216.6,301.6 C219.8,299.6 233.0,299.5 236.1,301.6 C239.2,303.8 238.4,312.5 235.2,314.5 C231.9,316.5 219.7,315.8 216.6,313.7 C213.5,311.6 213.3,303.6 216.6,301.6Z"/>
<ellipse cx="227.8" cy="357.4" rx="3.3" ry="3.7" transform="rotate(0.0 227.8 357.4)"/>
<path d="M264.9,301.6 C281.3,297.4 347.0,283.0 363.4,301.6 C379.8,320.2 377.5,394.8 363.4,413.4 C349.3,432.0 292.7,417.3 278.9,413.4 C265.1,409.5 281.3,396.0 280.7,389.9 C280.1,383.8 277.9,379.7 275.1,376.9 C272.3,374.1 267.7,374.0 264.0,373.1 C260.3,372.2 256.3,371.3 252.9,371.3 C249.5,371.3 245.5,373.7 243.6,373.1 C241.7,372.5 241.1,369.8 241.7,367.6 C242.3,365.4 244.8,362.6 247.3,360.1 C249.8,357.6 255.4,355.2 256.6,352.7 C257.8,350.2 253.8,348.1 254.7,345.3 C255.6,342.5 260.4,339.1 262.1,336.0 C263.8,332.9 264.4,332.4 264.9,326.7 C265.4,321.0 248.5,305.8 264.9,301.6Z"/>
<path d="M306.7,317.4 C307.9,313.2 308.4,304.2 317.9,301.6 C327.3,299.0 355.8,297.4 363.4,301.6 C371.0,305.8 366.6,321.3 363.4,326.7 C360.1,332.1 348.4,332.2 343.9,334.1 C339.4,336.0 339.5,337.6 336.4,337.9 C333.3,338.2 328.4,337.6 325.3,336.0 C322.2,334.4 320.4,330.2 317.9,328.6 C315.4,327.1 312.3,328.6 310.4,326.7 C308.5,324.8 305.4,321.6 306.7,317.4Z"/>
<path d="M317.9,301.6 C320.5,299.1 332.1,298.7 334.6,301.6 C337.1,304.6 334.2,316.1 332.7,319.3 C331.1,322.6 327.6,321.6 325.3,321.1 C323.0,320.6 320.0,319.8 318.8,316.5 C317.6,313.2 315.3,304.1 317.9,301.6Z"/>
<path d="M345.7,313.7 C348.3,312.2 360.4,310.7 363.4,311.9 C366.3,313.1 366.0,319.6 363.4,321.1 C360.8,322.6 350.6,322.3 347.6,321.1 C344.7,319.9 343.1,315.2 345.7,313.7Z"/>
<path d="M321.6,310.9 C322.8,309.6 330.4,309.8 331.8,310.9 C333.2,312.0 331.1,316.1 329.9,317.4 C328.7,318.6 325.8,319.5 324.4,318.4 C323.0,317.3 320.4,312.1 321.6,310.9Z"/>
<path d="M303.9,330.4 C304.8,328.7 308.4,327.7 310.4,328.6 C312.4,329.5 315.7,334.0 316.0,336.0 C316.3,338.0 314.2,340.1 312.3,340.6 C310.4,341.1 306.3,340.5 304.9,338.8 C303.5,337.1 303.0,332.1 303.9,330.4Z"/>
<path d="M325.3,337.9 C327.5,336.7 333.9,338.2 336.4,339.7 C338.9,341.2 340.1,344.6 340.1,347.1 C340.1,349.6 336.7,351.8 336.4,354.6 C336.1,357.4 337.1,361.4 338.3,363.9 C339.6,366.4 344.2,368.2 343.9,369.4 C343.6,370.6 338.6,371.9 336.4,371.3 C334.2,370.7 332.1,368.2 330.9,365.7 C329.7,363.2 330.2,359.5 329.0,356.4 C327.8,353.3 324.0,350.2 323.4,347.1 C322.8,344.0 323.1,339.1 325.3,337.9Z"/>
<path d="M329.0,347.1 C329.6,345.1 333.4,344.6 334.6,346.2 C335.8,347.8 335.8,353.4 336.4,356.4 C337.0,359.3 338.6,362.3 338.3,363.9 C338.0,365.4 335.8,366.6 334.6,365.7 C333.4,364.8 331.8,361.4 330.9,358.3 C330.0,355.2 328.4,349.1 329.0,347.1Z"/>
<path d="M336.4,372.2 C337.0,370.5 342.3,370.4 343.9,371.3 C345.4,372.2 346.3,376.1 345.7,377.8 C345.1,379.5 341.7,382.4 340.1,381.5 C338.6,380.6 335.8,373.9 336.4,372.2Z"/>
<path d="M325.3,375.0 C327.2,373.9 332.4,374.3 334.6,375.9 C336.8,377.4 338.3,381.7 338.3,384.3 C338.3,386.9 336.5,390.8 334.6,391.7 C332.7,392.6 329.0,391.4 327.1,389.9 C325.2,388.3 323.7,384.9 323.4,382.4 C323.1,379.9 323.4,376.1 325.3,375.0Z"/>
<path d="M271.4,301.6 C276.7,297.9 298.1,298.0 303.0,301.6 C307.9,305.2 303.9,319.1 301.1,323.0 C298.3,326.9 289.7,324.4 286.3,324.9 C282.9,325.4 283.2,326.0 280.7,325.8 C278.2,325.6 272.9,327.9 271.4,323.9 C269.8,319.9 266.1,305.3 271.4,301.6Z"/>
<path d="M264.9,328.6 C267.2,327.4 277.4,325.1 280.7,326.7 C283.9,328.2 281.9,335.1 284.4,337.9 C286.9,340.7 292.5,340.9 295.6,343.4 C298.7,345.9 300.2,350.8 303.0,352.7 C305.8,354.6 311.1,353.4 312.3,354.6 C313.5,355.8 312.6,359.5 310.4,360.1 C308.2,360.7 303.0,358.0 299.3,358.3 C295.6,358.6 291.2,360.8 288.1,362.0 C285.0,363.2 283.5,365.1 280.7,365.7 C277.9,366.3 274.2,365.4 271.4,365.7 C268.6,366.0 266.5,368.2 264.0,367.6 C261.5,367.0 258.0,364.2 256.6,362.0 C255.2,359.8 254.7,356.5 255.6,354.6 C256.5,352.8 260.1,352.8 262.1,350.9 C264.1,349.0 266.9,346.2 267.7,343.4 C268.5,340.6 267.3,336.6 266.8,334.1 C266.3,331.6 262.6,329.8 264.9,328.6Z"/>
<path d="M280.7,364.8 C281.1,363.1 284.4,362.1 288.1,361.1 C291.8,360.1 299.0,359.5 303.0,358.7 C307.0,357.9 310.8,355.2 312.3,356.4 C313.9,357.6 313.1,362.9 312.3,365.7 C311.5,368.5 309.2,370.5 307.6,373.1 C306.1,375.7 305.9,380.3 303.0,381.5 C300.1,382.7 292.9,381.9 290.0,380.2 C287.1,378.5 286.9,373.9 285.4,371.3 C283.8,368.7 280.2,366.5 280.7,364.8Z"/>
<path d="M296.5,369.1 C297.7,367.7 305.0,365.9 306.7,366.6 C308.4,367.3 307.9,371.7 306.7,373.1 C305.5,374.5 301.0,375.7 299.3,375.0 C297.6,374.3 295.3,370.5 296.5,369.1Z"/>
<ellipse cx="308.0" cy="363.9" rx="1.9" ry="2.8" transform="rotate(0.0 308.0 363.9)"/>
<path d="M274.2,374.1 C275.1,371.6 279.0,367.8 280.7,367.6 C282.4,367.4 283.0,370.8 284.4,373.1 C285.8,375.4 289.7,379.3 289.1,381.5 C288.5,383.7 283.0,386.0 280.7,386.1 C278.4,386.2 276.2,384.4 275.1,382.4 C274.0,380.4 273.3,376.6 274.2,374.1Z"/>
<path d="M314.1,349.0 C316.3,347.1 322.5,345.9 325.3,347.1 C328.1,348.3 330.3,353.3 330.9,356.4 C331.5,359.5 330.6,363.2 329.0,365.7 C327.4,368.2 324.1,371.0 321.6,371.3 C319.1,371.6 315.7,369.8 314.1,367.6 C312.6,365.4 312.3,361.4 312.3,358.3 C312.3,355.2 311.9,350.9 314.1,349.0Z"/>
<path d="M318.8,356.4 C320.2,355.0 324.8,354.2 326.2,355.5 C327.6,356.8 327.9,361.9 327.1,363.9 C326.3,365.9 323.1,367.6 321.6,367.6 C320.1,367.6 318.4,365.8 317.9,363.9 C317.4,362.0 317.4,357.8 318.8,356.4Z"/>
<path d="M343.9,330.4 C347.8,327.6 360.1,321.1 363.4,326.7 C366.6,332.3 366.0,358.0 363.4,363.9 C360.8,369.8 350.9,363.9 347.6,362.0 C344.4,360.1 345.1,355.8 343.9,352.7 C342.6,349.6 340.1,347.1 340.1,343.4 C340.1,339.7 340.0,333.2 343.9,330.4Z"/>
<path d="M343.9,334.1 C347.3,331.7 360.1,324.1 363.4,330.8 C366.6,337.5 365.9,367.2 363.4,374.1 C360.9,381.0 351.6,374.8 348.5,372.2 C345.4,369.6 345.7,362.8 344.8,358.3 C343.9,353.8 343.0,349.3 342.9,345.3 C342.8,341.3 340.5,336.5 343.9,334.1Z"/>
<path d="M347.6,336.0 C350.1,334.2 360.8,331.1 363.4,334.5 C366.0,337.9 365.4,353.0 363.4,356.4 C361.4,359.8 353.8,356.5 351.3,354.6 C348.8,352.8 349.1,348.4 348.5,345.3 C347.9,342.2 345.1,337.8 347.6,336.0Z"/>
<path d="M304.9,375.0 C308.6,371.9 319.7,370.4 323.4,371.3 C327.1,372.2 327.4,377.5 327.1,380.6 C326.8,383.7 324.1,388.0 321.6,389.9 C319.1,391.8 313.6,387.8 312.3,391.7 C311.1,395.6 315.7,409.8 314.1,413.4 C312.6,417.0 305.2,417.3 303.0,413.4 C300.8,409.5 300.8,396.3 301.1,389.9 C301.4,383.5 301.2,378.1 304.9,375.0Z"/>
<path d="M314.1,379.6 C315.0,378.4 320.2,377.9 321.6,378.7 C323.0,379.5 323.4,383.1 322.5,384.3 C321.6,385.5 317.4,386.9 316.0,386.1 C314.6,385.3 313.2,380.8 314.1,379.6Z"/>
<path d="M288.1,388.0 C289.3,386.1 296.8,383.7 299.3,384.3 C301.8,384.9 303.0,389.5 303.0,391.7 C303.0,393.9 301.2,396.7 299.3,397.3 C297.4,397.9 293.8,396.9 291.9,395.4 C290.0,393.8 286.9,389.9 288.1,388.0Z"/>
<path d="M294.6,388.9 C295.5,388.1 300.0,387.4 301.1,388.0 C302.2,388.6 302.0,391.8 301.1,392.6 C300.2,393.4 296.7,393.2 295.6,392.6 C294.5,392.0 293.7,389.7 294.6,388.9Z"/>
<path d="M288.1,371.3 C292.1,367.0 308.0,367.0 312.3,371.3 C316.6,375.6 318.1,393.0 314.1,397.3 C310.1,401.6 292.4,401.6 288.1,397.3 C283.8,393.0 284.1,375.6 288.1,371.3Z"/>
<path d="M288.1,413.4 C280.2,409.8 288.1,396.3 290.0,392.1 C291.9,387.9 296.2,388.4 299.3,388.4 C302.4,388.4 306.1,390.9 308.6,392.1 C311.1,393.3 310.4,395.1 314.1,395.8 C317.8,396.5 327.0,393.5 330.9,396.4 C334.8,399.3 344.5,410.6 337.4,413.4 C330.3,416.2 296.0,416.9 288.1,413.4Z"/>
<path d="M300.2,413.4 C295.5,411.1 303.8,402.1 306.7,399.5 C309.6,396.9 314.2,398.0 317.9,398.0 C321.6,398.0 326.2,396.9 329.0,399.5 C331.8,402.1 339.4,411.1 334.6,413.4 C329.8,415.7 304.9,415.7 300.2,413.4Z"/>
<path d="M340.1,388.0 C341.0,386.8 346.1,385.5 347.6,386.1 C349.2,386.7 350.3,390.4 349.4,391.7 C348.5,392.9 343.6,394.2 342.0,393.6 C340.4,393.0 339.2,389.2 340.1,388.0Z"/>
<path d="M351.3,371.3 C353.3,369.5 361.4,369.5 363.4,371.3 C365.4,373.1 365.4,380.5 363.4,382.4 C361.4,384.2 353.3,384.2 351.3,382.4 C349.3,380.5 349.3,373.1 351.3,371.3Z"/>
<path d="M272.4,301.6 C274.2,297.7 282.2,297.9 284.4,301.6 C286.6,305.3 287.2,320.0 285.4,323.9 C283.5,327.8 275.5,328.6 273.3,324.9 C271.1,321.2 270.5,305.5 272.4,301.6Z"/>
<path d="M269.6,330.4 C270.9,328.2 276.7,327.1 278.9,328.6 C281.1,330.2 281.4,337.1 282.6,339.7 C283.8,342.3 286.9,343.3 286.3,344.4 C285.7,345.5 281.4,346.7 278.9,346.2 C276.4,345.7 272.9,344.2 271.4,341.6 C269.8,339.0 268.4,332.6 269.6,330.4Z"/>
<path d="M282.6,330.4 C283.7,329.5 287.5,330.8 290.0,332.3 C292.5,333.9 294.9,337.2 297.4,339.7 C299.9,342.2 302.7,345.4 304.9,347.1 C307.1,348.8 309.5,348.5 310.4,349.9 C311.3,351.3 311.6,354.7 310.4,355.5 C309.2,356.3 305.5,355.5 303.0,354.6 C300.5,353.7 298.1,351.8 295.6,349.9 C293.1,348.0 290.1,345.4 288.1,343.4 C286.1,341.4 284.4,340.1 283.5,337.9 C282.6,335.7 281.5,331.3 282.6,330.4Z"/>
<path d="M260.3,362.9 C260.8,362.0 263.8,361.4 264.9,362.0 C266.0,362.6 267.3,365.7 266.8,366.6 C266.3,367.5 263.2,368.2 262.1,367.6 C261.0,367.0 259.8,363.8 260.3,362.9Z"/>
<path d="M216.6,384.3 C219.8,378.5 231.0,380.6 236.1,378.7 C241.2,376.8 243.6,374.3 247.3,373.1 C251.0,371.9 254.7,370.7 258.4,371.3 C262.1,371.9 266.2,374.4 269.6,376.9 C273.0,379.4 277.0,382.7 278.9,386.1 C280.8,389.5 280.7,392.8 280.7,397.3 C280.7,401.9 289.6,410.7 278.9,413.4 C268.2,416.1 227.0,418.2 216.6,413.4 C206.2,408.5 213.3,390.1 216.6,384.3Z"/>
<path d="M228.7,388.0 C230.2,382.7 236.2,383.4 239.9,381.5 C243.6,379.6 247.3,377.4 251.0,376.9 C254.7,376.4 258.7,377.5 262.1,378.7 C265.5,379.9 268.9,381.8 271.4,384.3 C273.9,386.8 276.4,388.8 277.0,393.6 C277.6,398.5 282.8,410.1 275.1,413.4 C267.4,416.7 238.3,417.6 230.6,413.4 C222.9,409.2 227.1,393.3 228.7,388.0Z"/>
<path d="M234.3,391.7 C235.6,387.0 240.2,386.9 243.6,385.2 C247.0,383.5 251.3,381.6 254.7,381.5 C258.1,381.4 261.2,382.6 264.0,384.3 C266.8,386.0 270.2,388.9 271.4,391.7 C272.6,394.5 272.0,397.4 271.4,401.0 C270.8,404.6 273.6,411.3 267.7,413.4 C261.8,415.5 241.7,417.0 236.1,413.4 C230.5,409.8 233.1,396.4 234.3,391.7Z"/>
<path d="M243.6,393.6 C244.5,391.3 246.9,389.5 249.1,388.9 C251.3,388.3 254.4,388.8 256.6,389.9 C258.8,391.0 261.5,393.2 262.1,395.4 C262.7,397.6 261.8,399.9 260.3,402.9 C258.8,405.9 255.7,413.4 252.9,413.4 C250.1,413.4 245.2,406.2 243.6,402.9 C242.0,399.6 242.7,395.9 243.6,393.6Z"/></g>
<g clip-path="url(#t8)"><path d="M346.6,301.6 C353.6,296.2 381.7,298.7 388.4,301.6 C395.1,304.6 387.8,314.8 386.6,319.3 C385.4,323.8 384.4,326.1 381.0,328.6 C377.6,331.1 371.8,333.2 366.1,334.1 C360.4,335.0 349.9,339.5 346.6,334.1 C343.4,328.7 339.6,307.0 346.6,301.6Z"/>
<path d="M346.6,301.6 C352.7,296.8 377.8,298.7 382.9,301.6 C388.0,304.6 380.1,315.1 377.3,319.3 C374.5,323.5 371.2,324.9 366.1,326.7 C361.0,328.5 349.9,334.6 346.6,330.4 C343.4,326.2 340.6,306.4 346.6,301.6Z"/>
<path d="M346.6,301.6 C351.1,297.4 370.0,298.7 373.6,301.6 C377.2,304.6 370.2,315.4 368.0,319.3 C365.8,323.2 364.2,323.7 360.6,324.9 C357.0,326.1 348.9,330.6 346.6,326.7 C344.3,322.8 342.1,305.8 346.6,301.6Z"/>
<path d="M346.6,311.9 C348.6,310.0 356.5,312.2 358.7,313.7 C360.9,315.2 361.6,319.2 359.6,321.1 C357.6,323.0 348.8,326.4 346.6,324.9 C344.4,323.4 344.6,313.8 346.6,311.9Z"/>
<path d="M394.0,321.1 C395.1,318.3 400.5,316.9 401.4,313.7 C402.3,310.4 395.6,303.6 399.6,301.6 C403.6,299.6 421.6,298.4 425.6,301.6 C429.6,304.9 424.9,316.6 423.7,321.1 C422.4,325.6 420.3,326.4 418.1,328.6 C415.9,330.8 412.6,332.2 410.7,334.1 C408.8,336.0 408.9,339.1 407.0,339.7 C405.1,340.3 401.6,339.4 399.6,337.9 C397.6,336.3 395.8,333.2 394.9,330.4 C394.0,327.6 392.9,323.9 394.0,321.1Z"/>
<path d="M403.7,301.6 C406.6,299.1 416.8,299.4 420.0,301.6 C423.2,303.8 422.8,311.1 422.8,314.8 C422.8,318.6 421.7,321.9 420.0,324.1 C418.3,326.3 415.1,327.8 412.6,327.8 C410.1,327.8 406.8,326.0 405.1,324.1 C403.4,322.2 402.6,320.4 402.4,316.7 C402.2,312.9 400.8,304.1 403.7,301.6Z"/>
<ellipse cx="414.1" cy="316.7" rx="3.7" ry="3.3" transform="rotate(0.0 414.1 316.7)"/>
<path d="M429.3,326.7 C430.4,324.8 434.1,323.6 436.7,323.0 C439.3,322.4 443.2,321.1 445.1,323.0 C447.0,324.9 446.7,331.2 447.9,334.1 C449.1,337.0 452.2,338.4 452.5,340.6 C452.8,342.8 451.4,345.1 449.7,347.1 C448.0,349.1 444.8,351.9 442.3,352.7 C439.8,353.5 436.8,353.4 434.9,351.8 C433.0,350.2 431.9,346.3 431.1,343.4 C430.3,340.4 430.5,336.9 430.2,334.1 C429.9,331.3 428.2,328.6 429.3,326.7Z"/>
<path d="M433.9,328.6 C435.1,327.1 438.4,324.9 440.4,324.9 C442.4,324.9 445.1,326.4 446.0,328.6 C446.9,330.8 446.9,335.7 446.0,337.9 C445.1,340.1 441.9,340.2 440.4,341.6 C438.8,343.0 438.1,346.1 436.7,346.2 C435.3,346.3 432.7,344.5 432.1,342.5 C431.5,340.5 432.7,336.4 433.0,334.1 C433.3,331.8 432.7,330.1 433.9,328.6Z"/>
<path d="M412.6,358.3 C413.4,357.1 415.2,355.5 416.3,356.4 C417.4,357.3 418.8,361.7 419.1,363.9 C419.4,366.1 419.0,368.3 418.1,369.4 C417.2,370.5 414.6,371.3 413.5,370.4 C412.4,369.5 411.8,365.9 411.6,363.9 C411.5,361.9 411.8,359.6 412.6,358.3Z"/>
<ellipse cx="423.7" cy="355.1" rx="3.3" ry="2.6" transform="rotate(0.0 423.7 355.1)"/>
<path d="M431.1,358.3 C433.3,356.5 438.9,354.6 442.3,354.6 C445.7,354.6 449.1,356.5 451.6,358.3 C454.1,360.1 456.5,363.2 457.1,365.7 C457.7,368.2 457.5,371.2 455.3,373.1 C453.1,375.0 447.8,376.6 444.1,376.9 C440.4,377.2 435.5,376.9 433.0,375.0 C430.5,373.1 429.6,368.5 429.3,365.7 C429.0,362.9 428.9,360.1 431.1,358.3Z"/>
<ellipse cx="442.3" cy="366.6" rx="5.6" ry="3.7" transform="rotate(0.0 442.3 366.6)"/>
<ellipse cx="438.9" cy="362.6" rx="2.8" ry="2.6" transform="rotate(0.0 438.9 362.6)"/>
<path d="M447.9,371.3 C452.2,369.3 457.1,363.6 459.0,363.9 C460.9,364.2 460.9,370.6 459.0,373.1 C457.1,375.6 451.6,377.6 447.9,378.7 C444.2,379.8 439.2,380.1 436.7,379.6 C434.2,379.1 431.1,377.3 433.0,375.9 C434.9,374.5 443.6,373.3 447.9,371.3Z"/>
<path d="M346.6,336.0 C349.9,330.1 362.2,334.1 366.1,336.0 C370.0,337.9 369.6,343.4 369.9,347.1 C370.2,350.8 367.7,354.9 368.0,358.3 C368.3,361.7 372.0,365.1 371.7,367.6 C371.4,370.1 370.3,372.5 366.1,373.1 C361.9,373.7 349.9,377.5 346.6,371.3 C343.4,365.1 343.4,341.9 346.6,336.0Z"/>
<path d="M356.5,353.1 C357.4,350.9 360.6,351.2 362.4,351.8 C364.2,352.4 366.4,354.9 367.3,356.8 C368.2,358.8 368.8,361.9 368.0,363.5 C367.2,365.1 364.2,366.2 362.4,366.5 C360.5,366.8 357.9,367.2 356.9,365.0 C355.9,362.8 355.6,355.3 356.5,353.1Z"/>
<path d="M358.3,354.9 C358.9,353.7 361.2,353.6 362.4,354.2 C363.6,354.8 365.1,357.3 365.4,358.7 C365.6,360.1 364.9,361.9 363.9,362.4 C362.8,362.9 360.0,362.9 359.1,361.6 C358.2,360.4 357.8,356.1 358.3,354.9Z"/>
<ellipse cx="361.5" cy="358.7" rx="1.9" ry="2.2" transform="rotate(0.0 361.5 358.7)"/>
<path d="M371.7,341.6 C373.6,340.1 380.1,338.8 382.9,339.7 C385.7,340.6 386.9,344.9 388.4,347.1 C389.9,349.3 392.7,351.1 392.1,352.7 C391.5,354.2 387.5,356.1 384.7,356.4 C381.9,356.7 377.6,355.8 375.4,354.6 C373.2,353.4 372.3,351.2 371.7,349.0 C371.1,346.8 369.8,343.2 371.7,341.6Z"/>
<path d="M373.6,344.4 C374.7,343.3 379.1,342.6 381.0,343.4 C382.9,344.2 385.0,347.6 384.7,349.0 C384.4,350.4 380.8,351.7 379.1,351.8 C377.4,351.9 375.4,351.1 374.5,349.9 C373.6,348.7 372.5,345.5 373.6,344.4Z"/>
<ellipse cx="378.2" cy="347.1" rx="2.8" ry="2.2" transform="rotate(0.0 378.2 347.1)"/>
<path d="M369.9,363.9 C370.8,362.0 375.4,361.0 379.1,360.1 C382.8,359.2 389.3,357.4 392.1,358.3 C394.9,359.2 397.1,363.9 395.9,365.7 C394.7,367.5 388.4,368.5 384.7,369.4 C381.0,370.3 376.1,372.2 373.6,371.3 C371.1,370.4 369.0,365.8 369.9,363.9Z"/>
<path d="M346.6,375.0 C349.9,368.3 359.8,373.7 366.1,373.1 C372.5,372.5 379.4,371.3 384.7,371.3 C390.0,371.3 395.2,371.6 397.7,373.1 C400.2,374.7 397.4,379.7 399.6,380.6 C401.8,381.5 407.9,379.9 410.7,378.7 C413.5,377.4 413.2,374.0 416.3,373.1 C419.4,372.2 426.5,372.2 429.3,373.1 C432.1,374.0 430.5,377.3 433.0,378.7 C435.5,380.1 441.0,379.6 444.1,381.5 C447.2,383.4 449.4,387.3 451.6,389.9 C453.8,392.5 456.5,393.4 457.1,397.3 C457.7,401.2 473.7,410.7 455.3,413.4 C436.9,416.1 364.7,419.8 346.6,413.4 C328.5,407.0 343.4,381.7 346.6,375.0Z"/>
<path d="M388.4,384.3 C389.3,382.4 394.6,382.4 397.7,382.4 C400.8,382.4 405.1,382.8 407.0,384.3 C408.9,385.9 409.8,389.9 408.9,391.7 C408.0,393.5 404.2,395.1 401.4,395.4 C398.6,395.7 394.3,395.5 392.1,393.6 C389.9,391.8 387.5,386.2 388.4,384.3Z"/>
<ellipse cx="402.4" cy="387.4" rx="2.8" ry="3.2" transform="rotate(0.0 402.4 387.4)"/>
<path d="M346.6,380.6 C349.6,377.4 361.1,378.1 364.3,379.6 C367.6,381.2 366.7,386.9 366.1,389.9 C365.5,392.8 363.9,395.8 360.6,397.3 C357.4,398.8 348.9,401.9 346.6,399.1 C344.3,396.3 343.7,383.9 346.6,380.6Z"/>
<path d="M346.6,384.3 C348.9,382.5 358.3,382.8 360.6,384.3 C362.9,385.9 362.9,391.8 360.6,393.6 C358.3,395.5 348.9,396.9 346.6,395.4 C344.3,393.8 344.3,386.1 346.6,384.3Z"/>
<path d="M362.4,391.7 C364.6,389.5 369.9,388.3 373.6,388.0 C377.3,387.7 382.5,388.3 384.7,389.9 C386.9,391.4 387.8,395.4 386.6,397.3 C385.4,399.2 380.7,398.3 377.3,401.0 C373.9,403.7 368.9,413.4 366.1,413.4 C363.3,413.4 361.2,404.6 360.6,401.0 C360.0,397.4 360.2,393.9 362.4,391.7Z"/>
<path d="M373.6,391.7 C374.5,390.2 381.0,389.3 382.9,389.9 C384.8,390.5 385.6,393.9 384.7,395.4 C383.8,396.9 379.1,399.7 377.3,399.1 C375.5,398.5 372.7,393.2 373.6,391.7Z"/>
<ellipse cx="380.1" cy="394.5" rx="4.1" ry="3.2" transform="rotate(0.0 380.1 394.5)"/>
<path d="M410.7,380.6 C412.2,378.4 418.8,376.9 421.9,376.9 C425.0,376.9 428.1,378.4 429.3,380.6 C430.5,382.8 430.9,388.0 429.3,389.9 C427.8,391.8 422.8,391.7 420.0,391.7 C417.2,391.7 414.2,391.8 412.6,389.9 C411.1,388.0 409.1,382.8 410.7,380.6Z"/>
<path d="M414.4,384.3 C415.6,383.4 421.8,382.8 423.7,383.4 C425.6,384.0 426.8,387.1 425.6,388.0 C424.4,388.9 418.2,389.5 416.3,388.9 C414.4,388.3 413.2,385.2 414.4,384.3Z"/>
<ellipse cx="418.1" cy="387.6" rx="3.3" ry="1.9" transform="rotate(0.0 418.1 387.6)"/>
<path d="M386.6,413.4 C382.0,411.0 389.3,401.8 392.1,399.1 C394.9,396.4 399.3,397.6 403.3,397.3 C407.3,397.0 412.0,397.9 416.3,397.3 C420.6,396.7 425.9,395.2 429.3,393.6 C432.7,392.1 434.5,389.9 436.7,388.0 C438.9,386.1 440.4,383.0 442.3,382.4 C444.2,381.8 447.6,382.8 447.9,384.3 C448.2,385.9 446.0,389.5 444.1,391.7 C442.2,393.9 439.2,395.8 436.7,397.3 C434.2,398.9 432.1,398.3 429.3,401.0 C426.5,403.7 427.1,411.3 420.0,413.4 C412.9,415.5 391.2,415.8 386.6,413.4Z"/>
<path d="M401.4,413.4 C398.3,411.3 404.2,403.2 407.0,401.0 C409.8,398.8 413.8,400.9 418.1,400.1 C422.4,399.3 429.6,398.1 433.0,396.4 C436.4,394.7 436.8,391.9 438.6,389.9 C440.5,387.9 442.6,384.6 444.1,384.3 C445.7,384.0 448.2,386.1 447.9,388.0 C447.6,389.9 444.8,393.2 442.3,395.4 C439.8,397.6 435.8,398.0 433.0,401.0 C430.2,404.0 430.9,411.3 425.6,413.4 C420.3,415.5 404.5,415.5 401.4,413.4Z"/>
<path d="M444.1,389.9 C445.7,388.7 451.2,388.7 453.4,389.9 C455.6,391.1 457.4,395.4 457.1,397.3 C456.8,399.2 453.8,401.0 451.6,401.0 C449.4,401.0 445.4,399.2 444.1,397.3 C442.9,395.4 442.6,391.1 444.1,389.9Z"/>
<path d="M433.0,401.0 C434.2,398.6 438.5,397.0 440.4,399.1 C442.2,401.2 445.3,411.0 444.1,413.4 C442.9,415.8 434.9,415.5 433.0,413.4 C431.1,411.3 431.8,403.4 433.0,401.0Z"/></g>
<g clip-path="url(#t9)"><path d="M203.6,436.6 C204.4,435.2 207.6,433.5 210.1,432.9 C212.6,432.3 216.9,432.0 218.5,432.9 C220.1,433.8 220.5,436.9 219.4,438.4 C218.3,439.9 214.3,441.6 212.0,442.1 C209.7,442.6 206.9,442.1 205.5,441.2 C204.1,440.3 202.8,438.0 203.6,436.6Z"/>
<path d="M213.9,423.6 C214.8,422.7 218.1,422.0 221.3,422.6 C224.6,423.2 233.1,426.1 233.4,427.3 C233.7,428.6 226.1,430.0 223.1,430.1 C220.1,430.2 217.2,429.3 215.7,428.2 C214.2,427.1 213.0,424.5 213.9,423.6Z"/>
<ellipse cx="202.3" cy="431.0" rx="2.2" ry="2.2" transform="rotate(0.0 202.3 431.0)"/>
<path d="M176.7,456.1 C177.6,454.4 182.9,451.6 187.9,450.5 C192.9,449.4 198.8,450.2 206.4,449.6 C214.0,449.0 228.9,446.2 233.4,446.8 C237.9,447.4 236.7,452.1 233.4,453.3 C230.2,454.5 218.7,453.4 213.9,454.2 C209.1,455.0 207.1,456.2 204.6,457.9 C202.1,459.6 201.2,462.5 199.0,464.4 C196.8,466.3 193.8,468.8 191.6,469.1 C189.4,469.4 187.6,467.7 186.0,466.3 C184.4,464.9 183.9,462.4 182.3,460.7 C180.8,459.0 175.8,457.8 176.7,456.1Z"/>
<path d="M201.8,458.9 C204.9,456.9 208.6,456.0 213.9,455.1 C219.2,454.2 230.2,451.8 233.4,453.7 C236.7,455.6 236.7,464.5 233.4,466.3 C230.2,468.1 218.4,464.4 213.9,464.4 C209.4,464.4 208.9,465.5 206.4,466.3 C203.9,467.1 200.8,469.0 199.0,469.1 C197.2,469.2 194.8,468.9 195.3,467.2 C195.8,465.5 198.7,460.9 201.8,458.9Z"/>
<path d="M199.0,470.0 C199.8,468.8 203.9,468.1 206.4,467.2 C208.9,466.3 209.4,464.8 213.9,464.8 C218.4,464.8 230.2,464.2 233.4,467.2 C236.7,470.2 236.7,480.4 233.4,483.0 C230.2,485.6 218.4,484.1 213.9,483.0 C209.4,481.9 208.4,477.9 206.4,476.5 C204.4,475.1 203.0,475.7 201.8,474.6 C200.6,473.5 198.2,471.2 199.0,470.0Z"/>
<ellipse cx="192.9" cy="462.9" rx="3.7" ry="3.2" transform="rotate(0.0 192.9 462.9)"/>
<path d="M221.3,412.4 C223.2,411.0 231.4,410.1 233.4,411.5 C235.4,412.9 235.3,419.4 233.4,420.8 C231.5,422.2 224.2,421.3 222.2,419.9 C220.2,418.5 219.4,413.8 221.3,412.4Z"/></g>
<g clip-path="url(#t10)"><path d="M216.6,396.6 C225.4,390.2 261.4,394.0 269.6,396.6 C277.8,399.2 268.1,408.5 265.9,412.4 C263.7,416.3 260.3,417.4 256.6,419.9 C252.9,422.4 247.9,425.1 243.6,427.3 C239.3,429.5 235.1,431.7 230.6,432.9 C226.1,434.1 218.9,440.8 216.6,434.7 C214.3,428.6 207.8,403.0 216.6,396.6Z"/>
<path d="M216.6,396.6 C224.2,391.5 255.1,394.0 262.1,396.6 C269.1,399.2 260.6,408.7 258.4,412.4 C256.2,416.1 252.8,416.7 249.1,418.9 C245.4,421.1 241.5,424.0 236.1,425.4 C230.7,426.8 219.8,432.1 216.6,427.3 C213.3,422.5 209.0,401.7 216.6,396.6Z"/>
<path d="M230.6,408.7 C232.4,405.4 238.3,396.9 241.7,396.6 C245.1,396.3 249.8,403.6 251.0,406.9 C252.2,410.1 250.7,413.5 249.1,416.1 C247.5,418.7 244.2,421.7 241.7,422.6 C239.2,423.5 236.2,422.8 234.3,421.7 C232.5,420.6 231.2,418.3 230.6,416.1 C230.0,413.9 228.8,411.9 230.6,408.7Z"/>
<path d="M235.2,413.4 C235.7,411.5 239.2,410.5 240.8,410.6 C242.4,410.8 244.0,412.6 244.5,414.3 C245.0,416.0 244.7,419.6 243.6,420.8 C242.5,422.0 239.4,422.9 238.0,421.7 C236.6,420.5 234.7,415.2 235.2,413.4Z"/>
<path d="M264.0,425.4 C265.9,423.5 269.6,422.0 273.3,421.7 C277.0,421.4 282.9,423.9 286.3,423.6 C289.7,423.3 292.1,419.6 293.7,419.9 C295.2,420.2 296.5,423.5 295.6,425.4 C294.7,427.2 290.0,428.8 288.1,431.0 C286.2,433.2 284.7,435.9 284.4,438.4 C284.1,440.9 287.2,444.0 286.3,445.9 C285.4,447.8 281.7,449.3 278.9,449.6 C276.1,449.9 271.8,449.2 269.6,447.7 C267.4,446.1 267.1,442.8 265.9,440.3 C264.6,437.8 262.4,435.4 262.1,432.9 C261.8,430.4 262.1,427.3 264.0,425.4Z"/>
<path d="M268.6,438.4 C270.0,437.5 275.3,436.9 277.0,437.5 C278.7,438.1 279.5,440.9 278.9,442.1 C278.3,443.3 275.0,444.7 273.3,444.9 C271.6,445.1 269.4,444.2 268.6,443.1 C267.8,442.0 267.2,439.3 268.6,438.4Z"/>
<path d="M247.3,440.3 C248.7,438.8 253.7,437.5 256.6,437.5 C259.5,437.5 262.7,438.6 264.9,440.3 C267.1,442.0 269.8,445.7 269.6,447.7 C269.5,449.7 266.5,451.8 264.0,452.4 C261.5,453.0 257.3,452.3 254.7,451.4 C252.1,450.5 249.4,448.6 248.2,446.8 C247.0,445.0 245.9,441.9 247.3,440.3Z"/>
<path d="M286.3,416.1 C284.1,413.0 284.4,411.9 284.4,408.7 C284.4,405.4 276.1,398.6 286.3,396.6 C296.5,394.6 335.6,393.4 345.7,396.6 C355.8,399.9 346.9,411.0 346.6,416.1 C346.3,421.2 345.6,423.9 343.9,427.3 C342.2,430.7 339.2,433.5 336.4,436.6 C333.6,439.7 329.6,443.1 327.1,445.9 C324.6,448.7 324.1,451.4 321.6,453.3 C319.1,455.2 314.8,457.3 312.3,457.0 C309.8,456.7 307.9,453.9 306.7,451.4 C305.5,448.9 305.5,445.2 304.9,442.1 C304.3,439.0 304.2,435.4 303.0,432.9 C301.8,430.4 300.2,430.1 297.4,427.3 C294.6,424.5 288.5,419.2 286.3,416.1Z"/>
<path d="M297.4,423.6 C294.9,420.8 291.6,416.9 290.0,412.4 C288.4,407.9 280.1,399.2 288.1,396.6 C296.2,394.0 329.5,393.4 338.3,396.6 C347.1,399.9 341.1,411.3 341.1,416.1 C341.1,420.9 340.0,422.9 338.3,425.4 C336.6,427.9 333.1,428.8 330.9,431.0 C328.7,433.2 326.9,435.3 325.3,438.4 C323.8,441.5 323.5,447.1 321.6,449.6 C319.7,452.1 316.3,453.6 314.1,453.3 C311.9,453.0 309.8,450.5 308.6,447.7 C307.4,444.9 307.3,439.7 306.7,436.6 C306.1,433.5 306.4,431.3 304.9,429.1 C303.3,426.9 299.9,426.4 297.4,423.6Z"/>
<path d="M300.2,396.6 C305.6,394.0 327.7,393.7 333.6,396.6 C339.5,399.6 335.6,409.8 335.5,414.3 C335.4,418.8 334.4,421.1 332.7,423.6 C331.0,426.1 327.8,427.9 325.3,429.1 C322.8,430.3 320.4,431.3 317.9,431.0 C315.4,430.7 312.6,429.2 310.4,427.3 C308.2,425.4 306.4,422.4 304.9,419.9 C303.3,417.4 301.9,416.3 301.1,412.4 C300.3,408.5 294.8,399.2 300.2,396.6Z"/>
<path d="M311.4,442.1 C312.2,440.7 314.5,439.4 316.0,439.4 C317.5,439.4 320.0,440.4 320.6,442.1 C321.2,443.8 320.8,447.9 319.7,449.6 C318.6,451.3 315.5,452.7 314.1,452.4 C312.7,452.1 311.8,449.4 311.4,447.7 C310.9,446.0 310.6,443.5 311.4,442.1Z"/>
<path d="M312.3,443.1 C312.6,441.6 314.9,441.1 316.0,441.2 C317.1,441.3 318.5,442.6 318.8,444.0 C319.1,445.4 318.7,448.5 317.9,449.6 C317.1,450.7 315.0,451.6 314.1,450.5 C313.2,449.4 312.0,444.7 312.3,443.1Z"/>
<path d="M343.9,396.6 C347.1,394.0 360.1,393.7 363.4,396.6 C366.6,399.6 366.0,411.1 363.4,414.3 C360.8,417.6 350.9,416.4 347.6,416.1 C344.4,415.8 344.5,415.6 343.9,412.4 C343.3,409.1 340.6,399.2 343.9,396.6Z"/>
<path d="M325.3,447.7 C326.6,444.3 337.5,436.6 343.9,432.9 C350.2,429.2 360.1,423.2 363.4,425.4 C366.6,427.6 367.9,441.2 363.4,445.9 C358.9,450.5 342.8,453.0 336.4,453.3 C330.0,453.6 324.1,451.1 325.3,447.7Z"/>
<path d="M251.0,464.4 C252.5,462.4 257.8,461.4 262.1,459.8 C266.4,458.2 272.7,456.3 277.0,455.1 C281.3,453.9 284.7,452.2 288.1,452.4 C291.5,452.6 294.3,454.9 297.4,456.1 C300.5,457.3 302.7,459.5 306.7,459.8 C310.7,460.1 317.3,459.6 321.6,457.9 C325.9,456.2 329.0,452.9 332.7,449.6 C336.4,446.4 338.8,441.5 343.9,438.4 C349.0,435.3 360.1,427.4 363.4,431.0 C366.6,434.6 366.6,454.2 363.4,459.8 C360.1,465.4 348.4,462.7 343.9,464.4 C339.4,466.1 338.4,466.9 336.4,470.0 C334.4,473.1 332.3,478.4 331.8,483.0 C331.3,487.6 334.7,494.8 333.6,497.9 C332.5,501.0 331.0,501.0 325.3,501.6 C319.6,502.2 304.0,503.2 299.3,501.6 C294.6,500.1 298.0,496.0 297.4,492.3 C296.8,488.6 296.8,483.6 295.6,479.3 C294.4,475.0 292.5,468.8 290.0,466.3 C287.5,463.8 283.5,464.4 280.7,464.4 C277.9,464.4 276.4,465.5 273.3,466.3 C270.2,467.1 265.5,468.2 262.1,469.1 C258.7,470.0 254.8,472.7 252.9,471.9 C251.1,471.1 249.5,466.4 251.0,464.4Z"/>
<path d="M297.4,464.4 C299.2,462.8 303.3,463.2 306.7,462.6 C310.1,462.0 314.2,461.3 317.9,460.7 C321.6,460.1 325.9,458.9 329.0,458.9 C332.1,458.9 335.2,458.8 336.4,460.7 C337.6,462.6 337.2,466.3 336.4,470.0 C335.6,473.7 332.3,478.4 331.8,483.0 C331.3,487.6 334.5,495.3 333.6,497.9 C332.7,500.5 327.6,500.7 326.2,498.8 C324.8,496.9 326.7,489.3 325.3,486.7 C323.9,484.1 321.0,483.3 317.9,483.0 C314.8,482.7 310.1,484.9 306.7,484.9 C303.3,484.9 299.2,485.2 297.4,483.0 C295.5,480.8 295.6,475.0 295.6,471.9 C295.6,468.8 295.5,465.9 297.4,464.4Z"/>
<path d="M314.1,464.4 C315.2,463.2 318.8,461.3 321.6,460.7 C324.4,460.1 328.7,459.8 330.9,460.7 C333.1,461.6 334.9,464.8 334.6,466.3 C334.3,467.9 331.5,469.4 329.0,470.0 C326.5,470.6 322.0,470.3 319.7,470.0 C317.4,469.7 316.0,469.0 315.1,468.1 C314.2,467.2 313.0,465.6 314.1,464.4Z"/>
<path d="M295.6,483.0 C297.2,482.1 303.0,482.0 306.7,482.1 C310.4,482.2 314.8,483.1 317.9,483.9 C321.0,484.7 323.9,484.4 325.3,486.7 C326.7,489.0 327.4,497.0 326.2,497.9 C325.0,498.8 321.1,493.4 317.9,492.3 C314.6,491.2 310.1,492.2 306.7,491.4 C303.3,490.6 299.2,489.0 297.4,487.6 C295.5,486.2 294.1,483.9 295.6,483.0Z"/>
<path d="M326.2,481.1 C327.1,477.9 330.8,477.1 331.8,479.3 C332.8,481.5 331.7,490.9 332.3,494.1 C332.9,497.4 336.5,498.0 335.5,498.8 C334.5,499.6 327.8,501.8 326.2,498.8 C324.6,495.9 325.3,484.4 326.2,481.1Z"/>
<path d="M306.7,486.7 C307.6,485.7 312.1,484.8 314.1,484.9 C316.1,485.0 318.3,486.5 318.8,487.6 C319.3,488.7 318.6,490.9 316.9,491.4 C315.2,491.9 310.3,491.6 308.6,490.8 C306.9,490.0 305.8,487.7 306.7,486.7Z"/>
<ellipse cx="304.9" cy="473.2" rx="2.2" ry="2.2" transform="rotate(0.0 304.9 473.2)"/>
<path d="M262.1,473.7 C263.3,471.8 269.6,469.3 273.3,468.1 C277.0,466.9 281.0,466.0 284.4,466.3 C287.8,466.6 291.7,467.2 293.7,470.0 C295.7,472.8 296.2,479.3 296.5,483.0 C296.8,486.7 297.0,491.4 295.6,492.3 C294.2,493.2 290.6,489.5 288.1,488.6 C285.6,487.7 283.2,487.6 280.7,486.7 C278.2,485.8 275.8,484.2 273.3,483.0 C270.8,481.8 267.8,480.9 265.9,479.3 C264.0,477.8 260.9,475.6 262.1,473.7Z"/>
<path d="M230.6,460.7 C232.5,459.2 240.5,458.3 243.6,458.9 C246.7,459.5 248.5,461.6 249.1,464.4 C249.7,467.2 247.1,471.7 247.3,475.6 C247.5,479.5 251.3,485.8 250.1,487.6 C248.9,489.5 241.9,488.7 239.9,486.7 C237.9,484.7 239.2,478.7 238.0,475.6 C236.8,472.5 233.6,470.6 232.4,468.1 C231.2,465.6 228.7,462.2 230.6,460.7Z"/>
<path d="M216.6,458.9 C218.9,457.7 228.0,457.4 230.6,458.9 C233.2,460.4 234.7,466.9 232.4,468.1 C230.1,469.3 219.2,467.8 216.6,466.3 C214.0,464.8 214.3,460.1 216.6,458.9Z"/>
<path d="M216.6,431.0 C219.8,425.8 232.4,430.7 236.1,432.9 C239.8,435.1 238.9,439.7 238.9,444.0 C238.9,448.3 239.8,455.5 236.1,458.9 C232.4,462.3 219.8,469.0 216.6,464.4 C213.3,459.8 213.3,436.2 216.6,431.0Z"/>
<path d="M216.6,431.0 C219.2,426.5 229.4,431.6 232.4,433.8 C235.4,436.0 234.7,440.1 234.7,444.0 C234.7,447.9 235.4,454.2 232.4,457.0 C229.4,459.8 219.2,465.0 216.6,460.7 C214.0,456.4 214.0,435.5 216.6,431.0Z"/>
<path d="M349.4,416.1 C351.6,414.9 361.1,413.9 363.4,415.2 C365.7,416.4 365.6,422.4 363.4,423.6 C361.2,424.8 352.7,423.9 350.4,422.6 C348.1,421.4 347.2,417.3 349.4,416.1Z"/></g>
<g clip-path="url(#t11)"><path d="M346.6,396.6 C360.4,386.2 415.7,393.0 429.3,396.6 C442.9,400.2 430.3,414.3 428.4,418.0 C426.5,421.7 421.1,419.1 418.1,418.9 C415.2,418.6 413.5,417.0 410.7,416.5 C407.9,416.0 404.5,416.0 401.4,416.1 C398.3,416.2 394.4,415.3 392.1,416.9 C389.8,418.4 388.7,421.5 387.5,425.4 C386.3,429.3 386.7,435.8 384.7,440.3 C382.7,444.8 378.5,450.2 375.4,452.4 C372.3,454.6 370.9,452.6 366.1,453.7 C361.3,454.8 349.9,468.4 346.6,458.9 C343.4,449.4 332.8,407.0 346.6,396.6Z"/>
<path d="M368.9,432.9 C369.8,431.2 375.6,432.2 377.3,431.0 C379.0,429.8 377.7,426.1 379.1,425.4 C380.5,424.7 384.7,425.0 385.6,426.9 C386.5,428.8 385.9,433.9 384.7,436.6 C383.5,439.3 380.4,442.3 378.2,443.1 C376.0,443.9 373.2,442.9 371.7,441.2 C370.1,439.5 368.0,434.6 368.9,432.9Z"/>
<path d="M346.6,396.6 C360.4,389.0 415.8,393.7 429.3,396.6 C442.8,399.5 430.5,411.3 427.4,413.9 C424.3,416.5 416.6,412.4 410.7,412.4 C404.8,412.4 398.3,413.3 392.1,413.9 C385.9,414.5 378.2,415.0 373.6,416.1 C369.0,417.2 366.2,417.4 364.3,420.8 C362.4,424.2 365.3,433.1 362.4,436.6 C359.4,440.2 349.2,448.8 346.6,442.1 C344.0,435.4 332.8,404.2 346.6,396.6Z"/>
<path d="M346.6,396.6 C360.4,392.1 416.0,394.2 429.3,396.6 C442.6,399.0 429.6,408.8 426.5,410.9 C423.4,413.0 416.4,409.5 410.7,409.5 C405.0,409.5 398.3,410.3 392.1,410.9 C385.9,411.4 378.6,411.9 373.6,412.8 C368.7,413.7 366.9,414.3 362.4,416.1 C357.9,417.9 349.2,426.9 346.6,423.6 C344.0,420.4 332.8,401.1 346.6,396.6Z"/>
<path d="M346.6,396.6 C360.4,393.3 416.1,394.7 429.3,396.6 C442.5,398.6 428.7,406.6 425.6,408.3 C422.5,410.0 416.3,406.9 410.7,406.9 C405.1,406.9 398.3,407.8 392.1,408.3 C385.9,408.8 378.6,409.1 373.6,409.8 C368.7,410.5 366.9,411.3 362.4,412.4 C357.9,413.5 349.2,419.1 346.6,416.5 C344.0,413.9 332.8,399.9 346.6,396.6Z"/>
<path d="M346.6,396.6 C360.4,393.8 416.1,395.0 429.3,396.6 C442.5,398.2 431.8,404.5 425.6,406.1 C419.4,407.7 402.0,406.1 392.1,406.3 C382.2,406.6 370.7,406.9 366.1,407.6 C361.5,408.3 367.6,409.6 364.3,410.6 C361.1,411.6 349.6,415.7 346.6,413.4 C343.7,411.1 332.8,399.4 346.6,396.6Z"/>
<path d="M346.6,423.6 C348.9,422.7 357.9,423.0 360.2,423.9 C362.5,424.8 362.9,427.9 360.6,428.8 C358.3,429.7 348.9,430.4 346.6,429.5 C344.3,428.6 344.3,424.5 346.6,423.6Z"/>
<path d="M425.6,396.6 C430.1,393.4 447.1,394.0 451.6,396.6 C456.1,399.2 453.1,408.2 452.5,412.4 C451.9,416.6 448.0,418.9 447.9,421.7 C447.8,424.5 451.6,426.6 451.6,429.1 C451.6,431.6 450.1,435.1 447.9,436.6 C445.7,438.2 441.1,439.0 438.6,438.4 C436.1,437.8 434.6,435.1 433.0,432.9 C431.4,430.7 430.7,428.2 429.3,425.4 C427.9,422.6 425.2,420.9 424.6,416.1 C424.0,411.3 421.1,399.9 425.6,396.6Z"/>
<path d="M428.4,406.9 C429.3,403.6 434.1,396.6 436.7,396.6 C439.3,396.6 442.6,403.9 444.1,406.9 C445.7,409.8 446.9,412.3 446.0,414.3 C445.1,416.3 441.1,418.6 438.6,418.9 C436.1,419.2 432.8,418.1 431.1,416.1 C429.4,414.1 427.5,410.1 428.4,406.9Z"/>
<path d="M430.2,408.7 C431.0,407.5 434.8,406.6 436.7,406.9 C438.6,407.2 441.1,409.2 441.4,410.6 C441.7,412.0 440.2,414.6 438.6,415.2 C437.1,415.8 433.5,415.4 432.1,414.3 C430.7,413.2 429.4,409.9 430.2,408.7Z"/>
<path d="M437.6,429.1 C438.5,427.7 442.4,426.7 444.1,427.3 C445.8,427.9 447.9,431.2 447.9,432.9 C447.9,434.6 445.7,437.1 444.1,437.5 C442.6,437.9 439.7,437.0 438.6,435.6 C437.5,434.2 436.7,430.5 437.6,429.1Z"/>
<ellipse cx="442.7" cy="432.9" rx="2.6" ry="2.6" transform="rotate(0.0 442.7 432.9)"/>
<path d="M447.9,416.1 C448.2,414.2 451.2,412.2 453.4,412.4 C455.6,412.6 457.8,415.7 460.9,417.1 C464.0,418.5 469.1,420.7 472.0,420.8 C474.9,420.9 477.3,417.7 478.5,418.0 C479.7,418.3 479.9,420.4 479.4,422.6 C478.9,424.8 477.2,428.4 475.7,431.0 C474.1,433.6 472.3,436.5 470.1,438.4 C467.9,440.2 465.2,441.8 462.7,442.1 C460.2,442.4 457.1,441.8 455.3,440.3 C453.5,438.8 452.2,435.7 451.6,432.9 C451.0,430.1 452.2,426.4 451.6,423.6 C451.0,420.8 447.6,418.0 447.9,416.1Z"/>
<path d="M462.7,423.6 C464.2,421.4 469.4,422.3 472.0,421.7 C474.6,421.1 477.6,418.7 478.5,419.9 C479.4,421.1 479.0,426.2 477.6,429.1 C476.2,432.0 472.6,436.6 470.1,437.5 C467.6,438.4 463.9,437.0 462.7,434.7 C461.5,432.4 461.1,425.8 462.7,423.6Z"/>
<path d="M466.4,425.4 C467.6,423.4 474.4,422.4 475.7,423.6 C476.9,424.9 475.1,430.9 473.9,432.9 C472.7,434.9 469.6,436.9 468.3,435.6 C467.1,434.4 465.2,427.4 466.4,425.4Z"/>
<path d="M455.3,442.1 C457.2,440.2 461.5,439.4 464.6,437.5 C467.7,435.6 472.0,431.8 473.9,431.0 C475.8,430.2 476.3,431.5 475.7,432.9 C475.1,434.3 472.9,437.1 470.1,439.4 C467.3,441.7 461.8,445.3 459.0,446.8 C456.2,448.3 454.0,449.4 453.4,448.6 C452.8,447.8 453.4,444.0 455.3,442.1Z"/>
<path d="M388.4,444.9 C389.9,443.2 395.9,441.5 399.6,441.2 C403.3,440.9 407.6,443.0 410.7,443.1 C413.8,443.2 415.9,443.8 418.1,442.1 C420.3,440.4 421.8,434.1 423.7,432.9 C425.6,431.7 428.1,433.2 429.3,434.7 C430.5,436.2 428.9,440.6 431.1,442.1 C433.3,443.7 438.9,443.1 442.3,444.0 C445.7,444.9 449.4,447.6 451.6,447.7 C453.8,447.8 454.1,445.0 455.3,444.9 C456.5,444.8 459.3,445.7 459.0,446.8 C458.7,447.9 454.9,449.1 453.4,451.4 C451.8,453.7 451.2,458.2 449.7,460.7 C448.1,463.2 446.9,464.8 444.1,466.3 C441.3,467.9 436.4,469.5 433.0,470.0 C429.6,470.5 426.2,469.7 423.7,469.1 C421.2,468.5 420.6,467.1 418.1,466.3 C415.6,465.5 411.1,465.3 408.9,464.4 C406.7,463.5 406.0,462.2 405.1,460.7 C404.2,459.1 405.2,455.7 403.3,455.1 C401.4,454.5 396.2,457.6 394.0,457.0 C391.8,456.4 391.2,453.4 390.3,451.4 C389.4,449.4 386.8,446.6 388.4,444.9Z"/>
<path d="M399.6,449.6 C400.5,448.2 406.1,446.2 408.9,445.9 C411.7,445.6 413.8,447.9 416.3,447.7 C418.8,447.5 420.9,445.4 423.7,444.9 C426.5,444.4 429.9,444.6 433.0,444.9 C436.1,445.2 439.2,446.0 442.3,446.8 C445.4,447.6 450.4,447.3 451.6,449.6 C452.8,451.9 450.9,457.9 449.7,460.7 C448.4,463.5 446.9,464.8 444.1,466.3 C441.3,467.9 436.4,469.5 433.0,470.0 C429.6,470.5 426.2,469.7 423.7,469.1 C421.2,468.5 420.6,467.1 418.1,466.3 C415.6,465.5 411.1,465.3 408.9,464.4 C406.7,463.5 406.0,462.4 405.1,460.7 C404.2,459.0 404.6,456.0 403.7,454.2 C402.8,452.4 398.7,451.0 399.6,449.6Z"/>
<path d="M407.0,458.9 C408.2,457.0 412.6,454.7 416.3,453.3 C420.0,451.9 425.9,450.8 429.3,450.5 C432.7,450.2 434.2,450.8 436.7,451.4 C439.2,452.0 441.9,453.1 444.1,454.2 C446.3,455.3 448.9,456.7 449.7,457.9 C450.5,459.1 449.7,460.2 448.8,461.6 C447.9,463.0 446.7,464.9 444.1,466.3 C441.5,467.7 436.4,469.5 433.0,470.0 C429.6,470.5 426.2,469.7 423.7,469.1 C421.2,468.5 420.6,467.1 418.1,466.3 C415.6,465.5 410.8,465.6 408.9,464.4 C407.0,463.2 405.8,460.8 407.0,458.9Z"/>
<path d="M418.1,465.4 C418.7,464.7 422.3,464.4 423.7,464.8 C425.1,465.2 427.1,467.4 426.5,468.1 C425.9,468.8 421.4,469.6 420.0,469.1 C418.6,468.7 417.5,466.1 418.1,465.4Z"/></g>
</g>
<g font-family="Liberation Sans, sans-serif" font-size="4.6" fill="#1d3557" text-anchor="middle" opacity="0.85">
<text x="300.2" y="144.4" transform="rotate(-40 300.2 142.9)">100</text>
<text x="314.1" y="147.1" transform="rotate(-50 314.1 145.6)">100</text>
<text x="275.1" y="190.8" transform="rotate(30 275.1 189.3)">100</text>
<text x="311.4" y="171.3" transform="rotate(-20 311.4 169.8)">40</text>
<text x="168.4" y="252.5" transform="rotate(-15 168.4 251)">100</text>
<text x="154.4" y="246.1" transform="rotate(-10 154.4 244.6)">80</text>
<text x="393" y="244.4" transform="rotate(-10 393 242.9)">150</text>
<text x="257.5" y="280.5" transform="rotate(20 257.5 279)">50</text>
<text x="353" y="274.5" transform="rotate(-30 353 273)">80</text>
<text x="436.7" y="335.6" transform="rotate(80 436.7 334.1)">250</text>
<text x="307.4" y="413.8" transform="rotate(80 307.4 412.3)">120</text>
<text x="261" y="398.9" transform="rotate(60 261 397.4)">30</text>
<text x="221" y="436.1" transform="rotate(-40 221 434.6)">40</text>
<text x="365.2" y="359.3" transform="rotate(60 365.2 357.8)">100</text>
<text x="379" y="348.0" transform="rotate(-30 379 346.5)">80</text>
<text x="248" y="233.5" transform="rotate(70 248 232)">50</text>
<text x="337" y="306.5" transform="rotate(80 337 305)">50</text>
<text x="330" y="298.5" transform="rotate(90 330 297)">50</text>
<text x="404" y="460.5" transform="rotate(0 404 459)">10</text>
<text x="268" y="245.5" transform="rotate(-60 268 244)">40</text>
<text x="186" y="392.5" transform="rotate(70 186 391)">60</text>
<text x="207" y="367.5" transform="rotate(80 207 366)">60</text>
<text x="448" y="256.5" transform="rotate(10 448 255)">120</text>
<text x="362" y="265.5" transform="rotate(-60 362 264)">80</text>
<text x="352" y="219.5" transform="rotate(0 352 218)">80</text>
<text x="318" y="461.5" transform="rotate(0 318 460)">50</text>
<text x="395" y="429.5" transform="rotate(60 395 428)">60</text>
<text x="345" y="445.5" transform="rotate(20 345 444)">40</text>
</g>
<g fill="none" stroke="#1c1c1c" stroke-width="0.8" stroke-linejoin="round" opacity="0.9">
<path d="M208.3,191.1 L213.9,194.9 L215.7,202.3 L213.9,207.9 L209.2,214.9"/>
<path d="M303.0,120.6 L304.9,128.0 L310.4,132.6 L317.9,137.3 L323.4,141.0 L327.1,144.7 L328.1,152.1 L330.9,158.6 L336.4,159.6"/>
<path d="M284.4,158.6 L295.6,158.6 L306.7,157.7 L314.1,156.8 L321.6,159.6 L329.0,164.2"/>
<path d="M284.4,159.6 L286.3,168.9 L290.9,178.1 L291.9,185.6"/>
<path d="M290.9,178.1 L303.0,180.0 L316.0,182.8 L325.3,180.9 L330.9,178.1"/>
<path d="M329.0,164.2 L338.3,164.2 L347.6,163.3 L355.0,161.4"/>
<path d="M330.9,165.1 L330.9,178.1 L331.8,189.3 L330.9,198.6 L329.0,204.1"/>
<path d="M252.9,189.3 L262.1,193.0 L268.6,197.6 L280.7,189.3 L288.1,191.1 L291.9,185.6"/>
<path d="M290.0,191.1 L290.9,201.4 L299.3,203.2 L308.6,204.1 L317.9,203.2 L329.0,204.1"/>
<path d="M250.1,191.1 L252.9,200.4 L251.0,214.9"/>
<path d="M290.9,201.4 L288.1,207.9 L282.6,211.6 L284.4,214.9"/>
<path d="M329.0,204.1 L340.1,202.3 L347.6,196.7 L355.0,198.6"/>
<path d="M314.1,203.8 L316.0,214.9"/>
<path d="M362.4,167.6 L363.4,177.9 L358.7,183.4 L357.8,192.7 L360.6,196.4"/>
<path d="M379.1,174.1 L378.2,183.4 L373.6,191.8 L369.9,196.4 L370.8,199.2"/>
<path d="M357.8,192.7 L364.3,195.5 L370.8,199.2 L377.3,199.2 L384.7,198.3"/>
<path d="M389.4,184.4 L387.5,194.6 L384.7,205.7 L386.6,213.1 L382.9,224.3 L384.7,229.9"/>
<path d="M398.6,189.9 L401.4,196.4 L408.9,199.2 L409.8,205.7 L408.9,215.0 L409.8,224.3 L405.1,231.7"/>
<path d="M408.9,199.2 L414.4,203.9 L418.1,207.6 L425.6,215.0 L434.9,219.6 L444.1,224.3 L449.7,227.1"/>
<path d="M446.0,203.9 L444.1,209.4 L447.9,215.0 L451.6,224.3 L449.7,227.1"/>
<path d="M399.6,233.6 L408.9,229.9 L416.3,231.7 L425.6,232.6 L434.9,230.8 L444.1,228.0 L449.7,227.1"/>
<path d="M449.7,227.1 L451.6,233.6 L457.1,237.3 L466.4,241.0"/>
<path d="M399.6,233.6 L405.1,241.0 L407.0,249.9"/>
<path d="M384.7,198.3 L382.9,211.3 L384.7,224.3 L379.1,229.9 L375.4,233.6 L373.6,242.9 L375.4,249.9"/>
<path d="M384.7,229.9 L392.1,231.7 L399.6,233.6"/>
<path d="M355.0,228.0 L362.4,229.9 L369.9,230.8 L375.4,233.6"/>
<path d="M449.7,227.1 L450.6,237.3 L453.4,249.9"/>
<path d="M251.0,200.0 L252.9,207.4 L258.4,216.7 L262.1,224.1 L264.9,232.5 L264.0,237.1"/>
<path d="M252.9,207.4 L267.7,205.6 L282.6,207.4 L290.0,200.0"/>
<path d="M282.6,207.4 L286.3,214.9 L290.0,220.4 L297.4,222.3 L303.0,218.6 L306.7,211.1 L303.0,205.6 L291.9,201.9"/>
<path d="M303.0,218.6 L308.6,220.4 L314.1,218.6 L316.0,211.1 L312.3,205.6"/>
<path d="M290.0,220.4 L291.9,229.7 L296.5,235.3 L298.4,241.8"/>
<path d="M314.1,218.6 L315.1,227.9 L312.3,237.1 L310.4,241.8 L298.4,241.8"/>
<path d="M316.0,211.1 L329.0,207.4 L340.1,213.0 L343.9,222.3 L340.1,231.6 L329.0,237.1 L312.3,237.1"/>
<path d="M264.0,237.1 L269.6,246.4 L278.9,252.0 L286.3,250.1 L296.5,248.3 L298.4,241.8"/>
<path d="M310.4,241.8 L312.3,248.3 L321.6,249.2 L329.0,248.3"/>
<path d="M329.0,237.1 L329.0,248.3 L332.7,255.7 L336.4,263.1"/>
<path d="M340.1,231.6 L345.7,240.9 L353.1,248.3 L355.0,255.7"/>
<path d="M343.9,222.3 L355.0,218.6"/>
<path d="M234.3,229.7 L238.0,237.1 L232.4,244.6 L228.7,253.9 L227.8,261.3"/>
<path d="M264.0,237.1 L264.9,246.4 L262.1,255.7 L260.3,263.1 L256.6,268.7"/>
<path d="M227.8,261.3 L236.1,266.9 L245.4,270.6 L256.6,268.7 L262.1,265.0"/>
<path d="M286.3,250.1 L284.4,259.4 L290.0,268.7 L299.3,269.6 L306.7,270.6"/>
<path d="M306.7,270.6 L314.1,274.3 L325.3,273.4 L332.7,270.6 L336.4,263.1"/>
<path d="M260.3,263.1 L267.7,274.3 L273.3,285.4 L277.0,289.1"/>
<path d="M245.4,270.6 L241.7,281.7 L238.0,292.9 L236.1,299.9"/>
<path d="M277.0,289.1 L286.3,287.3 L295.6,285.4 L304.9,279.9 L306.7,270.6"/>
<path d="M325.3,273.4 L327.1,281.7 L330.9,292.9 L332.7,299.9"/>
<path d="M336.4,263.1 L343.9,270.6 L355.0,274.3"/>
<path d="M225.0,214.9 L234.3,211.1 L243.6,213.0 L251.0,207.4"/>
<path d="M134.9,217.6 L134.9,227.9 L134.0,237.1 L130.3,244.6 L131.2,252.0 L137.7,257.6"/>
<path d="M134.0,239.9 L145.1,241.8 L156.3,243.6 L165.6,242.7 L173.0,244.6"/>
<path d="M173.0,221.4 L174.9,229.7 L171.1,237.1 L173.0,244.6"/>
<path d="M173.0,244.6 L176.7,253.9 L176.7,261.3 L174.9,268.7 L165.6,273.4"/>
<path d="M193.4,225.1 L196.2,231.6 L195.3,240.9 L197.1,250.1 L202.7,261.3"/>
<path d="M176.7,261.3 L187.9,264.1 L195.3,261.3 L202.7,261.3"/>
<path d="M196.2,231.6 L206.4,230.6 L215.7,227.9 L225.0,229.7"/>
<path d="M206.4,230.6 L208.3,242.7 L206.4,253.9 L202.7,261.3"/>
<path d="M202.7,261.3 L213.9,264.1 L225.0,265.0"/>
<path d="M202.7,261.3 L200.9,270.6 L206.4,278.0 L202.7,283.6 L199.0,289.1"/>
<path d="M174.9,292.9 L184.1,289.1 L191.6,287.3 L199.0,289.1 L204.6,292.9 L213.9,296.6"/>
<path d="M199.0,289.1 L206.4,292.9 L213.9,296.6 L225.0,295.6"/>
<path d="M210.1,297.4 L213.9,306.7 L217.6,316.0 L219.4,325.3 L215.7,329.0"/>
<path d="M191.6,325.3 L202.7,327.1 L215.7,329.0 L219.4,325.3"/>
<path d="M234.3,293.7 L236.1,304.9 L235.2,316.0 L238.0,325.3 L241.7,332.7 L238.0,338.3"/>
<path d="M215.7,329.0 L221.3,336.4 L230.6,339.2 L238.0,338.3"/>
<path d="M230.6,339.2 L233.4,345.7 L226.9,353.1 L224.1,358.7 L226.9,366.1 L228.7,373.6"/>
<path d="M241.7,290.0 L247.3,297.4 L256.6,301.1 L264.0,299.3 L267.7,308.6 L265.9,317.9 L266.8,327.1 L260.3,334.6 L252.9,338.3 L249.1,336.4 L241.7,332.7"/>
<path d="M252.9,338.3 L251.0,347.6 L247.3,356.9 L243.6,364.3 L241.7,371.7"/>
<path d="M228.7,373.6 L236.1,377.3 L241.7,371.7"/>
<path d="M266.8,327.1 L275.1,325.3 L282.6,327.1 L290.0,325.3"/>
<path d="M260.3,334.6 L258.4,345.7 L256.6,353.1 L264.0,358.7 L271.4,362.4 L278.9,366.1"/>
<path d="M282.6,327.1 L286.3,336.4 L290.0,349.4"/>
<path d="M278.9,366.1 L275.1,371.7 L277.0,381.0 L280.7,386.6"/>
<path d="M199.0,358.7 L208.3,364.3 L215.7,369.9 L219.4,375.4 L225.0,381.0 L234.3,381.0"/>
<path d="M234.3,381.0 L236.1,386.6 L234.3,389.9"/>
<path d="M191.6,295.6 L200.9,296.5 L210.1,297.4 L223.1,295.6 L234.3,293.7"/>
<path d="M329.0,290.0 L329.9,299.3 L328.1,308.6"/>
<path d="M303.0,323.4 L308.6,321.6 L317.9,312.3 L328.1,308.6 L336.4,311.4 L345.7,308.6 L351.3,310.4"/>
<path d="M351.3,310.4 L358.7,306.7 L360.6,297.4 L364.3,291.9"/>
<path d="M364.3,291.9 L373.6,299.3 L382.9,301.1 L390.3,295.6 L401.4,293.7"/>
<path d="M351.3,310.4 L358.7,317.9 L358.7,327.1 L353.1,332.7 L354.1,340.1"/>
<path d="M308.6,325.3 L316.0,336.4 L325.3,332.7 L332.7,338.3 L343.9,340.1 L354.1,340.1"/>
<path d="M354.1,332.7 L364.3,334.6 L371.7,333.6 L381.0,329.0 L386.6,321.6 L388.4,314.1 L401.4,301.1"/>
<path d="M369.9,334.6 L368.0,343.9 L371.7,353.1 L379.1,358.7 L382.9,364.3"/>
<path d="M354.1,340.1 L351.3,349.4 L356.9,358.7 L360.6,368.0"/>
<path d="M308.6,325.3 L310.4,336.4 L312.3,347.6 L310.4,355.0"/>
<path d="M310.4,355.0 L314.1,364.3 L327.1,371.7 L340.1,369.9 L351.3,369.9 L360.6,368.0"/>
<path d="M360.6,368.0 L371.7,369.9 L381.0,371.7 L384.7,368.0 L382.9,364.3"/>
<path d="M334.6,371.7 L338.3,381.0 L336.4,389.9"/>
<path d="M310.4,355.0 L306.7,368.0 L303.0,379.1 L301.1,389.9"/>
<path d="M290.0,351.3 L299.3,355.0 L310.4,355.0"/>
<path d="M290.0,323.4 L303.0,323.4"/>
<path d="M295.6,290.0 L299.3,301.1 L303.0,312.3 L303.0,323.4"/>
<path d="M382.9,364.3 L390.3,356.9 L401.4,349.4 L408.9,353.1 L416.3,360.6 L420.0,364.3"/>
<path d="M386.6,321.6 L395.9,325.3 L403.3,327.1 L410.7,329.0 L420.0,325.3"/>
<path d="M384.7,368.0 L386.6,379.1 L388.4,389.9"/>
<path d="M194.1,406.7 L203.4,410.4 L212.7,408.6 L218.3,416.0 L225.7,421.6 L231.3,419.7"/>
<path d="M231.3,419.7 L235.0,408.6 L238.7,401.1 L246.1,397.4 L248.0,390.0"/>
<path d="M246.1,397.4 L257.3,403.0 L266.6,399.3 L274.0,395.6 L281.4,390.0"/>
<path d="M266.6,399.3 L266.6,410.4 L274.0,417.9 L281.4,416.0 L292.6,417.9"/>
<path d="M231.3,419.7 L236.9,427.1 L244.3,429.9 L257.3,429.0 L262.9,425.3 L262.9,417.9 L266.6,410.4"/>
<path d="M236.9,427.1 L231.3,434.6 L227.6,442.0 L225.7,447.6"/>
<path d="M186.7,449.4 L196.0,450.4 L207.1,448.5 L218.3,449.4 L225.7,447.6 L231.3,449.4"/>
<path d="M231.3,449.4 L233.1,456.9 L238.7,458.7 L248.0,459.6 L251.7,460.6"/>
<path d="M262.9,425.3 L268.4,434.6 L266.6,443.9 L270.3,451.3 L262.9,456.9 L251.7,460.6"/>
<path d="M231.3,449.4 L233.1,456.9 L229.4,464.3 L225.7,471.7 L223.9,479.1"/>
<path d="M251.7,460.6 L249.9,468.0 L251.7,475.4 L249.9,482.9"/>
<path d="M270.3,451.3 L277.7,455.0 L288.9,453.1 L296.3,456.9 L300.0,460.6"/>
<path d="M262.9,471.7 L270.3,468.0 L277.7,471.7 L285.1,477.3 L290.7,482.9 L300.0,484.7"/>
<path d="M292.6,417.9 L288.9,427.1 L285.1,434.6 L290.7,438.3 L300.0,434.6"/>
<path d="M281.4,390.0 L288.9,397.4 L292.6,406.7 L292.6,417.9"/>
<path d="M322.3,390.0 L327.9,399.3 L333.4,408.6 L337.1,419.7 L340.9,425.3"/>
<path d="M300.0,423.4 L307.4,425.3 L314.9,432.7 L322.3,443.9 L327.9,443.9"/>
<path d="M340.9,425.3 L346.4,434.6 L353.9,432.7 L361.3,438.3 L366.9,449.4 L370.6,453.1"/>
<path d="M353.9,390.0 L357.6,399.3 L361.3,408.6 L359.4,416.0 L350.1,417.9 L340.9,425.3"/>
<path d="M361.3,408.6 L372.4,414.1 L381.7,412.3 L383.6,425.3 L385.4,434.6"/>
<path d="M381.7,412.3 L383.6,401.1 L385.4,390.0"/>
<path d="M385.4,434.6 L381.7,442.0 L378.0,449.4 L374.3,453.1"/>
<path d="M385.4,434.6 L396.6,438.3 L407.7,442.0 L415.1,443.9 L418.9,442.0"/>
<path d="M383.6,414.1 L392.9,412.3 L404.0,414.1 L415.1,410.4 L422.6,414.1 L430.0,412.3"/>
<path d="M415.1,410.4 L411.4,421.6 L415.1,432.7 L411.4,440.1 L415.1,443.9"/>
<path d="M415.1,443.9 L418.9,451.3 L417.0,460.6 L420.7,468.0"/>
<path d="M327.9,443.9 L320.4,453.1 L316.7,458.7 L324.1,460.6 L331.6,462.4"/>
<path d="M300.0,458.7 L309.3,458.7 L316.7,458.7"/>
<path d="M305.6,477.3 L314.9,475.4 L324.1,479.1 L331.6,477.3"/>
<path d="M399.6,235.0 L405.1,242.4 L408.9,251.7 L407.0,259.1 L401.4,268.4 L400.5,275.9"/>
<path d="M408.9,251.7 L416.3,253.6 L421.9,251.7 L429.3,255.4 L436.7,253.6 L442.3,257.3"/>
<path d="M449.7,235.0 L447.9,246.1 L442.3,257.3 L444.1,264.7 L447.9,270.3"/>
<path d="M444.1,264.7 L438.6,270.3 L447.9,270.3 L455.3,272.1"/>
<path d="M400.5,275.9 L405.1,283.3 L416.3,281.4 L429.3,275.9 L438.6,270.3"/>
<path d="M366.1,253.6 L377.3,251.7 L386.6,262.9 L394.0,268.4 L400.5,275.9"/>
<path d="M400.5,275.9 L399.6,285.1 L403.3,294.4 L399.6,301.9 L401.4,309.3"/>
<path d="M403.3,294.4 L412.6,290.7 L416.3,298.1 L423.7,303.7 L425.6,309.3 L423.7,314.9"/>
<path d="M362.4,285.1 L369.9,292.6 L379.1,300.0 L390.3,299.1 L399.6,301.9"/>
<path d="M401.4,309.3 L399.6,316.7 L403.3,324.1 L410.7,327.9 L418.1,329.7 L423.7,322.3"/>
<path d="M355.0,257.3 L362.4,255.4 L366.1,253.6"/>
<path d="M366.1,253.6 L368.0,264.7 L362.4,275.9 L362.4,285.1 L358.7,292.6 L355.0,296.3"/>
<path d="M358.7,292.6 L360.6,301.9 L358.7,309.3 L355.0,311.1"/>
<path d="M366.1,253.6 L368.0,244.3 L366.1,235.0"/>
<path d="M379.1,300.0 L382.9,313.0 L384.7,324.1 L381.0,334.9"/>
<path d="M403.3,348.3 L408.0,353.0 L414.3,359.3 L419.0,365.6 L422.1,368.7"/>
<path d="M415.9,335.7 L417.4,343.6 L423.7,349.9 L433.1,353.0 L441.0,351.4 L447.3,349.9"/>
<path d="M422.1,329.4 L419.0,334.1 L415.9,335.7 L414.3,342.0 L403.3,348.3"/>
<path d="M375.0,345.1 L384.4,346.7 L390.7,351.4 L395.4,349.9 L403.3,348.3"/>
<path d="M422.1,368.7 L426.9,365.6 L428.4,373.4 L431.6,379.7"/>
<path d="M431.6,379.7 L426.9,382.9 L419.0,382.9 L408.0,383.6 L398.6,382.9 L397.0,376.6"/>
<path d="M431.6,379.7 L441.0,378.1 L448.9,375.0 L456.7,371.9"/>
<path d="M397.0,376.6 L393.9,371.9 L384.4,370.3 L384.4,379.7 L387.6,392.3 L386.0,404.9"/>
<path d="M408.0,383.6 L406.4,390.7 L409.6,397.0 L406.4,405.0"/>
<path d="M409.6,397.0 L419.0,395.4 L428.4,392.3 L434.7,390.7 L442.6,382.9 L447.3,381.3"/>
<path d="M375.0,360.9 L381.3,362.4 L384.4,370.3"/>
</g>
</g>
<path d="M303,121 L315,118 L317,125.5 L325,133.5 L331.8,131.7 L336.4,141 L344,144 L348,150 L355,151.2 L361.5,154 L362.4,165.1 L373.6,166 L376.4,159.6 L380,158.6 L381,168.9 L383,174.4 L392,179 L399.6,186.5 L408,184.6 L416.3,187.4 L423.7,185.6 L430.2,188.4 L436.7,197.6 L448,201.4 L456.2,198.6 L462.7,202.3 L470,203.2 L479.4,206 L477.6,215 L473.8,218 L470,226 L466.4,239 L464.6,250.3 L465.5,267 L460.8,274.2 L451.6,274 L447.9,278.6 L450.6,279.6 L444.1,289 L435,298 L431,307.4 L423.7,315 L421,324 L424.5,329 L429,326 L431,324 L437,322.3 L445,322 L448,328.6 L448,336 L453.4,340.6 L452.5,346.2 L447,350 L451.6,356.4 L459,364.8 L456.2,373.1 L448,377.8 L444.1,381.5 L448,388 L455.3,391.7 L457.1,397.3 L454.3,405 L451.6,405 L453.4,412.4 L460.8,417.1 L472,420.8 L478.5,418 L479.4,422.6 L475.7,431 L470.1,438.4 L459,446 L453.4,451.4 L449.7,460.7 L444.1,466.3 L433,470 L423.7,469 L418.1,466.3 L409,464.4 L405.1,460.7 L403.3,455.1 L394,457 L390.3,458 L381,457 L371.7,454.2 L366.1,451.4 L360.6,454.2 L355,457.5 L346.4,464.3 L337.1,469.9 L333.4,477.3 L332,485 L333,494 L335.5,498.8 L329,499.7 L321.6,501.6 L314.1,503.4 L306.7,501.6 L297.4,502.8 L296.5,497.9 L290,494.1 L280.7,492.3 L277,489.5 L266,485 L255.6,483 L253.8,487.6 L243.6,487.6 L236,486.7 L225,484.5 L223.1,481.1 L213.8,483 L206.4,475.6 L199,474.6 L191.6,470 L186,469.1 L188,464.4 L183.2,460.7 L178.6,459.8 L175.6,455.5 L182.3,453.3 L187,446 L189.7,434.7 L192.5,420 L195.3,405 L196.2,397.3 L197.1,388 L199,375 L200.8,365.7 L204.6,359.2 L199,353.6 L200.8,349 L204.6,343.4 L202.7,339.7 L199,336 L202.7,332.3 L195.3,325 L185.5,317.4 L183.5,311 L181,305.5 L175,299.5 L174,293 L171,287.3 L163.7,281.7 L162.8,274.3 L154.4,268.7 L145,267.8 L141.4,264 L134,260.4 L126.6,256.6 L119,253 L115.4,251 L110.8,254.8 L108,245.5 L99.6,243.6 L105.2,236.2 L113.6,232.5 L108,229.7 L100.6,229.7 L99.6,222.3 L106,218.6 L117.3,216.7 L128.4,217.6 L135,216.7 L136.8,212.1 L150.7,211.1 L154.4,218.6 L159,224 L165.6,224 L173,221.4 L180.4,223.2 L186,221.4 L193.4,225 L196.2,218.6 L194.3,207.4 L195.4,202.4 L191.7,193 L188,183.8 L185.5,175 L196,177 L206.5,178.2 L206,183 L208.4,190.3 L215.8,192 L225,194 L236,195.8 L243.6,188.4 L244.5,182.8 L252.9,176.3 L271.4,168.9 L284.4,159.6 L286.3,154 L287.2,128 Z" fill="none" stroke="#1a1a1a" stroke-width="1.15" stroke-linejoin="round"/>
<g fill="#111" stroke="none">
<ellipse cx="95.3" cy="228.8" rx="1.3" ry="0.9"/><ellipse cx="95.5" cy="243.6" rx="0.9" ry="0.7"/>
<ellipse cx="120" cy="259.6" rx="1.5" ry="1.1"/><ellipse cx="135" cy="264.3" rx="1.6" ry="1"/>
<ellipse cx="143.8" cy="278.6" rx="2.7" ry="1.5" transform="rotate(25 143.8 278.6)"/><ellipse cx="150.3" cy="277.2" rx="1" ry="0.7"/><ellipse cx="152.8" cy="279" rx="0.9" ry="0.6"/>
<ellipse cx="170.6" cy="295.8" rx="1.4" ry="2" transform="rotate(-20 170.6 295.8)"/><ellipse cx="166.5" cy="307" rx="1.7" ry="1"/>
<ellipse cx="194.2" cy="331.6" rx="4.2" ry="1.3" transform="rotate(22 194.2 331.6)"/>
<ellipse cx="187" cy="212.6" rx="1.1" ry="0.7"/><ellipse cx="139.6" cy="209.5" rx="0.9" ry="0.6"/>
<ellipse cx="437" cy="471.8" rx="1.8" ry="0.9"/><ellipse cx="442.5" cy="470.3" rx="1.6" ry="0.8"/><ellipse cx="431" cy="472.3" rx="1.3" ry="0.8"/>
</g>
<path d="M193.6,339 L196.2,339.5 L198.6,345 L198.2,349.2 L196.3,348 L195.6,343.5 Z" fill="#e6f2a8" stroke="#111" stroke-width="0.8"/>
<path d="M395,451 L398,450.2 L401.5,452 L401.8,456 L399,457 L396.5,455 Z" fill="#fff" stroke="#111" stroke-width="0.7"/>
<path d="M196.6,396.5 L201.2,396 L202.6,402.3 L198,402.6 Z" fill="#fff" stroke="#111" stroke-width="0.8"/>

<g clip-path="url(#cco)">
<g filter="url(#bl)">
<rect x="505" y="460" width="50" height="85" fill="#f59450"/>
<path d="M509.3,469.3 C516.4,457.1 544.8,457.1 551.9,469.3 C559.0,481.6 559.0,530.5 551.9,542.8 C544.8,555.0 516.4,555.0 509.3,542.8 C502.2,530.5 502.2,481.6 509.3,469.3Z" fill="#f59450"/>
<path d="M516.1,487.7 C516.4,486.2 522.4,482.5 524.8,480.9 C527.2,479.3 528.7,478.3 530.6,478.0 C532.5,477.7 534.9,477.9 536.0,479.0 C537.1,480.1 538.1,483.2 537.4,484.8 C536.7,486.4 534.0,487.5 531.6,488.3 C529.2,489.1 525.5,489.7 522.9,489.6 C520.3,489.5 515.8,489.1 516.1,487.7Z" fill="#e8622a"/>
<path d="M522.9,491.6 C525.3,490.3 531.6,488.7 534.5,488.7 C537.4,488.7 538.5,489.7 540.3,491.6 C542.1,493.5 544.5,496.6 545.1,500.3 C545.7,504.0 544.6,509.3 544.1,513.8 C543.6,518.3 543.2,523.8 542.2,527.3 C541.2,530.8 539.9,534.5 538.3,535.1 C536.7,535.8 534.4,533.1 532.5,531.2 C530.6,529.3 528.3,526.4 526.7,523.5 C525.1,520.6 524.2,517.0 522.9,513.8 C521.6,510.6 519.5,507.0 519.0,504.1 C518.5,501.2 519.4,498.5 520.0,496.4 C520.6,494.3 520.5,492.9 522.9,491.6Z" fill="#f5b85e"/>
<path d="M523.8,493.5 C525.8,492.4 530.9,490.8 533.5,491.0 C536.1,491.2 537.6,492.8 539.3,494.5 C541.0,496.2 543.1,498.0 543.7,501.2 C544.4,504.4 543.6,509.6 543.2,513.8 C542.8,518.0 542.2,523.5 541.2,526.4 C540.2,529.3 538.9,531.1 537.4,531.2 C535.9,531.4 534.1,529.2 532.5,527.3 C530.9,525.4 529.1,522.2 527.7,519.6 C526.4,517.0 525.5,514.6 524.4,511.9 C523.3,509.2 521.4,505.6 520.9,503.2 C520.4,500.8 520.8,499.0 521.3,497.4 C521.8,495.8 521.8,494.6 523.8,493.5Z" fill="#f7d56e"/>
<path d="M524.8,495.4 C526.1,494.3 529.0,493.0 530.6,493.5 C532.2,494.0 532.9,496.9 534.5,498.3 C536.1,499.8 539.0,499.9 540.3,502.2 C541.6,504.5 542.1,508.3 542.2,511.9 C542.4,515.4 542.2,520.9 541.2,523.5 C540.2,526.1 538.0,527.3 536.4,527.3 C534.8,527.3 532.7,525.8 531.6,523.5 C530.5,521.2 530.6,516.7 529.6,513.8 C528.6,510.9 526.9,508.4 525.8,506.1 C524.7,503.9 523.1,502.1 522.9,500.3 C522.7,498.5 523.5,496.5 524.8,495.4Z" fill="#f5f57a"/>
<path d="M530.6,502.2 C531.4,501.1 535.0,501.9 536.4,503.2 C537.8,504.5 539.3,508.1 539.3,509.9 C539.3,511.7 537.7,513.8 536.4,513.8 C535.1,513.8 532.6,511.8 531.6,509.9 C530.6,508.0 529.8,503.3 530.6,502.2Z" fill="#ccf3a0"/>
<path d="M536.0,465.5 C536.7,463.3 540.0,464.4 541.0,467.0 C542.0,469.6 542.9,478.7 542.2,480.9 C541.5,483.1 538.0,482.6 537.0,480.0 C536.0,477.4 535.3,467.7 536.0,465.5Z" fill="#f7d56e"/>
<path d="M538.3,482.9 C538.6,481.6 542.8,484.4 544.1,486.7 C545.5,488.9 546.7,495.1 546.4,496.4 C546.1,497.7 543.6,496.8 542.2,494.5 C540.9,492.2 538.0,484.2 538.3,482.9Z" fill="#f5b85e"/>
</g>
<g fill="none" stroke="#4a3a20" stroke-width="0.5" opacity="0.7">
<path d="M509.3,469.3 C516.4,457.1 544.8,457.1 551.9,469.3 C559.0,481.6 559.0,530.5 551.9,542.8 C544.8,555.0 516.4,555.0 509.3,542.8 C502.2,530.5 502.2,481.6 509.3,469.3Z"/>
<path d="M516.1,487.7 C516.4,486.2 522.4,482.5 524.8,480.9 C527.2,479.3 528.7,478.3 530.6,478.0 C532.5,477.7 534.9,477.9 536.0,479.0 C537.1,480.1 538.1,483.2 537.4,484.8 C536.7,486.4 534.0,487.5 531.6,488.3 C529.2,489.1 525.5,489.7 522.9,489.6 C520.3,489.5 515.8,489.1 516.1,487.7Z"/>
<path d="M522.9,491.6 C525.3,490.3 531.6,488.7 534.5,488.7 C537.4,488.7 538.5,489.7 540.3,491.6 C542.1,493.5 544.5,496.6 545.1,500.3 C545.7,504.0 544.6,509.3 544.1,513.8 C543.6,518.3 543.2,523.8 542.2,527.3 C541.2,530.8 539.9,534.5 538.3,535.1 C536.7,535.8 534.4,533.1 532.5,531.2 C530.6,529.3 528.3,526.4 526.7,523.5 C525.1,520.6 524.2,517.0 522.9,513.8 C521.6,510.6 519.5,507.0 519.0,504.1 C518.5,501.2 519.4,498.5 520.0,496.4 C520.6,494.3 520.5,492.9 522.9,491.6Z"/>
<path d="M523.8,493.5 C525.8,492.4 530.9,490.8 533.5,491.0 C536.1,491.2 537.6,492.8 539.3,494.5 C541.0,496.2 543.1,498.0 543.7,501.2 C544.4,504.4 543.6,509.6 543.2,513.8 C542.8,518.0 542.2,523.5 541.2,526.4 C540.2,529.3 538.9,531.1 537.4,531.2 C535.9,531.4 534.1,529.2 532.5,527.3 C530.9,525.4 529.1,522.2 527.7,519.6 C526.4,517.0 525.5,514.6 524.4,511.9 C523.3,509.2 521.4,505.6 520.9,503.2 C520.4,500.8 520.8,499.0 521.3,497.4 C521.8,495.8 521.8,494.6 523.8,493.5Z"/>
<path d="M524.8,495.4 C526.1,494.3 529.0,493.0 530.6,493.5 C532.2,494.0 532.9,496.9 534.5,498.3 C536.1,499.8 539.0,499.9 540.3,502.2 C541.6,504.5 542.1,508.3 542.2,511.9 C542.4,515.4 542.2,520.9 541.2,523.5 C540.2,526.1 538.0,527.3 536.4,527.3 C534.8,527.3 532.7,525.8 531.6,523.5 C530.5,521.2 530.6,516.7 529.6,513.8 C528.6,510.9 526.9,508.4 525.8,506.1 C524.7,503.9 523.1,502.1 522.9,500.3 C522.7,498.5 523.5,496.5 524.8,495.4Z"/>
<path d="M530.6,502.2 C531.4,501.1 535.0,501.9 536.4,503.2 C537.8,504.5 539.3,508.1 539.3,509.9 C539.3,511.7 537.7,513.8 536.4,513.8 C535.1,513.8 532.6,511.8 531.6,509.9 C530.6,508.0 529.8,503.3 530.6,502.2Z"/>
<path d="M536.0,465.5 C536.7,463.3 540.0,464.4 541.0,467.0 C542.0,469.6 542.9,478.7 542.2,480.9 C541.5,483.1 538.0,482.6 537.0,480.0 C536.0,477.4 535.3,467.7 536.0,465.5Z"/>
<path d="M538.3,482.9 C538.6,481.6 542.8,484.4 544.1,486.7 C545.5,488.9 546.7,495.1 546.4,496.4 C546.1,497.7 543.6,496.8 542.2,494.5 C540.9,492.2 538.0,484.2 538.3,482.9Z"/>
</g>
</g>
<path d="M538.3,464.5 L536.4,466.4 L537.3,479 L535.4,479 L530.6,478.6 L524.8,482.9 L517,486.7 L515.1,494.4 L512.2,496.4 L516.1,500.2 L513.2,503.1 L517,508 L515.1,512.8 L519,516.7 L518,522.5 L522.8,524.4 L523.8,529.2 L530.6,533.1 L536.4,537 L539.9,538.9 L540.6,531.2 L542.2,525.4 L542.6,515.7 L546,506 L546.4,496.4 L544.1,486.7 L541.8,480 L540.6,467.4 Z" fill="none" stroke="#222" stroke-width="1" stroke-linejoin="round"/>
<!-- LEGEND -->
<g id="legend">
<rect x="589.7" y="194.60" width="14.6" height="19.86" fill="#fad0e8"/>
<rect x="589.7" y="214.16" width="14.6" height="19.86" fill="#f8bdf0"/>
<rect x="589.7" y="233.71" width="14.6" height="19.86" fill="#f5a5f5"/>
<rect x="589.7" y="253.27" width="14.6" height="19.86" fill="#f28cf8"/>
<rect x="589.7" y="272.82" width="14.6" height="19.86" fill="#cc90f8"/>
<rect x="589.7" y="292.38" width="14.6" height="19.86" fill="#a197f8"/>
<rect x="589.7" y="311.93" width="14.6" height="19.86" fill="#729af7"/>
<rect x="589.7" y="331.49" width="14.6" height="19.86" fill="#56a2f5"/>
<rect x="589.7" y="351.04" width="14.6" height="19.86" fill="#74b8e7"/>
<rect x="589.7" y="370.60" width="14.6" height="19.86" fill="#90d0d8"/>
<rect x="589.7" y="390.16" width="14.6" height="19.86" fill="#a6e3c8"/>
<rect x="589.7" y="409.71" width="14.6" height="19.86" fill="#b9eeb5"/>
<rect x="589.7" y="429.27" width="14.6" height="19.86" fill="#ccf3a0"/>
<rect x="589.7" y="448.82" width="14.6" height="19.86" fill="#e4f58e"/>
<rect x="589.7" y="468.38" width="14.6" height="19.86" fill="#f5f57a"/>
<rect x="589.7" y="487.93" width="14.6" height="19.86" fill="#f7d56e"/>
<rect x="589.7" y="507.49" width="14.6" height="19.86" fill="#f5b85e"/>
<rect x="589.7" y="527.04" width="14.6" height="19.86" fill="#f59450"/>
<path d="M589.4000000000001,194.6 L597.0,187.0 L604.5999999999999,194.6 Z" fill="#fbe0ee" stroke="#111" stroke-width="1.3" stroke-linejoin="miter"/>
<path d="M589.4000000000001,546.6 L597.0,554.0 L604.5999999999999,546.6 Z" fill="#e8622a" stroke="#111" stroke-width="1.3"/>
<rect x="589.7" y="194.6" width="14.6" height="352.00" fill="none" stroke="#0a0a14" stroke-width="1.9"/>
<line x1="589.7" y1="194.60" x2="611.8" y2="194.60" stroke="#111" stroke-width="0.9"/>
<text x="629.4" y="196.70" text-anchor="end" font-size="6.1" fill="#111" font-family="Liberation Sans, sans-serif">500</text>
<line x1="589.7" y1="214.16" x2="611.8" y2="214.16" stroke="#111" stroke-width="0.9"/>
<text x="629.4" y="216.26" text-anchor="end" font-size="6.1" fill="#111" font-family="Liberation Sans, sans-serif">450</text>
<line x1="589.7" y1="233.71" x2="611.8" y2="233.71" stroke="#111" stroke-width="0.9"/>
<text x="629.4" y="235.81" text-anchor="end" font-size="6.1" fill="#111" font-family="Liberation Sans, sans-serif">400</text>
<line x1="589.7" y1="253.27" x2="611.8" y2="253.27" stroke="#111" stroke-width="0.9"/>
<text x="629.4" y="255.37" text-anchor="end" font-size="6.1" fill="#111" font-family="Liberation Sans, sans-serif">350</text>
<line x1="589.7" y1="272.82" x2="611.8" y2="272.82" stroke="#111" stroke-width="0.9"/>
<text x="629.4" y="274.92" text-anchor="end" font-size="6.1" fill="#111" font-family="Liberation Sans, sans-serif">300</text>
<line x1="589.7" y1="292.38" x2="611.8" y2="292.38" stroke="#111" stroke-width="0.9"/>
<text x="629.4" y="294.48" text-anchor="end" font-size="6.1" fill="#111" font-family="Liberation Sans, sans-serif">250</text>
<line x1="589.7" y1="311.93" x2="611.8" y2="311.93" stroke="#111" stroke-width="0.9"/>
<text x="629.4" y="314.03" text-anchor="end" font-size="6.1" fill="#111" font-family="Liberation Sans, sans-serif">200</text>
<line x1="589.7" y1="331.49" x2="611.8" y2="331.49" stroke="#111" stroke-width="0.9"/>
<text x="629.4" y="333.59" text-anchor="end" font-size="6.1" fill="#111" font-family="Liberation Sans, sans-serif">150</text>
<line x1="589.7" y1="351.04" x2="611.8" y2="351.04" stroke="#111" stroke-width="0.9"/>
<text x="629.4" y="353.14" text-anchor="end" font-size="6.1" fill="#111" font-family="Liberation Sans, sans-serif">120</text>
<line x1="589.7" y1="370.60" x2="611.8" y2="370.60" stroke="#111" stroke-width="0.9"/>
<text x="629.4" y="372.70" text-anchor="end" font-size="6.1" fill="#111" font-family="Liberation Sans, sans-serif">100</text>
<line x1="589.7" y1="390.16" x2="611.8" y2="390.16" stroke="#111" stroke-width="0.9"/>
<text x="629.4" y="392.26" text-anchor="end" font-size="6.1" fill="#111" font-family="Liberation Sans, sans-serif">80</text>
<line x1="589.7" y1="409.71" x2="611.8" y2="409.71" stroke="#111" stroke-width="0.9"/>
<text x="629.4" y="411.81" text-anchor="end" font-size="6.1" fill="#111" font-family="Liberation Sans, sans-serif">60</text>
<line x1="589.7" y1="429.27" x2="611.8" y2="429.27" stroke="#111" stroke-width="0.9"/>
<text x="629.4" y="431.37" text-anchor="end" font-size="6.1" fill="#111" font-family="Liberation Sans, sans-serif">50</text>
<line x1="589.7" y1="448.82" x2="611.8" y2="448.82" stroke="#111" stroke-width="0.9"/>
<text x="629.4" y="450.92" text-anchor="end" font-size="6.1" fill="#111" font-family="Liberation Sans, sans-serif">40</text>
<line x1="589.7" y1="468.38" x2="611.8" y2="468.38" stroke="#111" stroke-width="0.9"/>
<text x="629.4" y="470.48" text-anchor="end" font-size="6.1" fill="#111" font-family="Liberation Sans, sans-serif">30</text>
<line x1="589.7" y1="487.93" x2="611.8" y2="487.93" stroke="#111" stroke-width="0.9"/>
<text x="629.4" y="490.03" text-anchor="end" font-size="6.1" fill="#111" font-family="Liberation Sans, sans-serif">20</text>
<line x1="589.7" y1="507.49" x2="611.8" y2="507.49" stroke="#111" stroke-width="0.9"/>
<text x="629.4" y="509.59" text-anchor="end" font-size="6.1" fill="#111" font-family="Liberation Sans, sans-serif">10</text>
<line x1="589.7" y1="527.04" x2="611.8" y2="527.04" stroke="#111" stroke-width="0.9"/>
<text x="629.4" y="529.14" text-anchor="end" font-size="6.1" fill="#111" font-family="Liberation Sans, sans-serif">5</text>
<line x1="589.7" y1="546.60" x2="611.8" y2="546.60" stroke="#111" stroke-width="0.9"/>
<text x="629.4" y="548.70" text-anchor="end" font-size="6.1" fill="#111" font-family="Liberation Sans, sans-serif">1</text>
<text x="597" y="179.8" text-anchor="middle" font-size="6.1" fill="#111" font-family="Liberation Sans, sans-serif">mm</text>
</g>
<!-- LOGO -->
<g id="logo">
<rect x="48" y="522.3" width="36.3" height="36.3" fill="#10529f"/>
<rect x="61.4" y="528.9" width="9.8" height="9.8" fill="#fff"/>
<circle cx="66.3" cy="533.8" r="3.6" fill="#10529f"/>
<path d="M66.3,530.2 A3.6,3.6 0 0 1 66.3,537.4 A1.8,3.6 0 0 0 66.3,530.2Z" fill="#fff"/>
<text x="66.1" y="546.2" text-anchor="middle" font-family="Liberation Sans, sans-serif" font-weight="bold" font-size="4.9" fill="#fff" textLength="22.6" lengthAdjust="spacingAndGlyphs">METEO</text>
<text x="66.1" y="551.9" text-anchor="middle" font-family="Liberation Sans, sans-serif" font-weight="bold" font-size="4.9" fill="#fff" textLength="22.6" lengthAdjust="spacingAndGlyphs">FRANCE</text>
</g>
</svg>
</body></html>
